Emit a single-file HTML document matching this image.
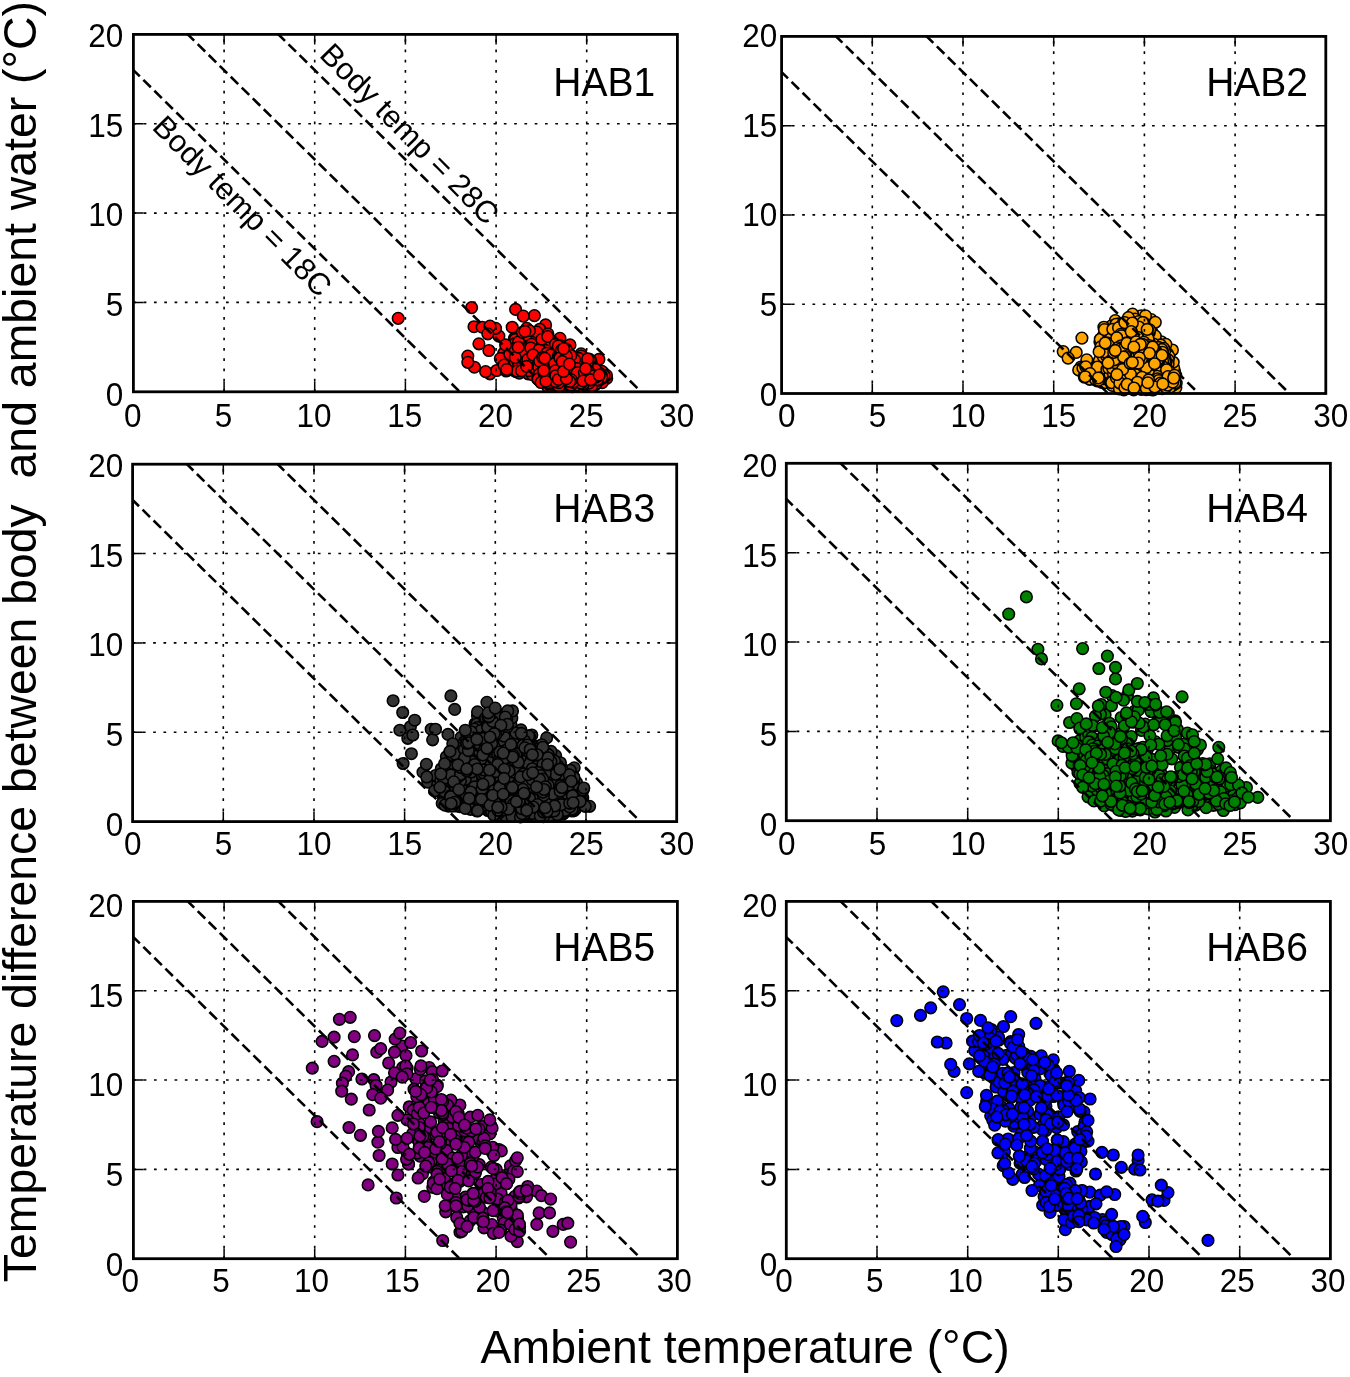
<!DOCTYPE html>
<html lang="en"><head><meta charset="utf-8"><title>Body vs ambient temperature</title>
<style>
html,body{margin:0;padding:0;background:#fff}
body{width:1350px;height:1377px;overflow:hidden}
svg{display:block}
text{font-family:"Liberation Sans", Arial, Helvetica, sans-serif;fill:#000}
.tl{font-size:31.5px}
.hb{font-size:39.0px}
.bt{font-size:30.85px}
.ax{font-size:46.4px}
.gr{fill:none;stroke:#000;stroke-width:1.6;stroke-dasharray:2.7 7.59}
.tk{fill:none;stroke:#000;stroke-width:1.5}
.ds{fill:none;stroke:#000;stroke-width:2.6;stroke-dasharray:10.5 4.96}
.sp{fill:none;stroke:#000;stroke-width:2.8}
.mk{stroke:#000;stroke-width:1.55}
</style></head>
<body>
<svg width="1350" height="1377" viewBox="0 0 1350 1377">
<rect width="1350" height="1377" fill="#fff"/>
<g>
<clipPath id="cp0"><rect x="133.4" y="34.4" width="544" height="357.4"/></clipPath>
<g class="mk" fill="#ff0000"><circle cx="594" cy="363.2" r="5.8"/><circle cx="515.9" cy="371.6" r="5.8"/><circle cx="564.9" cy="354.1" r="5.8"/><circle cx="594.8" cy="385" r="5.8"/><circle cx="558" cy="356.3" r="5.8"/><circle cx="606.7" cy="378.3" r="5.8"/><circle cx="538.7" cy="379.5" r="5.8"/><circle cx="524" cy="361.9" r="5.8"/><circle cx="585" cy="386.5" r="5.8"/><circle cx="536.1" cy="366.3" r="5.8"/><circle cx="555.8" cy="353.7" r="5.8"/><circle cx="560.7" cy="352.9" r="5.8"/><circle cx="530.3" cy="350.7" r="5.8"/><circle cx="516.4" cy="340" r="5.8"/><circle cx="534.6" cy="365.4" r="5.8"/><circle cx="565.8" cy="356.9" r="5.8"/><circle cx="548.9" cy="362.3" r="5.8"/><circle cx="504.6" cy="361.9" r="5.8"/><circle cx="517.5" cy="364.9" r="5.8"/><circle cx="583.8" cy="367.8" r="5.8"/><circle cx="578.6" cy="366" r="5.8"/><circle cx="581.8" cy="371" r="5.8"/><circle cx="598.2" cy="378.3" r="5.8"/><circle cx="565.5" cy="351" r="5.8"/><circle cx="572.5" cy="362" r="5.8"/><circle cx="552.3" cy="379.1" r="5.8"/><circle cx="531.2" cy="359.8" r="5.8"/><circle cx="547.2" cy="370.1" r="5.8"/><circle cx="570.3" cy="356.4" r="5.8"/><circle cx="594.4" cy="376.1" r="5.8"/><circle cx="525.2" cy="347.3" r="5.8"/><circle cx="596.9" cy="382.8" r="5.8"/><circle cx="588.9" cy="360.7" r="5.8"/><circle cx="571.8" cy="381.5" r="5.8"/><circle cx="536.8" cy="336.4" r="5.8"/><circle cx="560.2" cy="363.5" r="5.8"/><circle cx="503.8" cy="353.2" r="5.8"/><circle cx="596.6" cy="372.4" r="5.8"/><circle cx="474" cy="326.7" r="5.8"/><circle cx="543.1" cy="375.7" r="5.8"/><circle cx="583.9" cy="370.3" r="5.8"/><circle cx="554" cy="357.8" r="5.8"/><circle cx="580.1" cy="380.3" r="5.8"/><circle cx="545.6" cy="324.9" r="5.8"/><circle cx="553.3" cy="375.4" r="5.8"/><circle cx="577.9" cy="376.8" r="5.8"/><circle cx="530.3" cy="337.8" r="5.8"/><circle cx="490" cy="373.8" r="5.8"/><circle cx="530.1" cy="345.4" r="5.8"/><circle cx="593.8" cy="370.9" r="5.8"/><circle cx="554.8" cy="355.7" r="5.8"/><circle cx="519.4" cy="358.5" r="5.8"/><circle cx="578.1" cy="375.9" r="5.8"/><circle cx="555.7" cy="359" r="5.8"/><circle cx="518.6" cy="351.5" r="5.8"/><circle cx="474.4" cy="367.2" r="5.8"/><circle cx="560.3" cy="357.9" r="5.8"/><circle cx="524.9" cy="370.2" r="5.8"/><circle cx="562.6" cy="355.3" r="5.8"/><circle cx="542.5" cy="362.8" r="5.8"/><circle cx="553.2" cy="363.9" r="5.8"/><circle cx="502.2" cy="358.3" r="5.8"/><circle cx="541.5" cy="374.7" r="5.8"/><circle cx="543.4" cy="372" r="5.8"/><circle cx="555.7" cy="353" r="5.8"/><circle cx="545.3" cy="380.3" r="5.8"/><circle cx="578" cy="374.2" r="5.8"/><circle cx="549" cy="354.2" r="5.8"/><circle cx="591.4" cy="367.2" r="5.8"/><circle cx="501.9" cy="359.2" r="5.8"/><circle cx="558.1" cy="355.9" r="5.8"/><circle cx="558.1" cy="375.1" r="5.8"/><circle cx="560.7" cy="359.7" r="5.8"/><circle cx="512.2" cy="345.9" r="5.8"/><circle cx="552.3" cy="364.4" r="5.8"/><circle cx="589.2" cy="368.2" r="5.8"/><circle cx="556.2" cy="374.6" r="5.8"/><circle cx="560.7" cy="378.8" r="5.8"/><circle cx="588.5" cy="363.3" r="5.8"/><circle cx="555.8" cy="381.8" r="5.8"/><circle cx="553.9" cy="385" r="5.8"/><circle cx="543.2" cy="380.1" r="5.8"/><circle cx="552.5" cy="362.6" r="5.8"/><circle cx="572.9" cy="373.3" r="5.8"/><circle cx="553.6" cy="361.3" r="5.8"/><circle cx="589.4" cy="365.1" r="5.8"/><circle cx="539.9" cy="377.6" r="5.8"/><circle cx="602.2" cy="382.7" r="5.8"/><circle cx="554.3" cy="352.9" r="5.8"/><circle cx="542.9" cy="355.5" r="5.8"/><circle cx="553.3" cy="368.3" r="5.8"/><circle cx="582.4" cy="363" r="5.8"/><circle cx="592.2" cy="369.4" r="5.8"/><circle cx="590.8" cy="375.7" r="5.8"/><circle cx="518.9" cy="347.2" r="5.8"/><circle cx="571.8" cy="368.7" r="5.8"/><circle cx="526.5" cy="370.2" r="5.8"/><circle cx="556.3" cy="376.4" r="5.8"/><circle cx="564.9" cy="373.4" r="5.8"/><circle cx="583.3" cy="363" r="5.8"/><circle cx="522" cy="358.3" r="5.8"/><circle cx="547.5" cy="386.4" r="5.8"/><circle cx="515.6" cy="309.4" r="5.8"/><circle cx="555" cy="348.4" r="5.8"/><circle cx="520.4" cy="343.8" r="5.8"/><circle cx="509.3" cy="348.3" r="5.8"/><circle cx="550.8" cy="365.3" r="5.8"/><circle cx="567.3" cy="353.8" r="5.8"/><circle cx="537" cy="361.1" r="5.8"/><circle cx="563.6" cy="378.7" r="5.8"/><circle cx="488.9" cy="350.5" r="5.8"/><circle cx="570" cy="344.9" r="5.8"/><circle cx="542.2" cy="371" r="5.8"/><circle cx="577.4" cy="373.2" r="5.8"/><circle cx="511.2" cy="357.9" r="5.8"/><circle cx="587.1" cy="368.7" r="5.8"/><circle cx="569.5" cy="370.3" r="5.8"/><circle cx="533.1" cy="359.7" r="5.8"/><circle cx="591.7" cy="366.3" r="5.8"/><circle cx="577.7" cy="369.4" r="5.8"/><circle cx="482.2" cy="327.2" r="5.8"/><circle cx="550.6" cy="367.9" r="5.8"/><circle cx="535.3" cy="348.6" r="5.8"/><circle cx="560.2" cy="356.8" r="5.8"/><circle cx="547.2" cy="357.8" r="5.8"/><circle cx="525.1" cy="368.2" r="5.8"/><circle cx="584.9" cy="369.4" r="5.8"/><circle cx="515.9" cy="341.4" r="5.8"/><circle cx="526.4" cy="334.9" r="5.8"/><circle cx="565.7" cy="383.4" r="5.8"/><circle cx="598.9" cy="359.4" r="5.8"/><circle cx="550.1" cy="384.5" r="5.8"/><circle cx="590.9" cy="361" r="5.8"/><circle cx="550.8" cy="384" r="5.8"/><circle cx="398.2" cy="318.3" r="5.8"/><circle cx="496.7" cy="370.5" r="5.8"/><circle cx="558.1" cy="354.3" r="5.8"/><circle cx="583.4" cy="366.8" r="5.8"/><circle cx="551.5" cy="372.7" r="5.8"/><circle cx="514.2" cy="370.4" r="5.8"/><circle cx="500.3" cy="358.6" r="5.8"/><circle cx="513.5" cy="353.8" r="5.8"/><circle cx="587.9" cy="385" r="5.8"/><circle cx="597.5" cy="372.8" r="5.8"/><circle cx="587.4" cy="362.8" r="5.8"/><circle cx="543.3" cy="358.3" r="5.8"/><circle cx="556.9" cy="355.9" r="5.8"/><circle cx="542" cy="374.7" r="5.8"/><circle cx="586.7" cy="360.5" r="5.8"/><circle cx="573.2" cy="385.2" r="5.8"/><circle cx="498.9" cy="336.1" r="5.8"/><circle cx="573.3" cy="358.3" r="5.8"/><circle cx="562.9" cy="366.7" r="5.8"/><circle cx="549.2" cy="376.9" r="5.8"/><circle cx="559.9" cy="357.9" r="5.8"/><circle cx="570.9" cy="369.7" r="5.8"/><circle cx="528.2" cy="373.8" r="5.8"/><circle cx="567.7" cy="370.6" r="5.8"/><circle cx="556.1" cy="371.4" r="5.8"/><circle cx="495.6" cy="328.3" r="5.8"/><circle cx="518.5" cy="366.8" r="5.8"/><circle cx="578.5" cy="373.9" r="5.8"/><circle cx="514.4" cy="338.3" r="5.8"/><circle cx="515.3" cy="339.4" r="5.8"/><circle cx="580" cy="369.8" r="5.8"/><circle cx="531.6" cy="344.3" r="5.8"/><circle cx="592.4" cy="366.1" r="5.8"/><circle cx="554.9" cy="357" r="5.8"/><circle cx="603.3" cy="372.7" r="5.8"/><circle cx="565.5" cy="353.5" r="5.8"/><circle cx="565.6" cy="386.5" r="5.8"/><circle cx="537.5" cy="378.1" r="5.8"/><circle cx="595.7" cy="374.1" r="5.8"/><circle cx="588.1" cy="366.3" r="5.8"/><circle cx="561.8" cy="381.4" r="5.8"/><circle cx="583" cy="369.9" r="5.8"/><circle cx="544.8" cy="367.8" r="5.8"/><circle cx="507.7" cy="369.7" r="5.8"/><circle cx="550.3" cy="363" r="5.8"/><circle cx="557.7" cy="369.7" r="5.8"/><circle cx="589.3" cy="369.6" r="5.8"/><circle cx="542" cy="351.9" r="5.8"/><circle cx="597.8" cy="380.1" r="5.8"/><circle cx="566.5" cy="367.2" r="5.8"/><circle cx="564.4" cy="370.1" r="5.8"/><circle cx="561.2" cy="365" r="5.8"/><circle cx="557.7" cy="368.9" r="5.8"/><circle cx="575.8" cy="369.6" r="5.8"/><circle cx="548.1" cy="337.1" r="5.8"/><circle cx="542.4" cy="341.9" r="5.8"/><circle cx="540.2" cy="370.5" r="5.8"/><circle cx="515.3" cy="343.4" r="5.8"/><circle cx="602" cy="371.3" r="5.8"/><circle cx="574.1" cy="373.7" r="5.8"/><circle cx="539.8" cy="329.2" r="5.8"/><circle cx="562.3" cy="355.7" r="5.8"/><circle cx="548.6" cy="354.9" r="5.8"/><circle cx="602.6" cy="378.2" r="5.8"/><circle cx="559.1" cy="364.5" r="5.8"/><circle cx="573.6" cy="378" r="5.8"/><circle cx="576" cy="359.6" r="5.8"/><circle cx="547.8" cy="370" r="5.8"/><circle cx="553" cy="365.5" r="5.8"/><circle cx="568.2" cy="363.8" r="5.8"/><circle cx="542.8" cy="357.9" r="5.8"/><circle cx="509.8" cy="354.1" r="5.8"/><circle cx="572.4" cy="386.6" r="5.8"/><circle cx="559.7" cy="358.1" r="5.8"/><circle cx="575.9" cy="376.4" r="5.8"/><circle cx="520.2" cy="360.5" r="5.8"/><circle cx="558.9" cy="355" r="5.8"/><circle cx="569.9" cy="383.3" r="5.8"/><circle cx="534.4" cy="315.6" r="5.8"/><circle cx="554.1" cy="368.1" r="5.8"/><circle cx="541.8" cy="373.9" r="5.8"/><circle cx="517.1" cy="368.1" r="5.8"/><circle cx="552.7" cy="350.7" r="5.8"/><circle cx="560.1" cy="376" r="5.8"/><circle cx="514.3" cy="348.8" r="5.8"/><circle cx="595.8" cy="372.1" r="5.8"/><circle cx="544.4" cy="367.2" r="5.8"/><circle cx="547.9" cy="333.9" r="5.8"/><circle cx="547.8" cy="348.9" r="5.8"/><circle cx="549.6" cy="382.1" r="5.8"/><circle cx="589.7" cy="360.5" r="5.8"/><circle cx="576.6" cy="383" r="5.8"/><circle cx="553.6" cy="369.8" r="5.8"/><circle cx="532.3" cy="374.6" r="5.8"/><circle cx="542.4" cy="344" r="5.8"/><circle cx="568.9" cy="353.3" r="5.8"/><circle cx="542.4" cy="364.4" r="5.8"/><circle cx="555.1" cy="374.7" r="5.8"/><circle cx="577.4" cy="361.8" r="5.8"/><circle cx="573.3" cy="356.7" r="5.8"/><circle cx="573.7" cy="370.1" r="5.8"/><circle cx="576.7" cy="365.4" r="5.8"/><circle cx="572.8" cy="360.2" r="5.8"/><circle cx="550.5" cy="377.6" r="5.8"/><circle cx="519.3" cy="373.2" r="5.8"/><circle cx="523.3" cy="316.1" r="5.8"/><circle cx="543.4" cy="367.5" r="5.8"/><circle cx="596.2" cy="383.6" r="5.8"/><circle cx="584.4" cy="384.2" r="5.8"/><circle cx="589.3" cy="368.5" r="5.8"/><circle cx="587.2" cy="371.6" r="5.8"/><circle cx="606.4" cy="375.3" r="5.8"/><circle cx="568.3" cy="363.9" r="5.8"/><circle cx="536.9" cy="332.1" r="5.8"/><circle cx="541.2" cy="365.6" r="5.8"/><circle cx="560" cy="338.3" r="5.8"/><circle cx="562.3" cy="348.9" r="5.8"/><circle cx="518.5" cy="342" r="5.8"/><circle cx="575.4" cy="362.7" r="5.8"/><circle cx="548.8" cy="363.3" r="5.8"/><circle cx="467.8" cy="356.1" r="5.8"/><circle cx="604.1" cy="375.5" r="5.8"/><circle cx="577" cy="376.3" r="5.8"/><circle cx="560.3" cy="345.5" r="5.8"/><circle cx="554.2" cy="378.5" r="5.8"/><circle cx="541.1" cy="358.6" r="5.8"/><circle cx="582.6" cy="364.7" r="5.8"/><circle cx="544.5" cy="370.4" r="5.8"/><circle cx="534.4" cy="351.6" r="5.8"/><circle cx="507.4" cy="365.9" r="5.8"/><circle cx="545.5" cy="360.5" r="5.8"/><circle cx="601.4" cy="375.4" r="5.8"/><circle cx="562" cy="370.8" r="5.8"/><circle cx="590" cy="376.7" r="5.8"/><circle cx="581.9" cy="360" r="5.8"/><circle cx="490" cy="326.1" r="5.8"/><circle cx="563" cy="353.6" r="5.8"/><circle cx="594.2" cy="381.8" r="5.8"/><circle cx="555.8" cy="358.4" r="5.8"/><circle cx="546.7" cy="379.4" r="5.8"/><circle cx="524.8" cy="353.5" r="5.8"/><circle cx="485.6" cy="371.6" r="5.8"/><circle cx="551.4" cy="386.5" r="5.8"/><circle cx="551.7" cy="363.3" r="5.8"/><circle cx="597.2" cy="378.7" r="5.8"/><circle cx="555.3" cy="381.8" r="5.8"/><circle cx="517" cy="371.1" r="5.8"/><circle cx="515.3" cy="357.6" r="5.8"/><circle cx="578" cy="378.1" r="5.8"/><circle cx="518.2" cy="347.2" r="5.8"/><circle cx="553.1" cy="367.5" r="5.8"/><circle cx="575" cy="363.4" r="5.8"/><circle cx="569.8" cy="360.1" r="5.8"/><circle cx="584.2" cy="374.7" r="5.8"/><circle cx="526.7" cy="328.3" r="5.8"/><circle cx="594.4" cy="380.4" r="5.8"/><circle cx="593.5" cy="376.9" r="5.8"/><circle cx="557.6" cy="373.9" r="5.8"/><circle cx="545.7" cy="371.6" r="5.8"/><circle cx="569.2" cy="354.2" r="5.8"/><circle cx="561.9" cy="372.8" r="5.8"/><circle cx="589.6" cy="359.4" r="5.8"/><circle cx="530.8" cy="347.9" r="5.8"/><circle cx="506.3" cy="371" r="5.8"/><circle cx="578.5" cy="385.7" r="5.8"/><circle cx="556.8" cy="381.3" r="5.8"/><circle cx="504" cy="365.1" r="5.8"/><circle cx="559.3" cy="379.4" r="5.8"/><circle cx="568.4" cy="372.7" r="5.8"/><circle cx="565.3" cy="379.5" r="5.8"/><circle cx="551.3" cy="360.3" r="5.8"/><circle cx="538.9" cy="354.5" r="5.8"/><circle cx="570.4" cy="364.4" r="5.8"/><circle cx="574.5" cy="371.3" r="5.8"/><circle cx="586.5" cy="381.5" r="5.8"/><circle cx="568.4" cy="375.8" r="5.8"/><circle cx="568.6" cy="371.4" r="5.8"/><circle cx="593.4" cy="376.6" r="5.8"/><circle cx="531.4" cy="367" r="5.8"/><circle cx="537" cy="369.8" r="5.8"/><circle cx="570.3" cy="374.4" r="5.8"/><circle cx="529.5" cy="330.7" r="5.8"/><circle cx="552.1" cy="341.5" r="5.8"/><circle cx="487.8" cy="333.8" r="5.8"/><circle cx="512.2" cy="327.2" r="5.8"/><circle cx="586.6" cy="363.2" r="5.8"/><circle cx="556.8" cy="371.2" r="5.8"/><circle cx="539" cy="378.6" r="5.8"/><circle cx="564.1" cy="366.8" r="5.8"/><circle cx="471.6" cy="307.6" r="5.8"/><circle cx="578.7" cy="386.5" r="5.8"/><circle cx="568.5" cy="385.4" r="5.8"/><circle cx="567.9" cy="371.7" r="5.8"/><circle cx="528.7" cy="370.7" r="5.8"/><circle cx="558.5" cy="385.5" r="5.8"/><circle cx="539.9" cy="368.2" r="5.8"/><circle cx="557.5" cy="378.2" r="5.8"/><circle cx="563.2" cy="372.8" r="5.8"/><circle cx="548" cy="376.5" r="5.8"/><circle cx="546.2" cy="362" r="5.8"/><circle cx="545.6" cy="364.6" r="5.8"/><circle cx="539.1" cy="349.9" r="5.8"/><circle cx="561.5" cy="358" r="5.8"/><circle cx="521.5" cy="370.8" r="5.8"/><circle cx="550.2" cy="345.5" r="5.8"/><circle cx="539.7" cy="373.3" r="5.8"/><circle cx="582.6" cy="372.9" r="5.8"/><circle cx="478.9" cy="343.8" r="5.8"/><circle cx="557.2" cy="384.3" r="5.8"/><circle cx="543.9" cy="375.5" r="5.8"/><circle cx="527.8" cy="359.4" r="5.8"/><circle cx="558.7" cy="358.9" r="5.8"/><circle cx="553.9" cy="362.9" r="5.8"/><circle cx="548.9" cy="339.7" r="5.8"/><circle cx="526.7" cy="366.4" r="5.8"/><circle cx="572.9" cy="377.1" r="5.8"/><circle cx="555.6" cy="378.5" r="5.8"/><circle cx="581.1" cy="353.8" r="5.8"/><circle cx="573.6" cy="372.9" r="5.8"/><circle cx="585.3" cy="383.1" r="5.8"/><circle cx="551.1" cy="375.8" r="5.8"/><circle cx="467.8" cy="362.3" r="5.8"/><circle cx="533" cy="354.9" r="5.8"/><circle cx="572" cy="377.8" r="5.8"/><circle cx="538.7" cy="367.1" r="5.8"/><circle cx="546.8" cy="353.2" r="5.8"/><circle cx="588.8" cy="372.8" r="5.8"/><circle cx="567.7" cy="360.1" r="5.8"/><circle cx="522.3" cy="332.3" r="5.8"/><circle cx="524.9" cy="331.4" r="5.8"/><circle cx="541.9" cy="339.2" r="5.8"/><circle cx="540.8" cy="376.9" r="5.8"/><circle cx="574.4" cy="361.2" r="5.8"/><circle cx="554.4" cy="384" r="5.8"/><circle cx="547.7" cy="336.5" r="5.8"/><circle cx="565.7" cy="349" r="5.8"/><circle cx="560" cy="378.3" r="5.8"/><circle cx="575.2" cy="374.5" r="5.8"/><circle cx="547" cy="357.3" r="5.8"/><circle cx="560.4" cy="357.5" r="5.8"/><circle cx="506.7" cy="369.4" r="5.8"/><circle cx="542.6" cy="357.5" r="5.8"/><circle cx="557.6" cy="353.6" r="5.8"/><circle cx="583.8" cy="373.4" r="5.8"/><circle cx="574.7" cy="384.5" r="5.8"/><circle cx="540.2" cy="381.2" r="5.8"/><circle cx="555.4" cy="344.4" r="5.8"/><circle cx="572.1" cy="375.6" r="5.8"/><circle cx="561.3" cy="356.5" r="5.8"/><circle cx="505.6" cy="344.9" r="5.8"/><circle cx="559.1" cy="371.8" r="5.8"/><circle cx="538.9" cy="374.8" r="5.8"/><circle cx="583" cy="364.5" r="5.8"/><circle cx="548.9" cy="371" r="5.8"/><circle cx="561.6" cy="361.2" r="5.8"/><circle cx="581.2" cy="356.1" r="5.8"/></g>
<path class="gr" d="M224.1 391.8V34.4M314.7 391.8V34.4M405.4 391.8V34.4M496.1 391.8V34.4M586.7 391.8V34.4M133.4 302.4H677.4M133.4 213.1H677.4M133.4 123.8H677.4"/>
<path class="tk" d="M224.1 391.8v-10.2M224.1 34.4v10.2M314.7 391.8v-10.2M314.7 34.4v10.2M405.4 391.8v-10.2M405.4 34.4v10.2M496.1 391.8v-10.2M496.1 34.4v10.2M586.7 391.8v-10.2M586.7 34.4v10.2M133.4 302.4h10.2M677.4 302.4h-10.2M133.4 213.1h10.2M677.4 213.1h-10.2M133.4 123.8h10.2M677.4 123.8h-10.2"/>
<path class="ds" clip-path="url(#cp0)" stroke-dashoffset="1.5" d="M133.4 70.1L459.8 391.8"/>
<path class="ds" clip-path="url(#cp0)" stroke-dashoffset="2.5" d="M133.4 -19.2L550.5 391.8"/>
<path class="ds" clip-path="url(#cp0)" stroke-dashoffset="-1.4" d="M133.4 -108.6L641.1 391.8"/>
<g class="mk" fill="#ff0000"><circle cx="591.1" cy="376.4" r="5.8"/><circle cx="556.4" cy="351.2" r="5.8"/><circle cx="567.2" cy="378" r="5.8"/><circle cx="558.3" cy="345.9" r="5.8"/><circle cx="591.1" cy="367.5" r="5.8"/><circle cx="599.3" cy="373" r="5.8"/><circle cx="554" cy="380" r="5.8"/><circle cx="574" cy="384" r="5.8"/><circle cx="583.4" cy="375.5" r="5.8"/><circle cx="545.7" cy="358.8" r="5.8"/><circle cx="591.7" cy="386.2" r="5.8"/><circle cx="570.1" cy="380.4" r="5.8"/><circle cx="571.1" cy="363.8" r="5.8"/><circle cx="568.9" cy="367.2" r="5.8"/><circle cx="560.4" cy="382.8" r="5.8"/><circle cx="555.3" cy="372.9" r="5.8"/><circle cx="550.4" cy="370.2" r="5.8"/><circle cx="567.5" cy="364.1" r="5.8"/><circle cx="572.5" cy="363.1" r="5.8"/><circle cx="564.1" cy="369.3" r="5.8"/><circle cx="574.4" cy="382.2" r="5.8"/><circle cx="542.2" cy="362.8" r="5.8"/><circle cx="552" cy="384" r="5.8"/><circle cx="588.1" cy="366.7" r="5.8"/><circle cx="598.9" cy="380.2" r="5.8"/><circle cx="560.5" cy="362" r="5.8"/><circle cx="561.4" cy="382.5" r="5.8"/><circle cx="566.4" cy="359.5" r="5.8"/><circle cx="562" cy="377.1" r="5.8"/><circle cx="544.9" cy="369.4" r="5.8"/><circle cx="596.8" cy="375.6" r="5.8"/><circle cx="548.3" cy="383.3" r="5.8"/><circle cx="569.9" cy="366.6" r="5.8"/><circle cx="601.7" cy="377.6" r="5.8"/><circle cx="585.5" cy="378.2" r="5.8"/><circle cx="593.5" cy="369.2" r="5.8"/><circle cx="580.8" cy="377" r="5.8"/><circle cx="550.6" cy="355.1" r="5.8"/><circle cx="567.5" cy="358" r="5.8"/><circle cx="580.7" cy="374.5" r="5.8"/><circle cx="597.6" cy="379.7" r="5.8"/><circle cx="595.8" cy="377.2" r="5.8"/><circle cx="558.3" cy="355.8" r="5.8"/><circle cx="559.2" cy="355.7" r="5.8"/><circle cx="572.7" cy="359.9" r="5.8"/><circle cx="575.9" cy="372.3" r="5.8"/><circle cx="574.4" cy="373.9" r="5.8"/><circle cx="544.3" cy="371.7" r="5.8"/><circle cx="565" cy="352.8" r="5.8"/><circle cx="566.4" cy="370.4" r="5.8"/><circle cx="579.3" cy="364.2" r="5.8"/><circle cx="557.6" cy="362.5" r="5.8"/><circle cx="593.8" cy="376.3" r="5.8"/><circle cx="570.3" cy="370.9" r="5.8"/><circle cx="567.7" cy="371.5" r="5.8"/><circle cx="562.9" cy="383.4" r="5.8"/><circle cx="547.5" cy="371.1" r="5.8"/><circle cx="539.7" cy="361.1" r="5.8"/><circle cx="556.3" cy="384.2" r="5.8"/><circle cx="555.9" cy="380.9" r="5.8"/><circle cx="559" cy="380.2" r="5.8"/><circle cx="564.9" cy="369" r="5.8"/><circle cx="558.8" cy="357.5" r="5.8"/><circle cx="558.7" cy="366.4" r="5.8"/><circle cx="574.5" cy="382.2" r="5.8"/><circle cx="564.6" cy="362.5" r="5.8"/><circle cx="579.5" cy="373.7" r="5.8"/><circle cx="562.6" cy="350.8" r="5.8"/><circle cx="566.3" cy="349.7" r="5.8"/><circle cx="542.8" cy="357.5" r="5.8"/><circle cx="572.3" cy="381.8" r="5.8"/><circle cx="564.4" cy="377.2" r="5.8"/><circle cx="559.1" cy="386.5" r="5.8"/><circle cx="550.3" cy="363.7" r="5.8"/><circle cx="568.8" cy="373.5" r="5.8"/><circle cx="582.3" cy="371.9" r="5.8"/><circle cx="578.3" cy="370.9" r="5.8"/><circle cx="562.5" cy="358.2" r="5.8"/><circle cx="537.9" cy="379.2" r="5.8"/><circle cx="576" cy="385.4" r="5.8"/><circle cx="571" cy="385.3" r="5.8"/><circle cx="563.7" cy="355.8" r="5.8"/><circle cx="588.9" cy="383.1" r="5.8"/><circle cx="575.5" cy="363.2" r="5.8"/><circle cx="553.5" cy="365.4" r="5.8"/><circle cx="588.2" cy="375.5" r="5.8"/><circle cx="564" cy="375.1" r="5.8"/><circle cx="570.3" cy="362.8" r="5.8"/><circle cx="546" cy="380" r="5.8"/><circle cx="578.8" cy="358.4" r="5.8"/><circle cx="576.7" cy="371.2" r="5.8"/><circle cx="595.5" cy="369.4" r="5.8"/><circle cx="556.4" cy="371.6" r="5.8"/><circle cx="578.5" cy="380.5" r="5.8"/><circle cx="559.1" cy="372.4" r="5.8"/><circle cx="583.3" cy="384" r="5.8"/><circle cx="587" cy="377.4" r="5.8"/><circle cx="558.7" cy="382.6" r="5.8"/><circle cx="569.9" cy="362.8" r="5.8"/><circle cx="539.3" cy="374.2" r="5.8"/><circle cx="566.3" cy="374" r="5.8"/><circle cx="561.4" cy="350.1" r="5.8"/><circle cx="538.1" cy="379" r="5.8"/><circle cx="544.8" cy="358.2" r="5.8"/><circle cx="574.6" cy="359.7" r="5.8"/><circle cx="581.1" cy="383.1" r="5.8"/><circle cx="557.6" cy="365.7" r="5.8"/><circle cx="567" cy="358.2" r="5.8"/><circle cx="561.9" cy="371.2" r="5.8"/><circle cx="573.2" cy="382.3" r="5.8"/><circle cx="543.8" cy="372.3" r="5.8"/><circle cx="575.7" cy="376.6" r="5.8"/><circle cx="567.8" cy="357.9" r="5.8"/><circle cx="548.5" cy="382.8" r="5.8"/><circle cx="554.5" cy="363.7" r="5.8"/><circle cx="587.3" cy="364.4" r="5.8"/><circle cx="574.7" cy="373.2" r="5.8"/><circle cx="555.2" cy="381.5" r="5.8"/><circle cx="572.8" cy="367.8" r="5.8"/><circle cx="570.8" cy="355.6" r="5.8"/><circle cx="544.5" cy="374.1" r="5.8"/><circle cx="592.3" cy="374.8" r="5.8"/><circle cx="555.3" cy="370.8" r="5.8"/><circle cx="541.1" cy="382.5" r="5.8"/><circle cx="545.9" cy="381.3" r="5.8"/><circle cx="576.7" cy="368.6" r="5.8"/><circle cx="555.8" cy="375.7" r="5.8"/><circle cx="559.9" cy="358" r="5.8"/><circle cx="580.7" cy="374.8" r="5.8"/><circle cx="572" cy="379.2" r="5.8"/><circle cx="580.2" cy="374.7" r="5.8"/><circle cx="587.7" cy="370.2" r="5.8"/><circle cx="577.2" cy="372.7" r="5.8"/><circle cx="571.3" cy="379.8" r="5.8"/><circle cx="584.3" cy="372.6" r="5.8"/><circle cx="543.7" cy="370.6" r="5.8"/><circle cx="587.7" cy="358.9" r="5.8"/><circle cx="592.7" cy="376.1" r="5.8"/><circle cx="566.3" cy="355.9" r="5.8"/><circle cx="585.6" cy="368.7" r="5.8"/><circle cx="583.1" cy="380.9" r="5.8"/><circle cx="569.8" cy="381.5" r="5.8"/><circle cx="562.3" cy="361.6" r="5.8"/><circle cx="558.4" cy="379.4" r="5.8"/><circle cx="590.7" cy="379.8" r="5.8"/><circle cx="566.4" cy="378.7" r="5.8"/><circle cx="563.6" cy="348.6" r="5.8"/><circle cx="563.4" cy="371.5" r="5.8"/><circle cx="599.2" cy="375.1" r="5.8"/><circle cx="569.4" cy="364.1" r="5.8"/></g>
<rect class="sp" x="133.4" y="34.4" width="544" height="357.4"/>
<text class="tl" text-anchor="end" transform="translate(123.3 46.9) scale(1 1.035)">20</text>
<text class="tl" text-anchor="end" transform="translate(123.3 136.6) scale(1 1.035)">15</text>
<text class="tl" text-anchor="end" transform="translate(123.3 226.3) scale(1 1.035)">10</text>
<text class="tl" text-anchor="end" transform="translate(123.3 316) scale(1 1.035)">5</text>
<text class="tl" text-anchor="end" transform="translate(123.3 405.7) scale(1 1.035)">0</text>
<text class="tl" text-anchor="middle" transform="translate(132.8 427.4) scale(1 1.035)">0</text>
<text class="tl" text-anchor="middle" transform="translate(223.5 427.4) scale(1 1.035)">5</text>
<text class="tl" text-anchor="middle" transform="translate(314.1 427.4) scale(1 1.035)">10</text>
<text class="tl" text-anchor="middle" transform="translate(404.8 427.4) scale(1 1.035)">15</text>
<text class="tl" text-anchor="middle" transform="translate(495.5 427.4) scale(1 1.035)">20</text>
<text class="tl" text-anchor="middle" transform="translate(586.2 427.4) scale(1 1.035)">25</text>
<text class="tl" text-anchor="middle" transform="translate(676.8 427.4) scale(1 1.035)">30</text>
<text class="hb" transform="translate(553.3 96.4) scale(1 1.035)">HAB1</text>
</g>
<g>
<clipPath id="cp1"><rect x="781.6" y="36.4" width="544.2" height="357.1"/></clipPath>
<g class="mk" fill="#ffa500"><circle cx="1131.4" cy="317.9" r="5.8"/><circle cx="1097.9" cy="364.8" r="5.8"/><circle cx="1137.8" cy="329.4" r="5.8"/><circle cx="1141.2" cy="315.7" r="5.8"/><circle cx="1103" cy="380" r="5.8"/><circle cx="1151.2" cy="319.6" r="5.8"/><circle cx="1130.6" cy="336.8" r="5.8"/><circle cx="1170" cy="362.6" r="5.8"/><circle cx="1085.2" cy="368.4" r="5.8"/><circle cx="1110.6" cy="331.4" r="5.8"/><circle cx="1115.3" cy="333.2" r="5.8"/><circle cx="1105" cy="342" r="5.8"/><circle cx="1167.5" cy="361" r="5.8"/><circle cx="1092.4" cy="376.4" r="5.8"/><circle cx="1112.2" cy="336.6" r="5.8"/><circle cx="1115.3" cy="320.6" r="5.8"/><circle cx="1119.3" cy="343.9" r="5.8"/><circle cx="1175.8" cy="375.4" r="5.8"/><circle cx="1095.1" cy="368.3" r="5.8"/><circle cx="1172.4" cy="350" r="5.8"/><circle cx="1108.3" cy="347.3" r="5.8"/><circle cx="1086.8" cy="359.8" r="5.8"/><circle cx="1133" cy="321.3" r="5.8"/><circle cx="1102.7" cy="378.5" r="5.8"/><circle cx="1089.8" cy="379.3" r="5.8"/><circle cx="1134.9" cy="337.8" r="5.8"/><circle cx="1101.7" cy="364.8" r="5.8"/><circle cx="1123.1" cy="323.1" r="5.8"/><circle cx="1133.7" cy="321.7" r="5.8"/><circle cx="1132.4" cy="320.6" r="5.8"/><circle cx="1103.3" cy="367" r="5.8"/><circle cx="1167.4" cy="361.3" r="5.8"/><circle cx="1152.1" cy="340.3" r="5.8"/><circle cx="1132" cy="335.1" r="5.8"/><circle cx="1147.8" cy="338.1" r="5.8"/><circle cx="1161.2" cy="341.7" r="5.8"/><circle cx="1107.1" cy="348.1" r="5.8"/><circle cx="1111.4" cy="342.1" r="5.8"/><circle cx="1109.3" cy="341" r="5.8"/><circle cx="1143.7" cy="326.4" r="5.8"/><circle cx="1152.3" cy="332.7" r="5.8"/><circle cx="1097.1" cy="380.9" r="5.8"/><circle cx="1110.1" cy="351" r="5.8"/><circle cx="1165.9" cy="344.3" r="5.8"/><circle cx="1120.7" cy="325.9" r="5.8"/><circle cx="1116.5" cy="324.5" r="5.8"/><circle cx="1118.9" cy="341.6" r="5.8"/><circle cx="1131.6" cy="324.5" r="5.8"/><circle cx="1106.4" cy="334.7" r="5.8"/><circle cx="1174.5" cy="371.3" r="5.8"/><circle cx="1122.8" cy="341.5" r="5.8"/><circle cx="1088.2" cy="372.2" r="5.8"/><circle cx="1105.8" cy="348.1" r="5.8"/><circle cx="1146.9" cy="328.6" r="5.8"/><circle cx="1141.2" cy="327.9" r="5.8"/><circle cx="1105.1" cy="379.1" r="5.8"/><circle cx="1139.1" cy="325.4" r="5.8"/><circle cx="1120.2" cy="325.5" r="5.8"/><circle cx="1141.8" cy="322.9" r="5.8"/><circle cx="1116.8" cy="344.7" r="5.8"/><circle cx="1081.5" cy="370.8" r="5.8"/><circle cx="1090.3" cy="374.4" r="5.8"/><circle cx="1081" cy="367" r="5.8"/><circle cx="1105" cy="329.8" r="5.8"/><circle cx="1110.1" cy="347.9" r="5.8"/><circle cx="1132.5" cy="314.1" r="5.8"/><circle cx="1114.5" cy="348.8" r="5.8"/><circle cx="1101.8" cy="382.3" r="5.8"/><circle cx="1127.3" cy="326.7" r="5.8"/><circle cx="1129.8" cy="323.5" r="5.8"/><circle cx="1117.2" cy="338.6" r="5.8"/><circle cx="1105.2" cy="339.8" r="5.8"/><circle cx="1105.6" cy="382.6" r="5.8"/><circle cx="1157.3" cy="343.1" r="5.8"/><circle cx="1103.1" cy="336.2" r="5.8"/><circle cx="1146.3" cy="329.7" r="5.8"/><circle cx="1113.3" cy="338.3" r="5.8"/><circle cx="1173.7" cy="367.8" r="5.8"/><circle cx="1110" cy="331.2" r="5.8"/><circle cx="1095.6" cy="379.5" r="5.8"/><circle cx="1142.4" cy="329.5" r="5.8"/><circle cx="1145.5" cy="315.8" r="5.8"/><circle cx="1107.8" cy="338.3" r="5.8"/><circle cx="1125.5" cy="334.8" r="5.8"/><circle cx="1136.7" cy="328" r="5.8"/><circle cx="1081.9" cy="338.1" r="5.8"/><circle cx="1135" cy="334" r="5.8"/><circle cx="1136.8" cy="334.7" r="5.8"/><circle cx="1105.1" cy="356" r="5.8"/><circle cx="1079.4" cy="370.2" r="5.8"/><circle cx="1110" cy="351.7" r="5.8"/><circle cx="1099.8" cy="362.7" r="5.8"/><circle cx="1152.1" cy="344.7" r="5.8"/><circle cx="1148.9" cy="338" r="5.8"/><circle cx="1116.3" cy="327.8" r="5.8"/><circle cx="1147.4" cy="336.6" r="5.8"/><circle cx="1173.2" cy="362.2" r="5.8"/><circle cx="1155.3" cy="336.1" r="5.8"/><circle cx="1106.4" cy="348.8" r="5.8"/><circle cx="1102.3" cy="341.4" r="5.8"/><circle cx="1115.4" cy="332.9" r="5.8"/><circle cx="1129.5" cy="330" r="5.8"/><circle cx="1167.3" cy="353.5" r="5.8"/><circle cx="1097.4" cy="373.8" r="5.8"/><circle cx="1133.8" cy="340.2" r="5.8"/><circle cx="1160.5" cy="353.1" r="5.8"/><circle cx="1160.5" cy="344.9" r="5.8"/><circle cx="1175.9" cy="387.6" r="5.8"/><circle cx="1111.7" cy="326.8" r="5.8"/><circle cx="1124.1" cy="330.6" r="5.8"/><circle cx="1141.7" cy="338.4" r="5.8"/><circle cx="1111.8" cy="336.3" r="5.8"/><circle cx="1150.4" cy="326.2" r="5.8"/><circle cx="1112.5" cy="346" r="5.8"/><circle cx="1098.9" cy="366.4" r="5.8"/><circle cx="1102.2" cy="341" r="5.8"/><circle cx="1132.1" cy="329.7" r="5.8"/><circle cx="1112.5" cy="347.9" r="5.8"/><circle cx="1149.3" cy="332.4" r="5.8"/><circle cx="1099.9" cy="370" r="5.8"/><circle cx="1113.5" cy="344.3" r="5.8"/><circle cx="1103.7" cy="378.7" r="5.8"/><circle cx="1106" cy="377" r="5.8"/><circle cx="1155.3" cy="322.3" r="5.8"/><circle cx="1111.2" cy="326.1" r="5.8"/><circle cx="1108.8" cy="350.7" r="5.8"/><circle cx="1158.4" cy="347.9" r="5.8"/><circle cx="1149.6" cy="329.8" r="5.8"/><circle cx="1078.7" cy="369.9" r="5.8"/><circle cx="1159" cy="348" r="5.8"/><circle cx="1102" cy="367.7" r="5.8"/><circle cx="1116.9" cy="325.9" r="5.8"/><circle cx="1147.3" cy="329.3" r="5.8"/><circle cx="1099.9" cy="341.8" r="5.8"/><circle cx="1106.6" cy="330.2" r="5.8"/><circle cx="1100.3" cy="339.2" r="5.8"/><circle cx="1145.8" cy="331.7" r="5.8"/><circle cx="1107" cy="352.4" r="5.8"/><circle cx="1103.9" cy="327.2" r="5.8"/><circle cx="1121.1" cy="342.9" r="5.8"/><circle cx="1134.9" cy="319" r="5.8"/><circle cx="1168.9" cy="356.3" r="5.8"/><circle cx="1114.3" cy="348.5" r="5.8"/><circle cx="1101.7" cy="353.1" r="5.8"/><circle cx="1110.4" cy="343" r="5.8"/><circle cx="1084.4" cy="377.1" r="5.8"/><circle cx="1084.6" cy="375.4" r="5.8"/><circle cx="1119" cy="323.7" r="5.8"/><circle cx="1108.8" cy="337.9" r="5.8"/><circle cx="1108.9" cy="334" r="5.8"/><circle cx="1138.7" cy="321.5" r="5.8"/><circle cx="1102" cy="350" r="5.8"/><circle cx="1141.5" cy="334.9" r="5.8"/><circle cx="1153.5" cy="344" r="5.8"/><circle cx="1144.8" cy="331.2" r="5.8"/><circle cx="1138.5" cy="337.5" r="5.8"/><circle cx="1100.4" cy="376.1" r="5.8"/><circle cx="1103" cy="361.7" r="5.8"/><circle cx="1147.1" cy="330.7" r="5.8"/><circle cx="1120.6" cy="329.4" r="5.8"/><circle cx="1104.4" cy="329.6" r="5.8"/><circle cx="1126.2" cy="330.6" r="5.8"/><circle cx="1105.6" cy="366.5" r="5.8"/><circle cx="1110.9" cy="349" r="5.8"/><circle cx="1115.4" cy="335.4" r="5.8"/><circle cx="1159.2" cy="350.5" r="5.8"/><circle cx="1130.3" cy="326.4" r="5.8"/><circle cx="1094.5" cy="368.3" r="5.8"/><circle cx="1099.4" cy="360.5" r="5.8"/><circle cx="1103.9" cy="355.1" r="5.8"/><circle cx="1164.7" cy="350.7" r="5.8"/><circle cx="1137.2" cy="333.7" r="5.8"/><circle cx="1082.9" cy="367.9" r="5.8"/><circle cx="1147.1" cy="334" r="5.8"/><circle cx="1113.1" cy="336.8" r="5.8"/><circle cx="1125" cy="335.8" r="5.8"/><circle cx="1168.2" cy="359.9" r="5.8"/><circle cx="1176.2" cy="383.1" r="5.8"/><circle cx="1110.5" cy="352" r="5.8"/><circle cx="1100.9" cy="346.9" r="5.8"/><circle cx="1085.8" cy="366.8" r="5.8"/><circle cx="1116" cy="324.2" r="5.8"/><circle cx="1103.3" cy="356.7" r="5.8"/><circle cx="1163.5" cy="348.2" r="5.8"/><circle cx="1131.2" cy="322.5" r="5.8"/><circle cx="1126.7" cy="337.5" r="5.8"/><circle cx="1106.7" cy="356" r="5.8"/><circle cx="1087.7" cy="374.7" r="5.8"/><circle cx="1108" cy="347.1" r="5.8"/><circle cx="1128.8" cy="333.1" r="5.8"/><circle cx="1097.4" cy="367.1" r="5.8"/><circle cx="1143.7" cy="322.9" r="5.8"/><circle cx="1110.3" cy="339.1" r="5.8"/><circle cx="1122.4" cy="324.4" r="5.8"/><circle cx="1105.7" cy="352.1" r="5.8"/><circle cx="1107.4" cy="343.5" r="5.8"/><circle cx="1142.6" cy="322.6" r="5.8"/><circle cx="1098.6" cy="380.2" r="5.8"/><circle cx="1112.8" cy="329.3" r="5.8"/><circle cx="1063.2" cy="351.6" r="5.8"/><circle cx="1128.2" cy="336.1" r="5.8"/><circle cx="1165" cy="358" r="5.8"/><circle cx="1133.2" cy="336" r="5.8"/><circle cx="1118.5" cy="327.7" r="5.8"/><circle cx="1126.3" cy="333.8" r="5.8"/><circle cx="1090" cy="373.6" r="5.8"/><circle cx="1138.9" cy="327" r="5.8"/><circle cx="1076.2" cy="352.4" r="5.8"/><circle cx="1137.5" cy="337.3" r="5.8"/><circle cx="1158.4" cy="347.4" r="5.8"/><circle cx="1131.2" cy="330.9" r="5.8"/><circle cx="1149.3" cy="342.4" r="5.8"/><circle cx="1128.4" cy="317.6" r="5.8"/><circle cx="1124.8" cy="322.6" r="5.8"/><circle cx="1124.1" cy="338.5" r="5.8"/><circle cx="1161.8" cy="349.4" r="5.8"/><circle cx="1106.7" cy="342.8" r="5.8"/><circle cx="1098.3" cy="377.9" r="5.8"/><circle cx="1120.7" cy="334.3" r="5.8"/><circle cx="1114" cy="342.6" r="5.8"/><circle cx="1148" cy="338.4" r="5.8"/><circle cx="1085.2" cy="376.7" r="5.8"/><circle cx="1121.5" cy="335.8" r="5.8"/><circle cx="1068.1" cy="358.1" r="5.8"/><circle cx="1147.2" cy="329.4" r="5.8"/><circle cx="1099.1" cy="351.7" r="5.8"/><circle cx="1132.3" cy="323" r="5.8"/><circle cx="1116.8" cy="337.7" r="5.8"/><circle cx="1131.2" cy="331.6" r="5.8"/><circle cx="1162.4" cy="352.2" r="5.8"/><circle cx="1105.2" cy="343" r="5.8"/><circle cx="1147.4" cy="387.8" r="5.8"/><circle cx="1157.2" cy="368.9" r="5.8"/><circle cx="1138.7" cy="359.6" r="5.8"/><circle cx="1137.4" cy="375.2" r="5.8"/><circle cx="1133.8" cy="359" r="5.8"/><circle cx="1128.4" cy="384.9" r="5.8"/><circle cx="1148" cy="381.9" r="5.8"/><circle cx="1106.9" cy="369.5" r="5.8"/><circle cx="1126.5" cy="364.2" r="5.8"/><circle cx="1118.7" cy="363.3" r="5.8"/><circle cx="1130.6" cy="364" r="5.8"/><circle cx="1148.7" cy="384.5" r="5.8"/><circle cx="1158.8" cy="383.9" r="5.8"/><circle cx="1117.9" cy="387.9" r="5.8"/><circle cx="1157" cy="374.3" r="5.8"/><circle cx="1146.8" cy="374.8" r="5.8"/><circle cx="1168.2" cy="377.1" r="5.8"/><circle cx="1126.4" cy="386.1" r="5.8"/><circle cx="1112.5" cy="384.7" r="5.8"/><circle cx="1133.2" cy="384.9" r="5.8"/><circle cx="1140.8" cy="384.6" r="5.8"/><circle cx="1118.3" cy="387.4" r="5.8"/><circle cx="1148.8" cy="377.4" r="5.8"/><circle cx="1114.9" cy="368.4" r="5.8"/><circle cx="1146.1" cy="384" r="5.8"/><circle cx="1165" cy="375.5" r="5.8"/><circle cx="1140.2" cy="346" r="5.8"/><circle cx="1111.6" cy="360.1" r="5.8"/><circle cx="1126.9" cy="342.8" r="5.8"/><circle cx="1156.3" cy="352.5" r="5.8"/><circle cx="1161.9" cy="387.3" r="5.8"/><circle cx="1158.8" cy="379.2" r="5.8"/><circle cx="1149.1" cy="366.1" r="5.8"/><circle cx="1120.7" cy="373.6" r="5.8"/><circle cx="1166.7" cy="383.4" r="5.8"/><circle cx="1131.4" cy="360.7" r="5.8"/><circle cx="1147.1" cy="387" r="5.8"/><circle cx="1125.7" cy="384.1" r="5.8"/><circle cx="1151.6" cy="382.4" r="5.8"/><circle cx="1153.7" cy="357.8" r="5.8"/><circle cx="1154.7" cy="373.5" r="5.8"/><circle cx="1138.9" cy="351.7" r="5.8"/><circle cx="1149.8" cy="368.2" r="5.8"/><circle cx="1127.6" cy="379.3" r="5.8"/><circle cx="1121.1" cy="345.7" r="5.8"/><circle cx="1147.9" cy="377.6" r="5.8"/><circle cx="1141.4" cy="376.9" r="5.8"/><circle cx="1136" cy="356.3" r="5.8"/><circle cx="1149.4" cy="377.7" r="5.8"/><circle cx="1172.1" cy="380" r="5.8"/><circle cx="1123.6" cy="382.2" r="5.8"/><circle cx="1143.3" cy="348.8" r="5.8"/><circle cx="1136.5" cy="342.4" r="5.8"/><circle cx="1143.9" cy="342.2" r="5.8"/><circle cx="1135.7" cy="370" r="5.8"/><circle cx="1114" cy="374.1" r="5.8"/><circle cx="1131.8" cy="359.1" r="5.8"/><circle cx="1130.7" cy="349.8" r="5.8"/><circle cx="1158.3" cy="368.4" r="5.8"/><circle cx="1146.4" cy="377.5" r="5.8"/><circle cx="1139.4" cy="376.9" r="5.8"/><circle cx="1117.8" cy="347.7" r="5.8"/><circle cx="1150.4" cy="347.4" r="5.8"/><circle cx="1157.1" cy="370.4" r="5.8"/><circle cx="1138.8" cy="348.1" r="5.8"/><circle cx="1160.4" cy="372.5" r="5.8"/><circle cx="1153.2" cy="365.4" r="5.8"/><circle cx="1122.8" cy="357" r="5.8"/><circle cx="1168.1" cy="364" r="5.8"/><circle cx="1160" cy="385.7" r="5.8"/><circle cx="1147.5" cy="365.5" r="5.8"/><circle cx="1153.2" cy="389.9" r="5.8"/><circle cx="1120.4" cy="354.9" r="5.8"/><circle cx="1146.7" cy="387.5" r="5.8"/><circle cx="1152.5" cy="389.7" r="5.8"/><circle cx="1155.7" cy="381.4" r="5.8"/><circle cx="1162.7" cy="356.4" r="5.8"/><circle cx="1116.4" cy="351.2" r="5.8"/><circle cx="1164.6" cy="381.9" r="5.8"/><circle cx="1155.8" cy="358.3" r="5.8"/><circle cx="1142.7" cy="346.2" r="5.8"/><circle cx="1148.9" cy="345.6" r="5.8"/><circle cx="1163.4" cy="357.6" r="5.8"/><circle cx="1133.7" cy="389.8" r="5.8"/><circle cx="1126.9" cy="362.3" r="5.8"/><circle cx="1129.6" cy="360.3" r="5.8"/><circle cx="1152.2" cy="347" r="5.8"/><circle cx="1162.1" cy="388.6" r="5.8"/><circle cx="1149.2" cy="354.1" r="5.8"/><circle cx="1134.1" cy="386" r="5.8"/><circle cx="1167.2" cy="377.8" r="5.8"/><circle cx="1108.3" cy="362.4" r="5.8"/><circle cx="1113.4" cy="361.3" r="5.8"/><circle cx="1115.6" cy="368.2" r="5.8"/><circle cx="1119.5" cy="349.2" r="5.8"/><circle cx="1156.6" cy="381.2" r="5.8"/><circle cx="1134.8" cy="360.4" r="5.8"/><circle cx="1151.7" cy="348.8" r="5.8"/><circle cx="1156.1" cy="383.6" r="5.8"/><circle cx="1166" cy="362.4" r="5.8"/><circle cx="1149.4" cy="378.5" r="5.8"/><circle cx="1142.2" cy="376.4" r="5.8"/><circle cx="1116.2" cy="376.9" r="5.8"/><circle cx="1146.2" cy="389.7" r="5.8"/><circle cx="1123.9" cy="353.2" r="5.8"/><circle cx="1144.5" cy="346.9" r="5.8"/><circle cx="1159.9" cy="378.3" r="5.8"/><circle cx="1164.6" cy="361.4" r="5.8"/><circle cx="1130.8" cy="374.3" r="5.8"/><circle cx="1150.2" cy="351.7" r="5.8"/><circle cx="1123.6" cy="350.7" r="5.8"/><circle cx="1131.4" cy="362.5" r="5.8"/><circle cx="1140.6" cy="355.2" r="5.8"/><circle cx="1133.2" cy="348.7" r="5.8"/><circle cx="1145.5" cy="364.1" r="5.8"/><circle cx="1132.8" cy="388.7" r="5.8"/><circle cx="1139.5" cy="361.3" r="5.8"/><circle cx="1145.5" cy="358.4" r="5.8"/><circle cx="1131.8" cy="361.9" r="5.8"/><circle cx="1160.2" cy="378" r="5.8"/></g>
<path class="gr" d="M872.3 393.5V36.4M963 393.5V36.4M1053.7 393.5V36.4M1144.4 393.5V36.4M1235.1 393.5V36.4M781.6 304.2H1325.8M781.6 214.9H1325.8M781.6 125.7H1325.8"/>
<path class="tk" d="M872.3 393.5v-10.2M872.3 36.4v10.2M963 393.5v-10.2M963 36.4v10.2M1053.7 393.5v-10.2M1053.7 36.4v10.2M1144.4 393.5v-10.2M1144.4 36.4v10.2M1235.1 393.5v-10.2M1235.1 36.4v10.2M781.6 304.2h10.2M1325.8 304.2h-10.2M781.6 214.9h10.2M1325.8 214.9h-10.2M781.6 125.7h10.2M1325.8 125.7h-10.2"/>
<path class="ds" clip-path="url(#cp1)" stroke-dashoffset="1.5" d="M781.6 72.1L1108.1 393.5"/>
<path class="ds" clip-path="url(#cp1)" stroke-dashoffset="2.5" d="M781.6 -17.2L1198.8 393.5"/>
<path class="ds" clip-path="url(#cp1)" stroke-dashoffset="-1.4" d="M781.6 -106.4L1289.5 393.5"/>
<g class="mk" fill="#ffa500"><circle cx="1155.3" cy="350.1" r="5.8"/><circle cx="1121.7" cy="363.3" r="5.8"/><circle cx="1127.5" cy="356" r="5.8"/><circle cx="1121.8" cy="355.8" r="5.8"/><circle cx="1135.8" cy="361.7" r="5.8"/><circle cx="1114.3" cy="359.6" r="5.8"/><circle cx="1162.6" cy="360.9" r="5.8"/><circle cx="1151.1" cy="368.8" r="5.8"/><circle cx="1144.9" cy="350.1" r="5.8"/><circle cx="1130.9" cy="364.5" r="5.8"/><circle cx="1127.4" cy="360.5" r="5.8"/><circle cx="1115.2" cy="370.4" r="5.8"/><circle cx="1143" cy="352.4" r="5.8"/><circle cx="1138.3" cy="369" r="5.8"/><circle cx="1123.9" cy="389.9" r="5.8"/><circle cx="1171.9" cy="384.3" r="5.8"/><circle cx="1148.7" cy="349.7" r="5.8"/><circle cx="1148.5" cy="380" r="5.8"/><circle cx="1148.3" cy="369.5" r="5.8"/><circle cx="1152.1" cy="357.1" r="5.8"/><circle cx="1120.6" cy="366.7" r="5.8"/><circle cx="1151.8" cy="359.4" r="5.8"/><circle cx="1172.5" cy="381.7" r="5.8"/><circle cx="1148.5" cy="373.8" r="5.8"/><circle cx="1170.5" cy="376.2" r="5.8"/><circle cx="1114.8" cy="358.3" r="5.8"/><circle cx="1127.7" cy="345.8" r="5.8"/><circle cx="1116" cy="363.8" r="5.8"/><circle cx="1112.2" cy="385.4" r="5.8"/><circle cx="1122.2" cy="353.3" r="5.8"/><circle cx="1122.1" cy="384.3" r="5.8"/><circle cx="1141.2" cy="356.3" r="5.8"/><circle cx="1157.4" cy="366.8" r="5.8"/><circle cx="1169.1" cy="373.5" r="5.8"/><circle cx="1148.3" cy="357.4" r="5.8"/><circle cx="1126.3" cy="372.9" r="5.8"/><circle cx="1136.8" cy="378.8" r="5.8"/><circle cx="1155" cy="358.1" r="5.8"/><circle cx="1122.7" cy="362.2" r="5.8"/><circle cx="1112.4" cy="371.6" r="5.8"/><circle cx="1117.8" cy="364.1" r="5.8"/><circle cx="1173.2" cy="385.2" r="5.8"/><circle cx="1131" cy="377.4" r="5.8"/><circle cx="1137.4" cy="358.5" r="5.8"/><circle cx="1169.3" cy="371.6" r="5.8"/><circle cx="1153.6" cy="373.6" r="5.8"/><circle cx="1140.3" cy="376.9" r="5.8"/><circle cx="1110.1" cy="374.5" r="5.8"/><circle cx="1129.8" cy="351.5" r="5.8"/><circle cx="1119.1" cy="363.2" r="5.8"/><circle cx="1137.9" cy="377.2" r="5.8"/><circle cx="1150.9" cy="375.3" r="5.8"/><circle cx="1128.3" cy="354.1" r="5.8"/><circle cx="1151.6" cy="364.3" r="5.8"/><circle cx="1135.6" cy="352.7" r="5.8"/><circle cx="1163" cy="366.8" r="5.8"/><circle cx="1115.1" cy="372.8" r="5.8"/><circle cx="1163.2" cy="371.4" r="5.8"/><circle cx="1123" cy="361.4" r="5.8"/><circle cx="1143.8" cy="362.9" r="5.8"/><circle cx="1128.2" cy="382" r="5.8"/><circle cx="1108.8" cy="368.2" r="5.8"/><circle cx="1123.5" cy="382.8" r="5.8"/><circle cx="1141.6" cy="389.4" r="5.8"/><circle cx="1113.5" cy="373.9" r="5.8"/><circle cx="1155.3" cy="365" r="5.8"/><circle cx="1125.7" cy="373.2" r="5.8"/><circle cx="1154.1" cy="371.9" r="5.8"/><circle cx="1170" cy="387.1" r="5.8"/><circle cx="1123.2" cy="370.2" r="5.8"/><circle cx="1127.9" cy="365.9" r="5.8"/><circle cx="1135.4" cy="384.7" r="5.8"/><circle cx="1110.5" cy="382" r="5.8"/><circle cx="1130.3" cy="347" r="5.8"/><circle cx="1142.2" cy="384.8" r="5.8"/><circle cx="1170.6" cy="375.3" r="5.8"/><circle cx="1140.2" cy="388.3" r="5.8"/><circle cx="1174.9" cy="383" r="5.8"/><circle cx="1145.8" cy="369.1" r="5.8"/><circle cx="1121.5" cy="358.5" r="5.8"/><circle cx="1149.1" cy="362.3" r="5.8"/><circle cx="1125.9" cy="373.4" r="5.8"/><circle cx="1121.2" cy="352.6" r="5.8"/><circle cx="1126.3" cy="351.6" r="5.8"/><circle cx="1140.2" cy="360.3" r="5.8"/><circle cx="1165.7" cy="387.3" r="5.8"/><circle cx="1125.2" cy="374.3" r="5.8"/><circle cx="1154" cy="350.6" r="5.8"/><circle cx="1167.5" cy="374.6" r="5.8"/><circle cx="1140.5" cy="388.8" r="5.8"/><circle cx="1132.3" cy="367.1" r="5.8"/><circle cx="1145.5" cy="376.1" r="5.8"/><circle cx="1161.1" cy="356.2" r="5.8"/><circle cx="1161.3" cy="378.4" r="5.8"/><circle cx="1148.4" cy="347" r="5.8"/><circle cx="1114.9" cy="358.7" r="5.8"/><circle cx="1137.8" cy="381.3" r="5.8"/><circle cx="1111.5" cy="382.6" r="5.8"/><circle cx="1159" cy="368" r="5.8"/><circle cx="1121.9" cy="367.6" r="5.8"/><circle cx="1116.8" cy="362" r="5.8"/><circle cx="1132.2" cy="381.2" r="5.8"/><circle cx="1118.3" cy="356.1" r="5.8"/><circle cx="1151.1" cy="389.7" r="5.8"/><circle cx="1160.2" cy="373" r="5.8"/><circle cx="1151.4" cy="347.7" r="5.8"/><circle cx="1124.9" cy="347.4" r="5.8"/><circle cx="1143.5" cy="347.8" r="5.8"/><circle cx="1115.3" cy="360.2" r="5.8"/><circle cx="1111.7" cy="382.6" r="5.8"/><circle cx="1139.4" cy="356.5" r="5.8"/><circle cx="1115.3" cy="366.1" r="5.8"/><circle cx="1166.5" cy="369.8" r="5.8"/><circle cx="1126.8" cy="343.3" r="5.8"/><circle cx="1142.6" cy="362.5" r="5.8"/><circle cx="1125.6" cy="356.5" r="5.8"/><circle cx="1159.1" cy="360.7" r="5.8"/><circle cx="1167.6" cy="379.1" r="5.8"/><circle cx="1116.4" cy="377.7" r="5.8"/><circle cx="1141.9" cy="384.9" r="5.8"/><circle cx="1146.6" cy="374.6" r="5.8"/><circle cx="1136.4" cy="376.4" r="5.8"/><circle cx="1167.5" cy="385.1" r="5.8"/><circle cx="1120.6" cy="372.4" r="5.8"/><circle cx="1137.8" cy="372.6" r="5.8"/><circle cx="1143.1" cy="366" r="5.8"/><circle cx="1126.2" cy="367.9" r="5.8"/><circle cx="1158.9" cy="384.8" r="5.8"/><circle cx="1157.2" cy="376.3" r="5.8"/><circle cx="1145.2" cy="378.9" r="5.8"/><circle cx="1148.4" cy="370.6" r="5.8"/><circle cx="1138.9" cy="352.8" r="5.8"/><circle cx="1172.7" cy="382.2" r="5.8"/><circle cx="1137.3" cy="363.1" r="5.8"/><circle cx="1142.9" cy="344.5" r="5.8"/><circle cx="1128.4" cy="387.4" r="5.8"/><circle cx="1136.1" cy="341.8" r="5.8"/><circle cx="1141.8" cy="354.5" r="5.8"/><circle cx="1135.2" cy="363.2" r="5.8"/><circle cx="1112.7" cy="368.4" r="5.8"/><circle cx="1158.3" cy="360.3" r="5.8"/><circle cx="1157.6" cy="378.7" r="5.8"/><circle cx="1153.2" cy="364.4" r="5.8"/><circle cx="1126.1" cy="382.4" r="5.8"/><circle cx="1150.8" cy="351.2" r="5.8"/><circle cx="1126.7" cy="376" r="5.8"/><circle cx="1158.6" cy="380.5" r="5.8"/><circle cx="1154.5" cy="355.1" r="5.8"/><circle cx="1120.5" cy="362.9" r="5.8"/><circle cx="1157.5" cy="359.8" r="5.8"/><circle cx="1168" cy="376.6" r="5.8"/><circle cx="1154" cy="354.8" r="5.8"/><circle cx="1146.6" cy="386.6" r="5.8"/><circle cx="1115.7" cy="357.6" r="5.8"/><circle cx="1133.6" cy="380.8" r="5.8"/><circle cx="1174.5" cy="375.3" r="5.8"/><circle cx="1146.3" cy="367.6" r="5.8"/><circle cx="1160.4" cy="383.1" r="5.8"/><circle cx="1141.9" cy="379.4" r="5.8"/><circle cx="1115.1" cy="362.6" r="5.8"/><circle cx="1152.7" cy="347.1" r="5.8"/><circle cx="1122.3" cy="374.9" r="5.8"/><circle cx="1119.4" cy="388.8" r="5.8"/><circle cx="1114.5" cy="359.8" r="5.8"/><circle cx="1143.7" cy="354.9" r="5.8"/><circle cx="1119.8" cy="383" r="5.8"/><circle cx="1108.1" cy="363" r="5.8"/><circle cx="1127.4" cy="360.7" r="5.8"/><circle cx="1140.3" cy="344.4" r="5.8"/><circle cx="1141.6" cy="358.6" r="5.8"/><circle cx="1130.5" cy="374.3" r="5.8"/><circle cx="1122.6" cy="369.4" r="5.8"/><circle cx="1145.5" cy="383.2" r="5.8"/><circle cx="1173.7" cy="378.1" r="5.8"/><circle cx="1142" cy="377.2" r="5.8"/><circle cx="1131" cy="363.5" r="5.8"/><circle cx="1162" cy="355.2" r="5.8"/><circle cx="1133.8" cy="347" r="5.8"/><circle cx="1148.6" cy="379.9" r="5.8"/><circle cx="1149.4" cy="353.2" r="5.8"/><circle cx="1116.9" cy="374.5" r="5.8"/><circle cx="1137.4" cy="382.2" r="5.8"/><circle cx="1139.4" cy="357.8" r="5.8"/><circle cx="1146.3" cy="388.5" r="5.8"/><circle cx="1154.8" cy="387" r="5.8"/><circle cx="1124.8" cy="387.8" r="5.8"/><circle cx="1123.5" cy="357" r="5.8"/><circle cx="1138.1" cy="363.1" r="5.8"/><circle cx="1113.7" cy="352.4" r="5.8"/><circle cx="1130.2" cy="363.3" r="5.8"/><circle cx="1127.1" cy="384.2" r="5.8"/><circle cx="1132.3" cy="362.4" r="5.8"/><circle cx="1115.2" cy="350.5" r="5.8"/><circle cx="1147.8" cy="382.7" r="5.8"/><circle cx="1134" cy="388" r="5.8"/><circle cx="1162.8" cy="383.9" r="5.8"/><circle cx="1154.6" cy="363.7" r="5.8"/></g>
<rect class="sp" x="781.6" y="36.4" width="544.2" height="357.1"/>
<text class="tl" text-anchor="end" transform="translate(777.3 46.9) scale(1 1.035)">20</text>
<text class="tl" text-anchor="end" transform="translate(777.3 136.6) scale(1 1.035)">15</text>
<text class="tl" text-anchor="end" transform="translate(777.3 226.3) scale(1 1.035)">10</text>
<text class="tl" text-anchor="end" transform="translate(777.3 316) scale(1 1.035)">5</text>
<text class="tl" text-anchor="end" transform="translate(777.3 405.7) scale(1 1.035)">0</text>
<text class="tl" text-anchor="middle" transform="translate(786.7 427.4) scale(1 1.035)">0</text>
<text class="tl" text-anchor="middle" transform="translate(877.4 427.4) scale(1 1.035)">5</text>
<text class="tl" text-anchor="middle" transform="translate(968 427.4) scale(1 1.035)">10</text>
<text class="tl" text-anchor="middle" transform="translate(1058.7 427.4) scale(1 1.035)">15</text>
<text class="tl" text-anchor="middle" transform="translate(1149.4 427.4) scale(1 1.035)">20</text>
<text class="tl" text-anchor="middle" transform="translate(1240.1 427.4) scale(1 1.035)">25</text>
<text class="tl" text-anchor="middle" transform="translate(1330.7 427.4) scale(1 1.035)">30</text>
<text class="hb" transform="translate(1206.2 96.4) scale(1 1.035)">HAB2</text>
</g>
<g>
<clipPath id="cp2"><rect x="132.6" y="464.2" width="544.1" height="357.4"/></clipPath>
<g class="mk" fill="#333333"><circle cx="519.7" cy="787.9" r="5.8"/><circle cx="504.5" cy="784" r="5.8"/><circle cx="521" cy="729.9" r="5.8"/><circle cx="548" cy="756.6" r="5.8"/><circle cx="518.2" cy="738" r="5.8"/><circle cx="486.5" cy="729.6" r="5.8"/><circle cx="572.3" cy="788.6" r="5.8"/><circle cx="518.5" cy="776.9" r="5.8"/><circle cx="507.4" cy="805.8" r="5.8"/><circle cx="469.7" cy="779" r="5.8"/><circle cx="557.6" cy="811.5" r="5.8"/><circle cx="524.1" cy="751.4" r="5.8"/><circle cx="460.2" cy="759.5" r="5.8"/><circle cx="548.2" cy="778" r="5.8"/><circle cx="465.9" cy="768.7" r="5.8"/><circle cx="572" cy="788" r="5.8"/><circle cx="542.8" cy="798.4" r="5.8"/><circle cx="502" cy="777.1" r="5.8"/><circle cx="506.1" cy="737.2" r="5.8"/><circle cx="518.7" cy="804.3" r="5.8"/><circle cx="515.7" cy="767.9" r="5.8"/><circle cx="511.7" cy="809.8" r="5.8"/><circle cx="565" cy="789.3" r="5.8"/><circle cx="516.3" cy="800" r="5.8"/><circle cx="457.3" cy="794.9" r="5.8"/><circle cx="510.1" cy="721.7" r="5.8"/><circle cx="471.4" cy="789.1" r="5.8"/><circle cx="491" cy="740.1" r="5.8"/><circle cx="529.8" cy="789" r="5.8"/><circle cx="543.5" cy="815.8" r="5.8"/><circle cx="475.8" cy="810.2" r="5.8"/><circle cx="490.6" cy="724.2" r="5.8"/><circle cx="576.5" cy="782.5" r="5.8"/><circle cx="472.6" cy="807.7" r="5.8"/><circle cx="513.6" cy="807.3" r="5.8"/><circle cx="529.6" cy="815.5" r="5.8"/><circle cx="519.4" cy="793.9" r="5.8"/><circle cx="520.3" cy="792.8" r="5.8"/><circle cx="493.6" cy="735.3" r="5.8"/><circle cx="488.5" cy="801.4" r="5.8"/><circle cx="539.2" cy="773.7" r="5.8"/><circle cx="555.6" cy="755.6" r="5.8"/><circle cx="506.4" cy="723.4" r="5.8"/><circle cx="505.2" cy="798.5" r="5.8"/><circle cx="528.9" cy="808.6" r="5.8"/><circle cx="513.2" cy="800.3" r="5.8"/><circle cx="486.9" cy="744.2" r="5.8"/><circle cx="502.9" cy="728.7" r="5.8"/><circle cx="548.4" cy="763.3" r="5.8"/><circle cx="518.5" cy="758.8" r="5.8"/><circle cx="489.4" cy="718.6" r="5.8"/><circle cx="450.5" cy="803.5" r="5.8"/><circle cx="498.6" cy="768.3" r="5.8"/><circle cx="560.4" cy="813.6" r="5.8"/><circle cx="479.2" cy="794.6" r="5.8"/><circle cx="547.9" cy="803.9" r="5.8"/><circle cx="427.8" cy="782.2" r="5.8"/><circle cx="453.3" cy="789.5" r="5.8"/><circle cx="523.4" cy="787.7" r="5.8"/><circle cx="525.7" cy="772.8" r="5.8"/><circle cx="461.9" cy="801.3" r="5.8"/><circle cx="560.5" cy="800.5" r="5.8"/><circle cx="542" cy="772.8" r="5.8"/><circle cx="562.6" cy="814" r="5.8"/><circle cx="469.7" cy="741.1" r="5.8"/><circle cx="563.6" cy="770.6" r="5.8"/><circle cx="558.8" cy="787.6" r="5.8"/><circle cx="538.3" cy="754.5" r="5.8"/><circle cx="548.7" cy="759.9" r="5.8"/><circle cx="567.5" cy="796.4" r="5.8"/><circle cx="493.3" cy="796.2" r="5.8"/><circle cx="500.1" cy="804.7" r="5.8"/><circle cx="475.1" cy="723.7" r="5.8"/><circle cx="567.7" cy="804.9" r="5.8"/><circle cx="564.5" cy="793.8" r="5.8"/><circle cx="522.9" cy="737.5" r="5.8"/><circle cx="473.6" cy="777.7" r="5.8"/><circle cx="547.7" cy="757.4" r="5.8"/><circle cx="544.5" cy="788.6" r="5.8"/><circle cx="508.3" cy="749.2" r="5.8"/><circle cx="506.9" cy="805" r="5.8"/><circle cx="534.8" cy="767.6" r="5.8"/><circle cx="500.9" cy="718.8" r="5.8"/><circle cx="486.5" cy="741.3" r="5.8"/><circle cx="515.1" cy="807.8" r="5.8"/><circle cx="492" cy="784.3" r="5.8"/><circle cx="457.1" cy="800.5" r="5.8"/><circle cx="481.3" cy="735.4" r="5.8"/><circle cx="479" cy="809" r="5.8"/><circle cx="476.3" cy="786.6" r="5.8"/><circle cx="453" cy="769.7" r="5.8"/><circle cx="563" cy="785.8" r="5.8"/><circle cx="497.6" cy="769.5" r="5.8"/><circle cx="479.5" cy="795.3" r="5.8"/><circle cx="536.2" cy="789.7" r="5.8"/><circle cx="474.8" cy="770.7" r="5.8"/><circle cx="554.3" cy="811.3" r="5.8"/><circle cx="517.8" cy="759.8" r="5.8"/><circle cx="497.7" cy="792.8" r="5.8"/><circle cx="537" cy="768.7" r="5.8"/><circle cx="497" cy="804.7" r="5.8"/><circle cx="531.8" cy="735" r="5.8"/><circle cx="514.3" cy="739.9" r="5.8"/><circle cx="461.6" cy="790.3" r="5.8"/><circle cx="505.5" cy="758.3" r="5.8"/><circle cx="558.2" cy="787.7" r="5.8"/><circle cx="509.7" cy="725.1" r="5.8"/><circle cx="526" cy="782.5" r="5.8"/><circle cx="479.3" cy="732" r="5.8"/><circle cx="475.7" cy="755.7" r="5.8"/><circle cx="410.4" cy="726.7" r="5.8"/><circle cx="437.7" cy="784.3" r="5.8"/><circle cx="510.7" cy="796.8" r="5.8"/><circle cx="505.4" cy="782.7" r="5.8"/><circle cx="457.4" cy="770.6" r="5.8"/><circle cx="571.6" cy="797.5" r="5.8"/><circle cx="551" cy="782.4" r="5.8"/><circle cx="468.7" cy="807.1" r="5.8"/><circle cx="532.3" cy="790.1" r="5.8"/><circle cx="450.4" cy="765.8" r="5.8"/><circle cx="479.1" cy="785.8" r="5.8"/><circle cx="515.5" cy="803.2" r="5.8"/><circle cx="473.9" cy="776.4" r="5.8"/><circle cx="528.1" cy="757.4" r="5.8"/><circle cx="480.9" cy="733.2" r="5.8"/><circle cx="515.1" cy="774" r="5.8"/><circle cx="474.6" cy="742.9" r="5.8"/><circle cx="461.7" cy="741.4" r="5.8"/><circle cx="522" cy="794.3" r="5.8"/><circle cx="486.5" cy="781.2" r="5.8"/><circle cx="551" cy="751.4" r="5.8"/><circle cx="539.1" cy="768.3" r="5.8"/><circle cx="564.9" cy="799" r="5.8"/><circle cx="513.8" cy="762.6" r="5.8"/><circle cx="548.8" cy="810.1" r="5.8"/><circle cx="467.8" cy="804.5" r="5.8"/><circle cx="493.9" cy="776.4" r="5.8"/><circle cx="473.7" cy="744.9" r="5.8"/><circle cx="557.1" cy="780.6" r="5.8"/><circle cx="513.7" cy="799.9" r="5.8"/><circle cx="582.8" cy="797.6" r="5.8"/><circle cx="553.3" cy="782.9" r="5.8"/><circle cx="532.6" cy="813.6" r="5.8"/><circle cx="508" cy="770.4" r="5.8"/><circle cx="485.3" cy="760.9" r="5.8"/><circle cx="582.4" cy="799.5" r="5.8"/><circle cx="423" cy="772.2" r="5.8"/><circle cx="475" cy="739.3" r="5.8"/><circle cx="479.6" cy="778.9" r="5.8"/><circle cx="571.6" cy="807.5" r="5.8"/><circle cx="454.7" cy="797.6" r="5.8"/><circle cx="523.7" cy="753.4" r="5.8"/><circle cx="498" cy="771.2" r="5.8"/><circle cx="476.6" cy="767.8" r="5.8"/><circle cx="521" cy="785.4" r="5.8"/><circle cx="464" cy="753.8" r="5.8"/><circle cx="529.1" cy="744.1" r="5.8"/><circle cx="451.8" cy="798.4" r="5.8"/><circle cx="443" cy="795.6" r="5.8"/><circle cx="518.9" cy="790.2" r="5.8"/><circle cx="507.4" cy="774.9" r="5.8"/><circle cx="509.4" cy="795" r="5.8"/><circle cx="546.9" cy="753.6" r="5.8"/><circle cx="518" cy="757.3" r="5.8"/><circle cx="491.4" cy="730.4" r="5.8"/><circle cx="449.6" cy="753" r="5.8"/><circle cx="553.7" cy="795.6" r="5.8"/><circle cx="515.8" cy="789.3" r="5.8"/><circle cx="494.9" cy="750.5" r="5.8"/><circle cx="521.2" cy="793.7" r="5.8"/><circle cx="503" cy="780.2" r="5.8"/><circle cx="579.6" cy="796.7" r="5.8"/><circle cx="568.4" cy="799.3" r="5.8"/><circle cx="529.4" cy="806.1" r="5.8"/><circle cx="492.2" cy="710.2" r="5.8"/><circle cx="537.1" cy="750.9" r="5.8"/><circle cx="527.8" cy="787.9" r="5.8"/><circle cx="529" cy="746.5" r="5.8"/><circle cx="458.9" cy="749.6" r="5.8"/><circle cx="531.3" cy="772.8" r="5.8"/><circle cx="472.8" cy="785.2" r="5.8"/><circle cx="499.5" cy="805.2" r="5.8"/><circle cx="496" cy="782.8" r="5.8"/><circle cx="570.7" cy="781.6" r="5.8"/><circle cx="527.8" cy="788.4" r="5.8"/><circle cx="472.5" cy="802.4" r="5.8"/><circle cx="504.6" cy="765.1" r="5.8"/><circle cx="487.9" cy="807.1" r="5.8"/><circle cx="519.6" cy="781.8" r="5.8"/><circle cx="477.1" cy="752.4" r="5.8"/><circle cx="470.9" cy="783.1" r="5.8"/><circle cx="508.2" cy="763.3" r="5.8"/><circle cx="556.9" cy="770.6" r="5.8"/><circle cx="572.4" cy="797.3" r="5.8"/><circle cx="550.3" cy="791.2" r="5.8"/><circle cx="495.4" cy="765.8" r="5.8"/><circle cx="552.9" cy="789.3" r="5.8"/><circle cx="498.8" cy="789.9" r="5.8"/><circle cx="574.1" cy="810.7" r="5.8"/><circle cx="545.8" cy="758.4" r="5.8"/><circle cx="579.6" cy="803.6" r="5.8"/><circle cx="456.7" cy="765.9" r="5.8"/><circle cx="487.9" cy="810.5" r="5.8"/><circle cx="496.6" cy="739.1" r="5.8"/><circle cx="554.8" cy="762.3" r="5.8"/><circle cx="472.9" cy="801.4" r="5.8"/><circle cx="524.1" cy="766.5" r="5.8"/><circle cx="564.3" cy="812.7" r="5.8"/><circle cx="497.6" cy="752.8" r="5.8"/><circle cx="472.4" cy="785.1" r="5.8"/><circle cx="517.5" cy="734.6" r="5.8"/><circle cx="508.7" cy="792.6" r="5.8"/><circle cx="454.4" cy="759.4" r="5.8"/><circle cx="465.9" cy="777.7" r="5.8"/><circle cx="483.6" cy="790.7" r="5.8"/><circle cx="462.2" cy="759.6" r="5.8"/><circle cx="505.9" cy="765.5" r="5.8"/><circle cx="473.4" cy="760.7" r="5.8"/><circle cx="506.3" cy="814" r="5.8"/><circle cx="521.9" cy="797.3" r="5.8"/><circle cx="460.9" cy="767.5" r="5.8"/><circle cx="484.5" cy="728" r="5.8"/><circle cx="501.7" cy="732.9" r="5.8"/><circle cx="512.8" cy="796.2" r="5.8"/><circle cx="478.4" cy="760.3" r="5.8"/><circle cx="486.7" cy="783.7" r="5.8"/><circle cx="546.1" cy="766" r="5.8"/><circle cx="499.1" cy="815.6" r="5.8"/><circle cx="472.7" cy="803.9" r="5.8"/><circle cx="478.5" cy="764.6" r="5.8"/><circle cx="574.2" cy="767.8" r="5.8"/><circle cx="498.2" cy="785.1" r="5.8"/><circle cx="501.8" cy="739.3" r="5.8"/><circle cx="503.4" cy="721.8" r="5.8"/><circle cx="487.3" cy="809.2" r="5.8"/><circle cx="549.6" cy="808.1" r="5.8"/><circle cx="543.7" cy="781.9" r="5.8"/><circle cx="464.2" cy="745.2" r="5.8"/><circle cx="529.5" cy="787.5" r="5.8"/><circle cx="535.4" cy="758.1" r="5.8"/><circle cx="453.3" cy="775.7" r="5.8"/><circle cx="573.8" cy="785.9" r="5.8"/><circle cx="465.3" cy="804.6" r="5.8"/><circle cx="481.6" cy="747.4" r="5.8"/><circle cx="494.5" cy="783.5" r="5.8"/><circle cx="493.4" cy="738.9" r="5.8"/><circle cx="465.6" cy="742.1" r="5.8"/><circle cx="516.6" cy="801.2" r="5.8"/><circle cx="473.5" cy="741.6" r="5.8"/><circle cx="468.5" cy="792" r="5.8"/><circle cx="575.7" cy="808.8" r="5.8"/><circle cx="537" cy="789.4" r="5.8"/><circle cx="457.4" cy="757.9" r="5.8"/><circle cx="540.7" cy="769.2" r="5.8"/><circle cx="479" cy="728" r="5.8"/><circle cx="523.4" cy="753.9" r="5.8"/><circle cx="510" cy="748.6" r="5.8"/><circle cx="521.9" cy="814.8" r="5.8"/><circle cx="508.6" cy="765.2" r="5.8"/><circle cx="531" cy="800.6" r="5.8"/><circle cx="465.3" cy="754.3" r="5.8"/><circle cx="498.3" cy="783" r="5.8"/><circle cx="572.1" cy="811" r="5.8"/><circle cx="514" cy="809.9" r="5.8"/><circle cx="455.9" cy="776" r="5.8"/><circle cx="459.9" cy="806.6" r="5.8"/><circle cx="548.9" cy="790.1" r="5.8"/><circle cx="491.8" cy="757.8" r="5.8"/><circle cx="497.8" cy="741.7" r="5.8"/><circle cx="497.1" cy="734.9" r="5.8"/><circle cx="455.9" cy="806" r="5.8"/><circle cx="444.4" cy="797" r="5.8"/><circle cx="561.6" cy="782.3" r="5.8"/><circle cx="500.9" cy="804.6" r="5.8"/><circle cx="512.1" cy="789.6" r="5.8"/><circle cx="574.3" cy="798.2" r="5.8"/><circle cx="551.9" cy="763.6" r="5.8"/><circle cx="529.3" cy="742.4" r="5.8"/><circle cx="446.4" cy="756.7" r="5.8"/><circle cx="454.5" cy="793.5" r="5.8"/><circle cx="474" cy="764.5" r="5.8"/><circle cx="535.9" cy="810.2" r="5.8"/><circle cx="487.1" cy="781" r="5.8"/><circle cx="489.4" cy="801.9" r="5.8"/><circle cx="536.1" cy="781.5" r="5.8"/><circle cx="561.4" cy="788.1" r="5.8"/><circle cx="459.1" cy="795.2" r="5.8"/><circle cx="546.5" cy="776.3" r="5.8"/><circle cx="486.3" cy="787.3" r="5.8"/><circle cx="457.5" cy="800.9" r="5.8"/><circle cx="487.7" cy="772" r="5.8"/><circle cx="514.2" cy="786.8" r="5.8"/><circle cx="560.7" cy="766.8" r="5.8"/><circle cx="486.9" cy="702.3" r="5.8"/><circle cx="507.5" cy="804.7" r="5.8"/><circle cx="561.3" cy="788.3" r="5.8"/><circle cx="493.4" cy="738" r="5.8"/><circle cx="499.3" cy="741.1" r="5.8"/><circle cx="510.7" cy="806.8" r="5.8"/><circle cx="536.1" cy="754.1" r="5.8"/><circle cx="426.4" cy="764.3" r="5.8"/><circle cx="469.6" cy="753.3" r="5.8"/><circle cx="484.1" cy="795.3" r="5.8"/><circle cx="482.4" cy="756.4" r="5.8"/><circle cx="452.1" cy="762.9" r="5.8"/><circle cx="499.5" cy="772.3" r="5.8"/><circle cx="536.4" cy="780.9" r="5.8"/><circle cx="447" cy="786.1" r="5.8"/><circle cx="573.5" cy="809.4" r="5.8"/><circle cx="508.2" cy="770.7" r="5.8"/><circle cx="563.1" cy="813.8" r="5.8"/><circle cx="557" cy="769.6" r="5.8"/><circle cx="512.3" cy="749.9" r="5.8"/><circle cx="479.3" cy="806.8" r="5.8"/><circle cx="497.1" cy="750" r="5.8"/><circle cx="497.1" cy="797.5" r="5.8"/><circle cx="489.3" cy="781.9" r="5.8"/><circle cx="524.2" cy="799.8" r="5.8"/><circle cx="559.6" cy="763.2" r="5.8"/><circle cx="532.3" cy="780.7" r="5.8"/><circle cx="563.2" cy="778.5" r="5.8"/><circle cx="558.1" cy="807.3" r="5.8"/><circle cx="486.3" cy="800.3" r="5.8"/><circle cx="491.7" cy="720" r="5.8"/><circle cx="544.4" cy="774.9" r="5.8"/><circle cx="463" cy="753.6" r="5.8"/><circle cx="469.9" cy="766.3" r="5.8"/><circle cx="499.1" cy="765.4" r="5.8"/><circle cx="517.8" cy="748.5" r="5.8"/><circle cx="530.4" cy="813" r="5.8"/><circle cx="449.4" cy="776.6" r="5.8"/><circle cx="493.5" cy="735.4" r="5.8"/><circle cx="477.5" cy="715.8" r="5.8"/><circle cx="461.7" cy="753.9" r="5.8"/><circle cx="526.3" cy="798.3" r="5.8"/><circle cx="498.2" cy="731.3" r="5.8"/><circle cx="563.2" cy="808.9" r="5.8"/><circle cx="512.4" cy="789.4" r="5.8"/><circle cx="511" cy="759" r="5.8"/><circle cx="399.9" cy="730.2" r="5.8"/><circle cx="537.3" cy="767.3" r="5.8"/><circle cx="495.4" cy="798.9" r="5.8"/><circle cx="489.5" cy="808.6" r="5.8"/><circle cx="453.6" cy="769.2" r="5.8"/><circle cx="484" cy="726.5" r="5.8"/><circle cx="475.1" cy="746.3" r="5.8"/><circle cx="565.3" cy="780.1" r="5.8"/><circle cx="490.8" cy="807.9" r="5.8"/><circle cx="529.8" cy="737.2" r="5.8"/><circle cx="495.4" cy="747.8" r="5.8"/><circle cx="456.6" cy="759.8" r="5.8"/><circle cx="490.3" cy="720.6" r="5.8"/><circle cx="478.3" cy="749.2" r="5.8"/><circle cx="518.8" cy="789.4" r="5.8"/><circle cx="488.2" cy="725.1" r="5.8"/><circle cx="512.3" cy="753.4" r="5.8"/><circle cx="562.2" cy="780" r="5.8"/><circle cx="540.3" cy="787.5" r="5.8"/><circle cx="543" cy="782.4" r="5.8"/><circle cx="524.7" cy="749.9" r="5.8"/><circle cx="482.7" cy="728" r="5.8"/><circle cx="464.7" cy="792.8" r="5.8"/><circle cx="552.4" cy="764.6" r="5.8"/><circle cx="463.5" cy="795.3" r="5.8"/><circle cx="542.6" cy="776.5" r="5.8"/><circle cx="483.5" cy="746.4" r="5.8"/><circle cx="536.2" cy="816.5" r="5.8"/><circle cx="524.8" cy="735.7" r="5.8"/><circle cx="484.5" cy="780.3" r="5.8"/><circle cx="500.8" cy="804.5" r="5.8"/><circle cx="552.4" cy="787.5" r="5.8"/><circle cx="557.5" cy="791.9" r="5.8"/><circle cx="480.1" cy="727.2" r="5.8"/><circle cx="510.7" cy="807.1" r="5.8"/><circle cx="530.9" cy="797.9" r="5.8"/><circle cx="523" cy="810.1" r="5.8"/><circle cx="513.5" cy="814.9" r="5.8"/><circle cx="553.4" cy="815.3" r="5.8"/><circle cx="475.3" cy="746.5" r="5.8"/><circle cx="527.1" cy="806.7" r="5.8"/><circle cx="512.8" cy="810.1" r="5.8"/><circle cx="544.8" cy="791" r="5.8"/><circle cx="508.1" cy="797.3" r="5.8"/><circle cx="522.3" cy="737.3" r="5.8"/><circle cx="542.2" cy="749.1" r="5.8"/><circle cx="518.9" cy="735.2" r="5.8"/><circle cx="435.5" cy="775.5" r="5.8"/><circle cx="445" cy="772.6" r="5.8"/><circle cx="444.1" cy="767.3" r="5.8"/><circle cx="509.8" cy="741.1" r="5.8"/><circle cx="487.2" cy="773.2" r="5.8"/><circle cx="487.1" cy="786" r="5.8"/><circle cx="443.2" cy="785.2" r="5.8"/><circle cx="553.6" cy="779.1" r="5.8"/><circle cx="450" cy="795.3" r="5.8"/><circle cx="542.8" cy="753.2" r="5.8"/><circle cx="470.5" cy="743.6" r="5.8"/><circle cx="517.9" cy="789.8" r="5.8"/><circle cx="510.9" cy="724" r="5.8"/><circle cx="442.8" cy="789.3" r="5.8"/><circle cx="431.2" cy="729.2" r="5.8"/><circle cx="487" cy="751.8" r="5.8"/><circle cx="482.1" cy="761.8" r="5.8"/><circle cx="550.7" cy="773.7" r="5.8"/><circle cx="512.5" cy="809.9" r="5.8"/><circle cx="476.3" cy="779.6" r="5.8"/><circle cx="496.3" cy="793.3" r="5.8"/><circle cx="473.4" cy="768.5" r="5.8"/><circle cx="477" cy="803.8" r="5.8"/><circle cx="536.4" cy="760.2" r="5.8"/><circle cx="463.8" cy="758.1" r="5.8"/><circle cx="521.5" cy="762.4" r="5.8"/><circle cx="492.7" cy="790.2" r="5.8"/><circle cx="467.6" cy="755.8" r="5.8"/><circle cx="473.1" cy="754.4" r="5.8"/><circle cx="474.2" cy="799.7" r="5.8"/><circle cx="472.8" cy="767.4" r="5.8"/><circle cx="507.7" cy="803.9" r="5.8"/><circle cx="499.9" cy="815.2" r="5.8"/><circle cx="559.3" cy="775.1" r="5.8"/><circle cx="500" cy="790.1" r="5.8"/><circle cx="503.6" cy="791.2" r="5.8"/><circle cx="512.6" cy="759.1" r="5.8"/><circle cx="489.4" cy="762" r="5.8"/><circle cx="543.5" cy="756.5" r="5.8"/><circle cx="520.9" cy="803.1" r="5.8"/><circle cx="539.9" cy="792.4" r="5.8"/><circle cx="466.6" cy="790.2" r="5.8"/><circle cx="512.3" cy="805.7" r="5.8"/><circle cx="565.9" cy="784.4" r="5.8"/><circle cx="491.6" cy="714.3" r="5.8"/><circle cx="507.4" cy="813.1" r="5.8"/><circle cx="471.7" cy="797.6" r="5.8"/><circle cx="508.2" cy="782.1" r="5.8"/><circle cx="589.6" cy="806.3" r="5.8"/><circle cx="484.2" cy="778" r="5.8"/><circle cx="508" cy="783.1" r="5.8"/><circle cx="530.2" cy="746" r="5.8"/><circle cx="528" cy="775.1" r="5.8"/><circle cx="546.7" cy="792.4" r="5.8"/><circle cx="523.2" cy="807.1" r="5.8"/><circle cx="562.6" cy="811.6" r="5.8"/><circle cx="510.2" cy="731.9" r="5.8"/><circle cx="493.6" cy="730.5" r="5.8"/><circle cx="507.3" cy="786.3" r="5.8"/><circle cx="462.6" cy="777.9" r="5.8"/><circle cx="535.2" cy="794.3" r="5.8"/><circle cx="582.2" cy="802.4" r="5.8"/><circle cx="544.4" cy="755.7" r="5.8"/><circle cx="508.8" cy="804.2" r="5.8"/><circle cx="508.7" cy="797.1" r="5.8"/><circle cx="513.8" cy="780.1" r="5.8"/><circle cx="546" cy="806.3" r="5.8"/><circle cx="546.3" cy="787.2" r="5.8"/><circle cx="513.9" cy="810.4" r="5.8"/><circle cx="518.9" cy="797.5" r="5.8"/><circle cx="536.6" cy="798.7" r="5.8"/><circle cx="492.1" cy="808.7" r="5.8"/><circle cx="525.7" cy="744.5" r="5.8"/><circle cx="546.1" cy="790.9" r="5.8"/><circle cx="474.1" cy="793.4" r="5.8"/><circle cx="509.4" cy="761.4" r="5.8"/><circle cx="485.3" cy="759.9" r="5.8"/><circle cx="531.9" cy="798.6" r="5.8"/><circle cx="536" cy="757.1" r="5.8"/><circle cx="546.3" cy="792.8" r="5.8"/><circle cx="494.9" cy="737.7" r="5.8"/><circle cx="505.6" cy="795.4" r="5.8"/><circle cx="485" cy="801.7" r="5.8"/><circle cx="458.9" cy="754.8" r="5.8"/><circle cx="467.2" cy="782.7" r="5.8"/><circle cx="473.6" cy="788.2" r="5.8"/><circle cx="460.8" cy="779.4" r="5.8"/><circle cx="478.5" cy="757.9" r="5.8"/><circle cx="461" cy="737.4" r="5.8"/><circle cx="463.4" cy="763.2" r="5.8"/><circle cx="502.5" cy="807" r="5.8"/><circle cx="507.3" cy="796.8" r="5.8"/><circle cx="450.9" cy="695.9" r="5.8"/><circle cx="486.1" cy="790.7" r="5.8"/><circle cx="574.5" cy="788.8" r="5.8"/><circle cx="489.3" cy="716.2" r="5.8"/><circle cx="482.6" cy="744.8" r="5.8"/><circle cx="494.4" cy="725.1" r="5.8"/><circle cx="476.6" cy="724.1" r="5.8"/><circle cx="540.1" cy="777.1" r="5.8"/><circle cx="538.7" cy="746" r="5.8"/><circle cx="456.7" cy="758.4" r="5.8"/><circle cx="545.8" cy="757" r="5.8"/><circle cx="493.2" cy="744.5" r="5.8"/><circle cx="556.3" cy="808" r="5.8"/><circle cx="543" cy="766.8" r="5.8"/><circle cx="560.4" cy="762.7" r="5.8"/><circle cx="506.3" cy="772.4" r="5.8"/><circle cx="471.4" cy="778.7" r="5.8"/><circle cx="499.8" cy="741.7" r="5.8"/><circle cx="460.7" cy="756.1" r="5.8"/><circle cx="493.2" cy="716.9" r="5.8"/><circle cx="461.4" cy="785" r="5.8"/><circle cx="529.2" cy="790.1" r="5.8"/><circle cx="561.6" cy="782.7" r="5.8"/><circle cx="541.3" cy="802.5" r="5.8"/><circle cx="557.7" cy="773.6" r="5.8"/><circle cx="497.8" cy="784.8" r="5.8"/><circle cx="519.4" cy="792.4" r="5.8"/><circle cx="537.4" cy="750.4" r="5.8"/><circle cx="487.3" cy="791.4" r="5.8"/><circle cx="490.3" cy="751" r="5.8"/><circle cx="540.9" cy="799.5" r="5.8"/><circle cx="499.7" cy="734.3" r="5.8"/><circle cx="414.7" cy="720.2" r="5.8"/><circle cx="455" cy="781.4" r="5.8"/><circle cx="476.4" cy="733.4" r="5.8"/><circle cx="485.4" cy="748.1" r="5.8"/><circle cx="532.9" cy="764.2" r="5.8"/><circle cx="515.8" cy="762.1" r="5.8"/><circle cx="549.5" cy="782.8" r="5.8"/><circle cx="477.4" cy="727.6" r="5.8"/><circle cx="466.3" cy="766.6" r="5.8"/><circle cx="541.5" cy="806.1" r="5.8"/><circle cx="510" cy="771.5" r="5.8"/><circle cx="448.5" cy="799.5" r="5.8"/><circle cx="509.7" cy="775.3" r="5.8"/><circle cx="460.1" cy="780.2" r="5.8"/><circle cx="448" cy="792.8" r="5.8"/><circle cx="537.4" cy="746.8" r="5.8"/><circle cx="515.6" cy="789.5" r="5.8"/><circle cx="471" cy="794.4" r="5.8"/><circle cx="502.2" cy="763.9" r="5.8"/><circle cx="525.1" cy="781" r="5.8"/><circle cx="575.8" cy="801.8" r="5.8"/><circle cx="492.8" cy="811.4" r="5.8"/><circle cx="567" cy="781.1" r="5.8"/><circle cx="464.4" cy="742" r="5.8"/><circle cx="551.5" cy="800.2" r="5.8"/><circle cx="519.5" cy="741.9" r="5.8"/><circle cx="477.1" cy="736.8" r="5.8"/><circle cx="488.6" cy="783.8" r="5.8"/><circle cx="473.4" cy="745.5" r="5.8"/><circle cx="496.2" cy="774.6" r="5.8"/><circle cx="488.8" cy="786.7" r="5.8"/><circle cx="523.4" cy="816.4" r="5.8"/><circle cx="528.9" cy="749.2" r="5.8"/><circle cx="536.6" cy="786" r="5.8"/><circle cx="502.2" cy="718.1" r="5.8"/><circle cx="558.3" cy="811.8" r="5.8"/><circle cx="451.8" cy="805.8" r="5.8"/><circle cx="514.1" cy="807.6" r="5.8"/><circle cx="467.3" cy="798.1" r="5.8"/><circle cx="511.3" cy="769.8" r="5.8"/><circle cx="549.3" cy="807.2" r="5.8"/><circle cx="488.6" cy="789.4" r="5.8"/><circle cx="541.5" cy="774" r="5.8"/><circle cx="524" cy="741.4" r="5.8"/><circle cx="491.2" cy="745.8" r="5.8"/><circle cx="529.6" cy="790.6" r="5.8"/><circle cx="456.9" cy="773.1" r="5.8"/><circle cx="572.8" cy="798" r="5.8"/><circle cx="516.5" cy="787.8" r="5.8"/><circle cx="546.6" cy="737.9" r="5.8"/><circle cx="512.8" cy="748.4" r="5.8"/><circle cx="490.3" cy="794.8" r="5.8"/><circle cx="513.5" cy="751.8" r="5.8"/><circle cx="537.7" cy="802.7" r="5.8"/><circle cx="508.5" cy="790.5" r="5.8"/><circle cx="495.8" cy="805.3" r="5.8"/><circle cx="497.5" cy="742.8" r="5.8"/><circle cx="500.3" cy="812.4" r="5.8"/><circle cx="495.1" cy="772.1" r="5.8"/><circle cx="493.5" cy="798.6" r="5.8"/><circle cx="490.1" cy="804" r="5.8"/><circle cx="512.5" cy="780.6" r="5.8"/><circle cx="450.2" cy="752.6" r="5.8"/><circle cx="553.7" cy="814.1" r="5.8"/><circle cx="539.1" cy="788.2" r="5.8"/><circle cx="475" cy="760.2" r="5.8"/><circle cx="447" cy="767.8" r="5.8"/><circle cx="524.5" cy="770.4" r="5.8"/><circle cx="489.1" cy="722.9" r="5.8"/><circle cx="501.6" cy="796.6" r="5.8"/><circle cx="551.1" cy="766.1" r="5.8"/><circle cx="474.8" cy="746.2" r="5.8"/><circle cx="481.6" cy="742.9" r="5.8"/><circle cx="573.5" cy="776.5" r="5.8"/><circle cx="528.5" cy="803.7" r="5.8"/><circle cx="535.2" cy="797.8" r="5.8"/><circle cx="501" cy="724.2" r="5.8"/><circle cx="488.5" cy="732.7" r="5.8"/><circle cx="477.5" cy="711.9" r="5.8"/><circle cx="558.4" cy="814.8" r="5.8"/><circle cx="462.7" cy="749.4" r="5.8"/><circle cx="469.8" cy="757.1" r="5.8"/><circle cx="558.5" cy="782.8" r="5.8"/><circle cx="570.2" cy="770.2" r="5.8"/><circle cx="505.1" cy="737" r="5.8"/><circle cx="516" cy="798" r="5.8"/><circle cx="476.9" cy="741.9" r="5.8"/><circle cx="458.4" cy="783.6" r="5.8"/><circle cx="492.2" cy="758.8" r="5.8"/><circle cx="449" cy="792.9" r="5.8"/><circle cx="448" cy="734.4" r="5.8"/><circle cx="540.9" cy="773.5" r="5.8"/><circle cx="549.1" cy="785.1" r="5.8"/><circle cx="501.2" cy="729.3" r="5.8"/><circle cx="520.5" cy="754.3" r="5.8"/><circle cx="477.3" cy="793.3" r="5.8"/><circle cx="448.5" cy="771.9" r="5.8"/><circle cx="464.6" cy="762.3" r="5.8"/><circle cx="540.9" cy="752.9" r="5.8"/><circle cx="506.5" cy="743" r="5.8"/><circle cx="479.6" cy="756.5" r="5.8"/><circle cx="543.3" cy="776.7" r="5.8"/><circle cx="469.1" cy="752.8" r="5.8"/><circle cx="456.6" cy="769.7" r="5.8"/><circle cx="539.8" cy="761.2" r="5.8"/><circle cx="573.6" cy="783.6" r="5.8"/><circle cx="487.4" cy="740.5" r="5.8"/><circle cx="564.5" cy="803.1" r="5.8"/><circle cx="517.8" cy="797.2" r="5.8"/><circle cx="465.3" cy="759.5" r="5.8"/><circle cx="497.1" cy="745.6" r="5.8"/><circle cx="549.4" cy="804.3" r="5.8"/><circle cx="444.4" cy="778.1" r="5.8"/><circle cx="467.3" cy="793.8" r="5.8"/><circle cx="536.2" cy="762.4" r="5.8"/><circle cx="493.6" cy="776.5" r="5.8"/><circle cx="493" cy="808.7" r="5.8"/><circle cx="531.7" cy="812.6" r="5.8"/><circle cx="547.7" cy="799.8" r="5.8"/><circle cx="535.4" cy="749.1" r="5.8"/><circle cx="524.1" cy="811.1" r="5.8"/><circle cx="511.8" cy="718.2" r="5.8"/><circle cx="524.5" cy="811.5" r="5.8"/><circle cx="557.6" cy="765.7" r="5.8"/><circle cx="534.1" cy="747.5" r="5.8"/><circle cx="505.3" cy="815.8" r="5.8"/><circle cx="527.2" cy="773.3" r="5.8"/><circle cx="532.5" cy="761" r="5.8"/><circle cx="426.8" cy="777" r="5.8"/><circle cx="566.4" cy="780.7" r="5.8"/><circle cx="512.4" cy="772.3" r="5.8"/><circle cx="557.7" cy="790.2" r="5.8"/><circle cx="481.8" cy="783.3" r="5.8"/><circle cx="440.8" cy="780.5" r="5.8"/><circle cx="535.5" cy="792" r="5.8"/><circle cx="570.2" cy="789.7" r="5.8"/><circle cx="473.6" cy="791.6" r="5.8"/><circle cx="572" cy="809.3" r="5.8"/><circle cx="481.3" cy="796.1" r="5.8"/><circle cx="456.1" cy="783.7" r="5.8"/><circle cx="487.1" cy="743.9" r="5.8"/><circle cx="502.2" cy="758.9" r="5.8"/><circle cx="522.1" cy="762.3" r="5.8"/><circle cx="521.6" cy="800.9" r="5.8"/><circle cx="563.1" cy="777.5" r="5.8"/><circle cx="545.9" cy="758.5" r="5.8"/><circle cx="526.5" cy="776.8" r="5.8"/><circle cx="489.4" cy="722" r="5.8"/><circle cx="470.5" cy="739.9" r="5.8"/><circle cx="516.3" cy="792.6" r="5.8"/><circle cx="553.9" cy="794" r="5.8"/><circle cx="448.5" cy="806.2" r="5.8"/><circle cx="566.1" cy="791.9" r="5.8"/><circle cx="502.3" cy="770.2" r="5.8"/><circle cx="490.4" cy="809" r="5.8"/><circle cx="447.4" cy="797.4" r="5.8"/><circle cx="449.2" cy="776" r="5.8"/><circle cx="454.8" cy="798.3" r="5.8"/><circle cx="555" cy="777" r="5.8"/><circle cx="490.1" cy="732.1" r="5.8"/><circle cx="509.8" cy="789" r="5.8"/><circle cx="556.9" cy="770" r="5.8"/><circle cx="460.5" cy="775.5" r="5.8"/><circle cx="455.6" cy="760.2" r="5.8"/><circle cx="490.3" cy="770.9" r="5.8"/><circle cx="494.3" cy="770.2" r="5.8"/><circle cx="448.3" cy="782.7" r="5.8"/><circle cx="459.2" cy="759.5" r="5.8"/><circle cx="524.4" cy="775.2" r="5.8"/><circle cx="481.4" cy="797.6" r="5.8"/><circle cx="478.4" cy="803.8" r="5.8"/><circle cx="553.1" cy="765.8" r="5.8"/><circle cx="499.3" cy="812.6" r="5.8"/><circle cx="557.5" cy="768.3" r="5.8"/><circle cx="478.2" cy="761.8" r="5.8"/><circle cx="489.2" cy="744.9" r="5.8"/><circle cx="530.1" cy="779.8" r="5.8"/><circle cx="453.5" cy="756.5" r="5.8"/><circle cx="562.9" cy="787.9" r="5.8"/><circle cx="578" cy="796.6" r="5.8"/><circle cx="452.9" cy="779.5" r="5.8"/><circle cx="511.4" cy="793.4" r="5.8"/><circle cx="585.2" cy="806.3" r="5.8"/><circle cx="544.1" cy="761.1" r="5.8"/><circle cx="456.5" cy="801.5" r="5.8"/><circle cx="518.6" cy="743" r="5.8"/><circle cx="541.8" cy="744.8" r="5.8"/><circle cx="532.6" cy="763.9" r="5.8"/><circle cx="485.5" cy="777.5" r="5.8"/><circle cx="471.4" cy="794.1" r="5.8"/><circle cx="501.5" cy="735.7" r="5.8"/><circle cx="541.4" cy="814.5" r="5.8"/><circle cx="557.4" cy="803.4" r="5.8"/><circle cx="461.7" cy="745.7" r="5.8"/><circle cx="463.6" cy="771.3" r="5.8"/><circle cx="561.1" cy="813" r="5.8"/><circle cx="490.6" cy="787.8" r="5.8"/><circle cx="477.1" cy="806.3" r="5.8"/><circle cx="488.7" cy="784.3" r="5.8"/><circle cx="508.8" cy="777.5" r="5.8"/><circle cx="540.2" cy="805.9" r="5.8"/><circle cx="478.3" cy="739.3" r="5.8"/><circle cx="452.5" cy="805.9" r="5.8"/><circle cx="522.1" cy="813.1" r="5.8"/><circle cx="393.1" cy="700.7" r="5.8"/><circle cx="460.9" cy="755.8" r="5.8"/><circle cx="508.7" cy="771.6" r="5.8"/><circle cx="505.3" cy="751.6" r="5.8"/><circle cx="454.4" cy="747.7" r="5.8"/><circle cx="465.3" cy="797.5" r="5.8"/><circle cx="568" cy="774.8" r="5.8"/><circle cx="517.8" cy="747.6" r="5.8"/><circle cx="501.8" cy="760.5" r="5.8"/><circle cx="506.9" cy="768.3" r="5.8"/><circle cx="549.5" cy="816" r="5.8"/><circle cx="537.2" cy="761.9" r="5.8"/><circle cx="540.4" cy="762.3" r="5.8"/><circle cx="500.2" cy="755.8" r="5.8"/><circle cx="542.8" cy="761.7" r="5.8"/><circle cx="478.5" cy="797" r="5.8"/><circle cx="474.6" cy="729.1" r="5.8"/><circle cx="482.4" cy="775.5" r="5.8"/><circle cx="468.9" cy="772.1" r="5.8"/><circle cx="538" cy="762.5" r="5.8"/><circle cx="536.8" cy="773.9" r="5.8"/><circle cx="563.7" cy="779.6" r="5.8"/><circle cx="537.9" cy="792.9" r="5.8"/><circle cx="512.5" cy="710.9" r="5.8"/><circle cx="446.1" cy="781.3" r="5.8"/><circle cx="557.2" cy="798.4" r="5.8"/><circle cx="478.5" cy="793.2" r="5.8"/><circle cx="476.4" cy="753.6" r="5.8"/><circle cx="455.8" cy="787.6" r="5.8"/><circle cx="527" cy="768.7" r="5.8"/><circle cx="520.9" cy="788.4" r="5.8"/><circle cx="513" cy="815.8" r="5.8"/><circle cx="479.1" cy="760.7" r="5.8"/><circle cx="535.1" cy="811.3" r="5.8"/><circle cx="512.9" cy="808.6" r="5.8"/><circle cx="499.3" cy="810.2" r="5.8"/><circle cx="517.8" cy="746.8" r="5.8"/><circle cx="546" cy="759.4" r="5.8"/><circle cx="467.9" cy="743.3" r="5.8"/><circle cx="527.4" cy="772" r="5.8"/><circle cx="536.6" cy="765.4" r="5.8"/><circle cx="537.1" cy="779.4" r="5.8"/><circle cx="496.6" cy="771.1" r="5.8"/><circle cx="555.1" cy="781.8" r="5.8"/><circle cx="542.8" cy="781.6" r="5.8"/><circle cx="493.6" cy="798" r="5.8"/><circle cx="540.2" cy="777.5" r="5.8"/><circle cx="509.8" cy="737.4" r="5.8"/><circle cx="497.1" cy="812.2" r="5.8"/><circle cx="508.8" cy="762.8" r="5.8"/><circle cx="568.1" cy="807.3" r="5.8"/><circle cx="552.6" cy="760.1" r="5.8"/><circle cx="579.1" cy="789.3" r="5.8"/><circle cx="555" cy="789" r="5.8"/><circle cx="508.2" cy="747.7" r="5.8"/><circle cx="553.1" cy="802.7" r="5.8"/><circle cx="465.2" cy="779.4" r="5.8"/><circle cx="489.7" cy="747.6" r="5.8"/><circle cx="574.1" cy="795.4" r="5.8"/><circle cx="529.9" cy="795.2" r="5.8"/><circle cx="510.8" cy="793.4" r="5.8"/><circle cx="519.6" cy="753.3" r="5.8"/><circle cx="484.8" cy="719.4" r="5.8"/><circle cx="525.8" cy="803.4" r="5.8"/><circle cx="555.8" cy="779" r="5.8"/><circle cx="497.2" cy="796" r="5.8"/><circle cx="558.6" cy="773.7" r="5.8"/><circle cx="502" cy="737.5" r="5.8"/><circle cx="489.8" cy="754.2" r="5.8"/><circle cx="462.4" cy="790.3" r="5.8"/><circle cx="492" cy="719.8" r="5.8"/><circle cx="445.1" cy="798.1" r="5.8"/><circle cx="527.1" cy="779.2" r="5.8"/><circle cx="542.8" cy="787.7" r="5.8"/><circle cx="491.4" cy="762.6" r="5.8"/><circle cx="460.5" cy="780.8" r="5.8"/><circle cx="480.5" cy="730.8" r="5.8"/><circle cx="497.6" cy="730.4" r="5.8"/><circle cx="491.7" cy="788.6" r="5.8"/><circle cx="490.4" cy="772.3" r="5.8"/><circle cx="528.5" cy="751.6" r="5.8"/><circle cx="452.6" cy="791.9" r="5.8"/><circle cx="488.2" cy="715.9" r="5.8"/><circle cx="497.4" cy="786.8" r="5.8"/><circle cx="554.5" cy="761.1" r="5.8"/><circle cx="527.7" cy="763.2" r="5.8"/><circle cx="489.1" cy="718.8" r="5.8"/><circle cx="545.4" cy="780.6" r="5.8"/><circle cx="514" cy="743.7" r="5.8"/><circle cx="485.7" cy="718.1" r="5.8"/><circle cx="453.4" cy="803.6" r="5.8"/><circle cx="489.7" cy="735.4" r="5.8"/><circle cx="486.8" cy="782.9" r="5.8"/><circle cx="502.3" cy="810.2" r="5.8"/><circle cx="512" cy="816.5" r="5.8"/><circle cx="548" cy="776.5" r="5.8"/><circle cx="488.5" cy="764.3" r="5.8"/><circle cx="530.9" cy="754.1" r="5.8"/><circle cx="539" cy="806.6" r="5.8"/><circle cx="485.6" cy="735.9" r="5.8"/><circle cx="452.2" cy="755.2" r="5.8"/><circle cx="504.3" cy="741.7" r="5.8"/><circle cx="514.3" cy="805.4" r="5.8"/><circle cx="483.8" cy="800.3" r="5.8"/><circle cx="501.7" cy="762" r="5.8"/><circle cx="494.8" cy="714.4" r="5.8"/><circle cx="495.2" cy="782.1" r="5.8"/><circle cx="533.2" cy="777.6" r="5.8"/><circle cx="442.2" cy="803.4" r="5.8"/><circle cx="495.4" cy="754.1" r="5.8"/><circle cx="549.6" cy="780.4" r="5.8"/><circle cx="532.5" cy="779.3" r="5.8"/><circle cx="524.3" cy="738.3" r="5.8"/><circle cx="540.6" cy="796.3" r="5.8"/><circle cx="509.5" cy="760.6" r="5.8"/><circle cx="465" cy="752.6" r="5.8"/><circle cx="545.1" cy="779.4" r="5.8"/><circle cx="497.5" cy="713.5" r="5.8"/><circle cx="483.3" cy="757.7" r="5.8"/><circle cx="455.2" cy="766.2" r="5.8"/><circle cx="535" cy="806.1" r="5.8"/><circle cx="470.6" cy="809.3" r="5.8"/><circle cx="460.7" cy="774.6" r="5.8"/><circle cx="518.5" cy="756.5" r="5.8"/><circle cx="531.4" cy="779.2" r="5.8"/><circle cx="498.3" cy="728.2" r="5.8"/><circle cx="445.3" cy="787.6" r="5.8"/><circle cx="562.1" cy="769.8" r="5.8"/><circle cx="466.9" cy="799.2" r="5.8"/><circle cx="485.6" cy="749.5" r="5.8"/><circle cx="447.3" cy="780" r="5.8"/><circle cx="471.4" cy="772" r="5.8"/><circle cx="504.4" cy="771.8" r="5.8"/><circle cx="487.6" cy="725" r="5.8"/><circle cx="493.5" cy="781.4" r="5.8"/><circle cx="519.8" cy="799.9" r="5.8"/><circle cx="563.3" cy="794" r="5.8"/><circle cx="556.7" cy="785.1" r="5.8"/><circle cx="488.4" cy="794.7" r="5.8"/><circle cx="473" cy="796.9" r="5.8"/><circle cx="503.6" cy="751.3" r="5.8"/><circle cx="478.4" cy="790.1" r="5.8"/><circle cx="456.6" cy="772.2" r="5.8"/><circle cx="521.1" cy="786" r="5.8"/><circle cx="547.8" cy="771.9" r="5.8"/><circle cx="457.6" cy="777.3" r="5.8"/><circle cx="558.2" cy="805.8" r="5.8"/><circle cx="557.2" cy="782.3" r="5.8"/><circle cx="575.6" cy="796.9" r="5.8"/><circle cx="503.6" cy="766.2" r="5.8"/><circle cx="454.3" cy="791.8" r="5.8"/><circle cx="517.3" cy="760.2" r="5.8"/><circle cx="487.7" cy="727.2" r="5.8"/><circle cx="524.4" cy="739" r="5.8"/><circle cx="495.6" cy="776.4" r="5.8"/><circle cx="532.3" cy="768.7" r="5.8"/><circle cx="547.2" cy="783.8" r="5.8"/><circle cx="557.3" cy="795.8" r="5.8"/><circle cx="516.8" cy="799.4" r="5.8"/><circle cx="461.4" cy="748.3" r="5.8"/><circle cx="549.3" cy="811.5" r="5.8"/><circle cx="538.2" cy="795.6" r="5.8"/><circle cx="550.2" cy="773.2" r="5.8"/><circle cx="550.2" cy="808.6" r="5.8"/><circle cx="532.6" cy="799.2" r="5.8"/><circle cx="465.2" cy="808.4" r="5.8"/><circle cx="473.7" cy="762.1" r="5.8"/><circle cx="550.2" cy="773.4" r="5.8"/><circle cx="560.5" cy="808.1" r="5.8"/><circle cx="471.1" cy="731.7" r="5.8"/><circle cx="532.2" cy="813.4" r="5.8"/><circle cx="506.8" cy="719.3" r="5.8"/><circle cx="482.5" cy="784.6" r="5.8"/><circle cx="466.6" cy="796.8" r="5.8"/><circle cx="515.5" cy="801.6" r="5.8"/><circle cx="519.4" cy="757.1" r="5.8"/><circle cx="471.8" cy="752.3" r="5.8"/><circle cx="528.7" cy="735.9" r="5.8"/><circle cx="504.1" cy="736.2" r="5.8"/><circle cx="448.2" cy="777.3" r="5.8"/><circle cx="475.9" cy="758.4" r="5.8"/><circle cx="510.4" cy="747" r="5.8"/><circle cx="560.8" cy="785.5" r="5.8"/><circle cx="574.1" cy="777.8" r="5.8"/><circle cx="548.3" cy="754.7" r="5.8"/><circle cx="443.7" cy="786.1" r="5.8"/><circle cx="527.5" cy="801.9" r="5.8"/><circle cx="506.7" cy="758.1" r="5.8"/><circle cx="485.4" cy="805.2" r="5.8"/><circle cx="543" cy="764.2" r="5.8"/><circle cx="534.7" cy="800.3" r="5.8"/><circle cx="565.1" cy="810.4" r="5.8"/><circle cx="472.6" cy="762.1" r="5.8"/><circle cx="525.1" cy="784.2" r="5.8"/><circle cx="548.8" cy="798.2" r="5.8"/><circle cx="453.3" cy="797.7" r="5.8"/><circle cx="560.7" cy="790.6" r="5.8"/><circle cx="509.5" cy="748.6" r="5.8"/><circle cx="432.6" cy="739.8" r="5.8"/><circle cx="561.7" cy="803.7" r="5.8"/><circle cx="543.8" cy="796.2" r="5.8"/><circle cx="506.4" cy="750" r="5.8"/><circle cx="547.6" cy="799.2" r="5.8"/><circle cx="516" cy="733" r="5.8"/><circle cx="491.7" cy="812" r="5.8"/><circle cx="488.7" cy="780.7" r="5.8"/><circle cx="477.2" cy="811" r="5.8"/><circle cx="454.8" cy="754.1" r="5.8"/><circle cx="497.3" cy="797.2" r="5.8"/><circle cx="498.1" cy="731.2" r="5.8"/><circle cx="486.6" cy="756.6" r="5.8"/><circle cx="517.2" cy="792.9" r="5.8"/><circle cx="481.8" cy="787.9" r="5.8"/><circle cx="476.6" cy="763.8" r="5.8"/><circle cx="467.7" cy="795.2" r="5.8"/><circle cx="528.4" cy="745.2" r="5.8"/><circle cx="402.7" cy="712.5" r="5.8"/><circle cx="476.2" cy="743.8" r="5.8"/><circle cx="520.2" cy="757.4" r="5.8"/><circle cx="557.3" cy="814.6" r="5.8"/><circle cx="443.8" cy="778.6" r="5.8"/><circle cx="456" cy="801.7" r="5.8"/><circle cx="476.5" cy="743.6" r="5.8"/><circle cx="479.9" cy="802.7" r="5.8"/><circle cx="516.6" cy="755.8" r="5.8"/><circle cx="462.9" cy="771" r="5.8"/><circle cx="516.9" cy="756.1" r="5.8"/><circle cx="529" cy="787.2" r="5.8"/><circle cx="507.7" cy="710.9" r="5.8"/><circle cx="496.1" cy="716.3" r="5.8"/><circle cx="441.3" cy="768.7" r="5.8"/><circle cx="524.6" cy="741" r="5.8"/><circle cx="553.9" cy="811" r="5.8"/><circle cx="505.3" cy="717.1" r="5.8"/><circle cx="474.6" cy="792.6" r="5.8"/><circle cx="548.2" cy="785.3" r="5.8"/><circle cx="537.4" cy="749.3" r="5.8"/><circle cx="515.2" cy="795.9" r="5.8"/><circle cx="489.4" cy="762.5" r="5.8"/><circle cx="481.1" cy="759.1" r="5.8"/><circle cx="523.1" cy="745.3" r="5.8"/><circle cx="520.4" cy="816.9" r="5.8"/><circle cx="482.2" cy="774.7" r="5.8"/><circle cx="530.2" cy="805.6" r="5.8"/><circle cx="492.6" cy="721.4" r="5.8"/><circle cx="488" cy="717.1" r="5.8"/><circle cx="509" cy="807" r="5.8"/><circle cx="442.7" cy="788.6" r="5.8"/><circle cx="513.7" cy="772.1" r="5.8"/><circle cx="493.8" cy="815" r="5.8"/><circle cx="517.4" cy="784.7" r="5.8"/><circle cx="451" cy="775.1" r="5.8"/><circle cx="496.4" cy="799.6" r="5.8"/><circle cx="552.7" cy="794.3" r="5.8"/><circle cx="561.1" cy="774.1" r="5.8"/><circle cx="488.8" cy="801.5" r="5.8"/><circle cx="482.2" cy="801.3" r="5.8"/><circle cx="488.9" cy="716.4" r="5.8"/><circle cx="522" cy="796" r="5.8"/><circle cx="494.5" cy="770.5" r="5.8"/><circle cx="488.2" cy="712.8" r="5.8"/><circle cx="444.6" cy="763.7" r="5.8"/><circle cx="555.8" cy="774.3" r="5.8"/><circle cx="538.2" cy="751.6" r="5.8"/><circle cx="545.2" cy="773.8" r="5.8"/><circle cx="498.9" cy="778.6" r="5.8"/><circle cx="472.2" cy="750.3" r="5.8"/><circle cx="528.3" cy="751.3" r="5.8"/><circle cx="487.3" cy="795.8" r="5.8"/><circle cx="543.5" cy="816.6" r="5.8"/><circle cx="560.2" cy="791.2" r="5.8"/><circle cx="569.6" cy="806.9" r="5.8"/><circle cx="507.5" cy="726.6" r="5.8"/><circle cx="527.2" cy="783.2" r="5.8"/><circle cx="526.2" cy="808.5" r="5.8"/><circle cx="517.6" cy="769.5" r="5.8"/><circle cx="479.5" cy="751.5" r="5.8"/><circle cx="499.1" cy="805.6" r="5.8"/><circle cx="537.7" cy="772.4" r="5.8"/><circle cx="466.2" cy="764" r="5.8"/><circle cx="529.7" cy="746.6" r="5.8"/><circle cx="561.2" cy="804.7" r="5.8"/><circle cx="540.5" cy="775.5" r="5.8"/><circle cx="444.3" cy="791.4" r="5.8"/><circle cx="524.4" cy="814" r="5.8"/><circle cx="515.8" cy="754" r="5.8"/><circle cx="460.5" cy="774.5" r="5.8"/><circle cx="516.2" cy="786.4" r="5.8"/><circle cx="507.5" cy="724.3" r="5.8"/><circle cx="450.6" cy="795.7" r="5.8"/><circle cx="507.2" cy="769" r="5.8"/><circle cx="472" cy="761.7" r="5.8"/><circle cx="474.4" cy="786.9" r="5.8"/><circle cx="508.7" cy="798.8" r="5.8"/><circle cx="466.9" cy="745.6" r="5.8"/><circle cx="482" cy="789" r="5.8"/><circle cx="532.2" cy="779.6" r="5.8"/><circle cx="466.6" cy="739.8" r="5.8"/><circle cx="569.3" cy="774.7" r="5.8"/><circle cx="518.3" cy="762.2" r="5.8"/><circle cx="540.3" cy="815.9" r="5.8"/><circle cx="483.9" cy="773.3" r="5.8"/><circle cx="532.5" cy="750.7" r="5.8"/><circle cx="554.7" cy="806" r="5.8"/><circle cx="542.7" cy="779" r="5.8"/><circle cx="510.9" cy="744.5" r="5.8"/><circle cx="550.9" cy="761.3" r="5.8"/><circle cx="499" cy="759.6" r="5.8"/><circle cx="479.8" cy="800.6" r="5.8"/><circle cx="449.9" cy="798.3" r="5.8"/><circle cx="453.8" cy="781.8" r="5.8"/><circle cx="528.7" cy="800.3" r="5.8"/><circle cx="541.9" cy="751.3" r="5.8"/><circle cx="464.4" cy="749.3" r="5.8"/><circle cx="529.6" cy="798.6" r="5.8"/><circle cx="496.1" cy="771.6" r="5.8"/><circle cx="450.7" cy="796.8" r="5.8"/><circle cx="475.7" cy="741.4" r="5.8"/><circle cx="511.2" cy="800.9" r="5.8"/><circle cx="495.3" cy="797.8" r="5.8"/><circle cx="523.5" cy="774" r="5.8"/><circle cx="486.8" cy="750.4" r="5.8"/><circle cx="583" cy="790.2" r="5.8"/><circle cx="460.4" cy="767.3" r="5.8"/><circle cx="522.1" cy="813.7" r="5.8"/><circle cx="513.7" cy="803.6" r="5.8"/><circle cx="454.7" cy="802.3" r="5.8"/><circle cx="500.9" cy="725.3" r="5.8"/><circle cx="505" cy="757.9" r="5.8"/><circle cx="435.5" cy="729.2" r="5.8"/><circle cx="513.4" cy="755.3" r="5.8"/><circle cx="403.1" cy="763.5" r="5.8"/><circle cx="489" cy="780.7" r="5.8"/><circle cx="464.6" cy="758.1" r="5.8"/><circle cx="509.1" cy="771.2" r="5.8"/><circle cx="407.8" cy="738.3" r="5.8"/><circle cx="520.6" cy="776.9" r="5.8"/><circle cx="412.8" cy="735" r="5.8"/><circle cx="569.7" cy="803.3" r="5.8"/><circle cx="474.1" cy="745" r="5.8"/><circle cx="444.9" cy="805.1" r="5.8"/><circle cx="486.4" cy="802" r="5.8"/><circle cx="502.7" cy="794.4" r="5.8"/><circle cx="521.3" cy="733.4" r="5.8"/><circle cx="483.4" cy="769.9" r="5.8"/><circle cx="497.7" cy="764.5" r="5.8"/><circle cx="477.4" cy="738.1" r="5.8"/><circle cx="504.2" cy="769.3" r="5.8"/><circle cx="527.4" cy="745" r="5.8"/><circle cx="528.2" cy="774.7" r="5.8"/><circle cx="572.4" cy="795.7" r="5.8"/><circle cx="483.7" cy="738.4" r="5.8"/><circle cx="533.9" cy="755.4" r="5.8"/><circle cx="508.4" cy="809.1" r="5.8"/><circle cx="497" cy="807.2" r="5.8"/><circle cx="539.6" cy="779.6" r="5.8"/><circle cx="506.7" cy="790.9" r="5.8"/><circle cx="508.2" cy="788.5" r="5.8"/><circle cx="466.2" cy="794.8" r="5.8"/><circle cx="543.5" cy="812" r="5.8"/><circle cx="482.9" cy="784.3" r="5.8"/><circle cx="468.3" cy="750.6" r="5.8"/><circle cx="521.7" cy="808.6" r="5.8"/><circle cx="499.1" cy="786.4" r="5.8"/><circle cx="481.4" cy="799.3" r="5.8"/><circle cx="522.9" cy="789.3" r="5.8"/><circle cx="434.5" cy="790.9" r="5.8"/><circle cx="498.1" cy="810.3" r="5.8"/><circle cx="494" cy="790.7" r="5.8"/><circle cx="583.8" cy="788" r="5.8"/><circle cx="466.7" cy="743.4" r="5.8"/><circle cx="559.9" cy="769.3" r="5.8"/><circle cx="490" cy="805.3" r="5.8"/><circle cx="474.7" cy="764.5" r="5.8"/><circle cx="524.9" cy="747.8" r="5.8"/><circle cx="470.8" cy="792" r="5.8"/><circle cx="512.3" cy="789.3" r="5.8"/><circle cx="546.9" cy="811.4" r="5.8"/><circle cx="451.1" cy="803.5" r="5.8"/><circle cx="468.4" cy="742.8" r="5.8"/><circle cx="458" cy="764.9" r="5.8"/><circle cx="543.5" cy="795.4" r="5.8"/><circle cx="545.4" cy="786.7" r="5.8"/><circle cx="495.9" cy="734.4" r="5.8"/><circle cx="537.4" cy="804.6" r="5.8"/><circle cx="548" cy="757.7" r="5.8"/><circle cx="512.6" cy="756.9" r="5.8"/><circle cx="532.7" cy="772.8" r="5.8"/><circle cx="543" cy="792.2" r="5.8"/><circle cx="533.3" cy="807.1" r="5.8"/><circle cx="499.7" cy="752" r="5.8"/><circle cx="476.8" cy="739.4" r="5.8"/><circle cx="503.2" cy="753.1" r="5.8"/><circle cx="477.6" cy="810.7" r="5.8"/><circle cx="452.8" cy="743.7" r="5.8"/><circle cx="450" cy="751.4" r="5.8"/><circle cx="466.8" cy="770.8" r="5.8"/><circle cx="524.6" cy="794.1" r="5.8"/><circle cx="491.7" cy="743.6" r="5.8"/><circle cx="545.2" cy="807.7" r="5.8"/><circle cx="519.1" cy="801.3" r="5.8"/><circle cx="580.1" cy="801.5" r="5.8"/><circle cx="440.8" cy="774.1" r="5.8"/><circle cx="544" cy="789.5" r="5.8"/><circle cx="542.8" cy="747.2" r="5.8"/><circle cx="439.9" cy="787.3" r="5.8"/><circle cx="537.2" cy="754.7" r="5.8"/><circle cx="547.5" cy="764.6" r="5.8"/></g>
<path class="gr" d="M223.3 821.6V464.2M314 821.6V464.2M404.6 821.6V464.2M495.3 821.6V464.2M586 821.6V464.2M132.6 732.2H676.7M132.6 642.9H676.7M132.6 553.5H676.7"/>
<path class="tk" d="M223.3 821.6v-10.2M223.3 464.2v10.2M314 821.6v-10.2M314 464.2v10.2M404.6 821.6v-10.2M404.6 464.2v10.2M495.3 821.6v-10.2M495.3 464.2v10.2M586 821.6v-10.2M586 464.2v10.2M132.6 732.2h10.2M676.7 732.2h-10.2M132.6 642.9h10.2M676.7 642.9h-10.2M132.6 553.5h10.2M676.7 553.5h-10.2"/>
<path class="ds" clip-path="url(#cp2)" stroke-dashoffset="1.5" d="M132.6 499.9L459.1 821.6"/>
<path class="ds" clip-path="url(#cp2)" stroke-dashoffset="2.5" d="M132.6 410.6L549.7 821.6"/>
<path class="ds" clip-path="url(#cp2)" stroke-dashoffset="-1.4" d="M132.6 321.2L640.4 821.6"/>
<g class="mk" fill="#333333"><circle cx="499.4" cy="787.5" r="5.8"/><circle cx="530.2" cy="749.5" r="5.8"/><circle cx="494.2" cy="733.7" r="5.8"/><circle cx="458.9" cy="789.6" r="5.8"/><circle cx="568.3" cy="785.1" r="5.8"/><circle cx="477.2" cy="769" r="5.8"/><circle cx="571.2" cy="781.2" r="5.8"/><circle cx="482.8" cy="754.9" r="5.8"/><circle cx="512.3" cy="787.6" r="5.8"/><circle cx="536.5" cy="786.9" r="5.8"/><circle cx="501.1" cy="807" r="5.8"/><circle cx="492.7" cy="795.2" r="5.8"/><circle cx="573.1" cy="802.7" r="5.8"/><circle cx="503.2" cy="794.3" r="5.8"/><circle cx="489.5" cy="770" r="5.8"/><circle cx="495.2" cy="708.1" r="5.8"/><circle cx="411.4" cy="753.7" r="5.8"/><circle cx="526.7" cy="810.5" r="5.8"/><circle cx="487" cy="748.3" r="5.8"/><circle cx="497.8" cy="807.2" r="5.8"/><circle cx="465.3" cy="730.2" r="5.8"/><circle cx="504" cy="778.4" r="5.8"/><circle cx="466.8" cy="769" r="5.8"/><circle cx="516.3" cy="801.7" r="5.8"/><circle cx="532.4" cy="754.7" r="5.8"/><circle cx="490" cy="737" r="5.8"/><circle cx="561.9" cy="787.5" r="5.8"/><circle cx="469.1" cy="798.4" r="5.8"/><circle cx="454.7" cy="709.4" r="5.8"/><circle cx="524" cy="793.3" r="5.8"/></g>
<rect class="sp" x="132.6" y="464.2" width="544.1" height="357.4"/>
<text class="tl" text-anchor="end" transform="translate(123.3 477.1) scale(1 1.035)">20</text>
<text class="tl" text-anchor="end" transform="translate(123.3 566.7) scale(1 1.035)">15</text>
<text class="tl" text-anchor="end" transform="translate(123.3 656.3) scale(1 1.035)">10</text>
<text class="tl" text-anchor="end" transform="translate(123.3 745.9) scale(1 1.035)">5</text>
<text class="tl" text-anchor="end" transform="translate(123.3 835.5) scale(1 1.035)">0</text>
<text class="tl" text-anchor="middle" transform="translate(132.8 854.7) scale(1 1.035)">0</text>
<text class="tl" text-anchor="middle" transform="translate(223.5 854.7) scale(1 1.035)">5</text>
<text class="tl" text-anchor="middle" transform="translate(314.1 854.7) scale(1 1.035)">10</text>
<text class="tl" text-anchor="middle" transform="translate(404.8 854.7) scale(1 1.035)">15</text>
<text class="tl" text-anchor="middle" transform="translate(495.5 854.7) scale(1 1.035)">20</text>
<text class="tl" text-anchor="middle" transform="translate(586.2 854.7) scale(1 1.035)">25</text>
<text class="tl" text-anchor="middle" transform="translate(676.8 854.7) scale(1 1.035)">30</text>
<text class="hb" transform="translate(553.3 522.3) scale(1 1.035)">HAB3</text>
</g>
<g>
<clipPath id="cp3"><rect x="786.3" y="463.3" width="544.1" height="357.4"/></clipPath>
<g class="mk" fill="#008000"><circle cx="1075.5" cy="762.4" r="5.8"/><circle cx="1187.5" cy="784.3" r="5.8"/><circle cx="1146.7" cy="793.6" r="5.8"/><circle cx="1151.1" cy="784.6" r="5.8"/><circle cx="1109.1" cy="777.1" r="5.8"/><circle cx="1152.6" cy="781.8" r="5.8"/><circle cx="1086.9" cy="730.3" r="5.8"/><circle cx="1132.8" cy="806.7" r="5.8"/><circle cx="1219.4" cy="804.8" r="5.8"/><circle cx="1141.6" cy="793.1" r="5.8"/><circle cx="1139.2" cy="748.4" r="5.8"/><circle cx="1079.2" cy="688.8" r="5.8"/><circle cx="1124.1" cy="786" r="5.8"/><circle cx="1194" cy="770.2" r="5.8"/><circle cx="1114.7" cy="757.1" r="5.8"/><circle cx="1105.1" cy="714.7" r="5.8"/><circle cx="1123.6" cy="780.3" r="5.8"/><circle cx="1124" cy="788.1" r="5.8"/><circle cx="1123.9" cy="786.7" r="5.8"/><circle cx="1127.4" cy="695.4" r="5.8"/><circle cx="1100.4" cy="747" r="5.8"/><circle cx="1225.9" cy="787.9" r="5.8"/><circle cx="1089.9" cy="774.1" r="5.8"/><circle cx="1134.4" cy="784.8" r="5.8"/><circle cx="1212.8" cy="799.7" r="5.8"/><circle cx="1119.6" cy="748.3" r="5.8"/><circle cx="1115.5" cy="678.9" r="5.8"/><circle cx="1093.2" cy="780.4" r="5.8"/><circle cx="1108.6" cy="775.9" r="5.8"/><circle cx="1130.4" cy="806.1" r="5.8"/><circle cx="1212.4" cy="772.1" r="5.8"/><circle cx="1150.9" cy="759.3" r="5.8"/><circle cx="1209.8" cy="763.8" r="5.8"/><circle cx="1097.8" cy="774.4" r="5.8"/><circle cx="1193.5" cy="758.3" r="5.8"/><circle cx="1104.7" cy="747.8" r="5.8"/><circle cx="1195.7" cy="805" r="5.8"/><circle cx="1155.4" cy="798.9" r="5.8"/><circle cx="1216.1" cy="790.3" r="5.8"/><circle cx="1113.7" cy="737" r="5.8"/><circle cx="1092.5" cy="748.9" r="5.8"/><circle cx="1157.5" cy="722" r="5.8"/><circle cx="1099" cy="743.3" r="5.8"/><circle cx="1111.9" cy="777.4" r="5.8"/><circle cx="1218.5" cy="805.1" r="5.8"/><circle cx="1239.6" cy="802.2" r="5.8"/><circle cx="1137.2" cy="760.1" r="5.8"/><circle cx="1096.2" cy="775.8" r="5.8"/><circle cx="1171.7" cy="803.5" r="5.8"/><circle cx="1151.1" cy="711.7" r="5.8"/><circle cx="1151.5" cy="805.9" r="5.8"/><circle cx="1209.6" cy="765.7" r="5.8"/><circle cx="1209.2" cy="770.1" r="5.8"/><circle cx="1110.5" cy="794.6" r="5.8"/><circle cx="1138.4" cy="791.8" r="5.8"/><circle cx="1182.1" cy="696.8" r="5.8"/><circle cx="1130.1" cy="769.5" r="5.8"/><circle cx="1138.7" cy="794.8" r="5.8"/><circle cx="1150.9" cy="789.1" r="5.8"/><circle cx="1092.1" cy="798.5" r="5.8"/><circle cx="1225.8" cy="800.9" r="5.8"/><circle cx="1142.9" cy="783.9" r="5.8"/><circle cx="1146.2" cy="781.6" r="5.8"/><circle cx="1205.7" cy="766.4" r="5.8"/><circle cx="1082.8" cy="766.5" r="5.8"/><circle cx="1112.2" cy="779" r="5.8"/><circle cx="1148.8" cy="799.8" r="5.8"/><circle cx="1091.7" cy="751.7" r="5.8"/><circle cx="1127" cy="757.6" r="5.8"/><circle cx="1127.4" cy="767.2" r="5.8"/><circle cx="1143.7" cy="794.8" r="5.8"/><circle cx="1112.3" cy="783.9" r="5.8"/><circle cx="1188.8" cy="751.3" r="5.8"/><circle cx="1203.6" cy="782.4" r="5.8"/><circle cx="1205.4" cy="801.3" r="5.8"/><circle cx="1107.4" cy="798.1" r="5.8"/><circle cx="1008.7" cy="614.1" r="5.8"/><circle cx="1084.2" cy="781.7" r="5.8"/><circle cx="1141.5" cy="730.4" r="5.8"/><circle cx="1094.7" cy="785" r="5.8"/><circle cx="1237.2" cy="786.1" r="5.8"/><circle cx="1100.1" cy="780.4" r="5.8"/><circle cx="1098.9" cy="668.5" r="5.8"/><circle cx="1128.8" cy="689.9" r="5.8"/><circle cx="1096.7" cy="790.7" r="5.8"/><circle cx="1127.2" cy="752" r="5.8"/><circle cx="1168.6" cy="795.4" r="5.8"/><circle cx="1243.7" cy="793.5" r="5.8"/><circle cx="1098.9" cy="741.1" r="5.8"/><circle cx="1085.6" cy="775.5" r="5.8"/><circle cx="1175.8" cy="802.3" r="5.8"/><circle cx="1099.2" cy="786.5" r="5.8"/><circle cx="1197.5" cy="749.5" r="5.8"/><circle cx="1214" cy="804.2" r="5.8"/><circle cx="1101.2" cy="704.5" r="5.8"/><circle cx="1189.5" cy="784.8" r="5.8"/><circle cx="1088.1" cy="783.6" r="5.8"/><circle cx="1080.1" cy="729.2" r="5.8"/><circle cx="1112" cy="695.6" r="5.8"/><circle cx="1117.3" cy="786.8" r="5.8"/><circle cx="1167.7" cy="804.3" r="5.8"/><circle cx="1174.5" cy="807.4" r="5.8"/><circle cx="1120.3" cy="754.3" r="5.8"/><circle cx="1206.4" cy="782.2" r="5.8"/><circle cx="1223.7" cy="775.8" r="5.8"/><circle cx="1125.5" cy="741.8" r="5.8"/><circle cx="1216.1" cy="773.8" r="5.8"/><circle cx="1114.9" cy="743.3" r="5.8"/><circle cx="1162.2" cy="784.3" r="5.8"/><circle cx="1216.6" cy="796.8" r="5.8"/><circle cx="1069.6" cy="722.5" r="5.8"/><circle cx="1111.3" cy="790.3" r="5.8"/><circle cx="1126.2" cy="805.7" r="5.8"/><circle cx="1183.6" cy="744.3" r="5.8"/><circle cx="1139.9" cy="707.6" r="5.8"/><circle cx="1109.8" cy="757.2" r="5.8"/><circle cx="1130.5" cy="805.6" r="5.8"/><circle cx="1098" cy="755.2" r="5.8"/><circle cx="1217.9" cy="774" r="5.8"/><circle cx="1112.8" cy="802.1" r="5.8"/><circle cx="1160.1" cy="775.8" r="5.8"/><circle cx="1124.9" cy="754.5" r="5.8"/><circle cx="1062.9" cy="746.4" r="5.8"/><circle cx="1218.2" cy="774.2" r="5.8"/><circle cx="1211" cy="775.7" r="5.8"/><circle cx="1076.4" cy="766.8" r="5.8"/><circle cx="1079" cy="741.1" r="5.8"/><circle cx="1077.6" cy="745.9" r="5.8"/><circle cx="1121.2" cy="779.2" r="5.8"/><circle cx="1107.4" cy="765" r="5.8"/><circle cx="1104.3" cy="739.5" r="5.8"/><circle cx="1124.1" cy="757.8" r="5.8"/><circle cx="1257.8" cy="797.4" r="5.8"/><circle cx="1106.8" cy="772" r="5.8"/><circle cx="1124.6" cy="724.5" r="5.8"/><circle cx="1218" cy="794" r="5.8"/><circle cx="1129.7" cy="809.4" r="5.8"/><circle cx="1192" cy="799.3" r="5.8"/><circle cx="1217.7" cy="758.8" r="5.8"/><circle cx="1086.5" cy="756.7" r="5.8"/><circle cx="1168.3" cy="713.3" r="5.8"/><circle cx="1102.9" cy="798" r="5.8"/><circle cx="1093.1" cy="749.1" r="5.8"/><circle cx="1101.9" cy="799.1" r="5.8"/><circle cx="1203.3" cy="795.1" r="5.8"/><circle cx="1144.8" cy="782.9" r="5.8"/><circle cx="1107.6" cy="796.8" r="5.8"/><circle cx="1121" cy="761.9" r="5.8"/><circle cx="1163.3" cy="802.4" r="5.8"/><circle cx="1121.2" cy="717.5" r="5.8"/><circle cx="1106.1" cy="779.8" r="5.8"/><circle cx="1194.8" cy="764" r="5.8"/><circle cx="1094.7" cy="776.1" r="5.8"/><circle cx="1159.4" cy="778.7" r="5.8"/><circle cx="1080.4" cy="783.3" r="5.8"/><circle cx="1089.9" cy="782.3" r="5.8"/><circle cx="1126.5" cy="740.8" r="5.8"/><circle cx="1158.1" cy="794.9" r="5.8"/><circle cx="1122.7" cy="794.6" r="5.8"/><circle cx="1094.9" cy="757" r="5.8"/><circle cx="1122.4" cy="746.5" r="5.8"/><circle cx="1097.3" cy="788.4" r="5.8"/><circle cx="1116.6" cy="797.8" r="5.8"/><circle cx="1186.3" cy="763.3" r="5.8"/><circle cx="1202.5" cy="763.6" r="5.8"/><circle cx="1096.5" cy="768.6" r="5.8"/><circle cx="1100.4" cy="714.2" r="5.8"/><circle cx="1195.2" cy="805.2" r="5.8"/><circle cx="1087.6" cy="754.9" r="5.8"/><circle cx="1079.3" cy="763.7" r="5.8"/><circle cx="1135.3" cy="785.1" r="5.8"/><circle cx="1098.6" cy="739.6" r="5.8"/><circle cx="1139.3" cy="784.1" r="5.8"/><circle cx="1223.4" cy="810.5" r="5.8"/><circle cx="1161.8" cy="802.9" r="5.8"/><circle cx="1110.5" cy="798.6" r="5.8"/><circle cx="1194" cy="789.9" r="5.8"/><circle cx="1158.5" cy="721.5" r="5.8"/><circle cx="1220.8" cy="771.3" r="5.8"/><circle cx="1161.5" cy="713.7" r="5.8"/><circle cx="1161.2" cy="717.7" r="5.8"/><circle cx="1129.3" cy="746" r="5.8"/><circle cx="1114.7" cy="754.6" r="5.8"/><circle cx="1110.1" cy="786.6" r="5.8"/><circle cx="1137.5" cy="778.8" r="5.8"/><circle cx="1165.8" cy="782" r="5.8"/><circle cx="1130.3" cy="738.7" r="5.8"/><circle cx="1155.7" cy="782.9" r="5.8"/><circle cx="1134.1" cy="750.9" r="5.8"/><circle cx="1102.5" cy="784.2" r="5.8"/><circle cx="1145.2" cy="724.1" r="5.8"/><circle cx="1159.8" cy="802.3" r="5.8"/><circle cx="1227.4" cy="783.9" r="5.8"/><circle cx="1159.5" cy="712.3" r="5.8"/><circle cx="1166.6" cy="711.8" r="5.8"/><circle cx="1132.2" cy="769" r="5.8"/><circle cx="1243.2" cy="790.2" r="5.8"/><circle cx="1085.6" cy="737" r="5.8"/><circle cx="1153.3" cy="785.6" r="5.8"/><circle cx="1216.2" cy="796.9" r="5.8"/><circle cx="1121.8" cy="791.9" r="5.8"/><circle cx="1160.4" cy="798.1" r="5.8"/><circle cx="1191.4" cy="783.4" r="5.8"/><circle cx="1084.9" cy="766.8" r="5.8"/><circle cx="1092.7" cy="779.6" r="5.8"/><circle cx="1177.4" cy="729.4" r="5.8"/><circle cx="1199.3" cy="791.9" r="5.8"/><circle cx="1183.3" cy="802.4" r="5.8"/><circle cx="1167.8" cy="806.3" r="5.8"/><circle cx="1171.7" cy="758.8" r="5.8"/><circle cx="1207.4" cy="793.6" r="5.8"/><circle cx="1099.3" cy="744.3" r="5.8"/><circle cx="1076.9" cy="718.6" r="5.8"/><circle cx="1091.2" cy="773.4" r="5.8"/><circle cx="1168.2" cy="785" r="5.8"/><circle cx="1213.2" cy="805.3" r="5.8"/><circle cx="1080.7" cy="754.9" r="5.8"/><circle cx="1153.3" cy="702.7" r="5.8"/><circle cx="1164.7" cy="800" r="5.8"/><circle cx="1235.1" cy="804.1" r="5.8"/><circle cx="1088.7" cy="733.9" r="5.8"/><circle cx="1135" cy="779.5" r="5.8"/><circle cx="1233.4" cy="794.6" r="5.8"/><circle cx="1180.5" cy="767.4" r="5.8"/><circle cx="1115.1" cy="796.7" r="5.8"/><circle cx="1099.8" cy="776.7" r="5.8"/><circle cx="1157.8" cy="768.3" r="5.8"/><circle cx="1088.3" cy="769.4" r="5.8"/><circle cx="1095.5" cy="716.1" r="5.8"/><circle cx="1118" cy="802" r="5.8"/><circle cx="1212.3" cy="773.8" r="5.8"/><circle cx="1131.3" cy="736.5" r="5.8"/><circle cx="1147.2" cy="749.8" r="5.8"/><circle cx="1139.5" cy="774.5" r="5.8"/><circle cx="1145.8" cy="748.1" r="5.8"/><circle cx="1175.2" cy="720.9" r="5.8"/><circle cx="1158.5" cy="794" r="5.8"/><circle cx="1082.6" cy="648.6" r="5.8"/><circle cx="1109.6" cy="743.4" r="5.8"/><circle cx="1237.2" cy="786.3" r="5.8"/><circle cx="1110.7" cy="780.7" r="5.8"/><circle cx="1155.5" cy="741.8" r="5.8"/><circle cx="1176.3" cy="780" r="5.8"/><circle cx="1091.8" cy="737.4" r="5.8"/><circle cx="1168.1" cy="783.2" r="5.8"/><circle cx="1186.7" cy="759.9" r="5.8"/><circle cx="1075.5" cy="757.3" r="5.8"/><circle cx="1149.7" cy="790.8" r="5.8"/><circle cx="1187.4" cy="733.1" r="5.8"/><circle cx="1081.1" cy="781.5" r="5.8"/><circle cx="1125.9" cy="785.1" r="5.8"/><circle cx="1142.9" cy="802.5" r="5.8"/><circle cx="1123.9" cy="807.2" r="5.8"/><circle cx="1110.8" cy="768.7" r="5.8"/><circle cx="1146.4" cy="771.7" r="5.8"/><circle cx="1150.6" cy="792.8" r="5.8"/><circle cx="1100.7" cy="741.2" r="5.8"/><circle cx="1242" cy="789.8" r="5.8"/><circle cx="1175.4" cy="722.4" r="5.8"/><circle cx="1147.4" cy="776.1" r="5.8"/><circle cx="1157.6" cy="767.1" r="5.8"/><circle cx="1120.7" cy="792.9" r="5.8"/><circle cx="1180.4" cy="798.5" r="5.8"/><circle cx="1125.5" cy="791.5" r="5.8"/><circle cx="1244.1" cy="796.7" r="5.8"/><circle cx="1142.1" cy="783.7" r="5.8"/><circle cx="1157.3" cy="789.5" r="5.8"/><circle cx="1171.1" cy="801.9" r="5.8"/><circle cx="1113.2" cy="805.3" r="5.8"/><circle cx="1212.1" cy="782.5" r="5.8"/><circle cx="1143.2" cy="726.9" r="5.8"/><circle cx="1221.9" cy="775.2" r="5.8"/><circle cx="1161.2" cy="773.7" r="5.8"/><circle cx="1154.5" cy="771.6" r="5.8"/><circle cx="1123.6" cy="760.1" r="5.8"/><circle cx="1150.5" cy="774.7" r="5.8"/><circle cx="1118.7" cy="742.8" r="5.8"/><circle cx="1121.1" cy="782.1" r="5.8"/><circle cx="1089.3" cy="741.7" r="5.8"/><circle cx="1152.9" cy="768.3" r="5.8"/><circle cx="1144.8" cy="761.4" r="5.8"/><circle cx="1138.3" cy="776.1" r="5.8"/><circle cx="1120" cy="779.5" r="5.8"/><circle cx="1144.5" cy="758.9" r="5.8"/><circle cx="1099.8" cy="769.6" r="5.8"/><circle cx="1198.3" cy="784.4" r="5.8"/><circle cx="1102.8" cy="795.5" r="5.8"/><circle cx="1190.5" cy="797.3" r="5.8"/><circle cx="1141.5" cy="772.3" r="5.8"/><circle cx="1109.5" cy="723.2" r="5.8"/><circle cx="1135" cy="711" r="5.8"/><circle cx="1094.5" cy="779.9" r="5.8"/><circle cx="1114.4" cy="767.9" r="5.8"/><circle cx="1129.3" cy="772.1" r="5.8"/><circle cx="1136.1" cy="720.9" r="5.8"/><circle cx="1088.5" cy="742" r="5.8"/><circle cx="1099.9" cy="785.5" r="5.8"/><circle cx="1178.7" cy="797.6" r="5.8"/><circle cx="1221.9" cy="799.8" r="5.8"/><circle cx="1170.2" cy="748.7" r="5.8"/><circle cx="1165.6" cy="784.7" r="5.8"/><circle cx="1199.6" cy="779.4" r="5.8"/><circle cx="1160.2" cy="788.1" r="5.8"/><circle cx="1189.2" cy="786.7" r="5.8"/><circle cx="1090.2" cy="773.7" r="5.8"/><circle cx="1086.9" cy="774.5" r="5.8"/><circle cx="1138.5" cy="774" r="5.8"/><circle cx="1230.1" cy="789.6" r="5.8"/><circle cx="1201.9" cy="770.5" r="5.8"/><circle cx="1096.1" cy="785.8" r="5.8"/><circle cx="1246.4" cy="787.5" r="5.8"/><circle cx="1149.9" cy="735.8" r="5.8"/><circle cx="1192.4" cy="734.7" r="5.8"/><circle cx="1103.4" cy="783.6" r="5.8"/><circle cx="1172.8" cy="802.7" r="5.8"/><circle cx="1056.9" cy="705.3" r="5.8"/><circle cx="1223.3" cy="790" r="5.8"/><circle cx="1172" cy="802.2" r="5.8"/><circle cx="1155.3" cy="705.1" r="5.8"/><circle cx="1162.3" cy="782.9" r="5.8"/><circle cx="1071.9" cy="763" r="5.8"/><circle cx="1098.4" cy="789.7" r="5.8"/><circle cx="1140.2" cy="809.8" r="5.8"/><circle cx="1153.6" cy="724.8" r="5.8"/><circle cx="1162.5" cy="793.2" r="5.8"/><circle cx="1178.9" cy="793.9" r="5.8"/><circle cx="1149.5" cy="805" r="5.8"/><circle cx="1037.9" cy="649.3" r="5.8"/><circle cx="1226" cy="767.9" r="5.8"/><circle cx="1149.7" cy="771.5" r="5.8"/><circle cx="1142.5" cy="756.1" r="5.8"/><circle cx="1138.3" cy="710.1" r="5.8"/><circle cx="1162.8" cy="800.8" r="5.8"/><circle cx="1129.3" cy="800.1" r="5.8"/><circle cx="1155.6" cy="775.6" r="5.8"/><circle cx="1120.7" cy="745.8" r="5.8"/><circle cx="1094.2" cy="788.8" r="5.8"/><circle cx="1092.5" cy="725.5" r="5.8"/><circle cx="1115.1" cy="744.6" r="5.8"/><circle cx="1206.1" cy="807.7" r="5.8"/><circle cx="1096" cy="751.9" r="5.8"/><circle cx="1136.3" cy="753" r="5.8"/><circle cx="1167.4" cy="807.3" r="5.8"/><circle cx="1207.4" cy="777.2" r="5.8"/><circle cx="1132.2" cy="792.9" r="5.8"/><circle cx="1177.6" cy="802.5" r="5.8"/><circle cx="1144.8" cy="799.7" r="5.8"/><circle cx="1133.3" cy="722.1" r="5.8"/><circle cx="1157.2" cy="770.5" r="5.8"/><circle cx="1112" cy="786.3" r="5.8"/><circle cx="1115.3" cy="751.4" r="5.8"/><circle cx="1122.4" cy="747.3" r="5.8"/><circle cx="1201" cy="771" r="5.8"/><circle cx="1127.3" cy="778.1" r="5.8"/><circle cx="1210.4" cy="785" r="5.8"/><circle cx="1143" cy="747.3" r="5.8"/><circle cx="1098.3" cy="706" r="5.8"/><circle cx="1215.1" cy="794.4" r="5.8"/><circle cx="1134.9" cy="791.4" r="5.8"/><circle cx="1234.9" cy="804.7" r="5.8"/><circle cx="1101.4" cy="799.4" r="5.8"/><circle cx="1200.4" cy="745" r="5.8"/><circle cx="1173" cy="803.9" r="5.8"/><circle cx="1170.2" cy="780.9" r="5.8"/><circle cx="1132.7" cy="796.7" r="5.8"/><circle cx="1214.4" cy="788.5" r="5.8"/><circle cx="1159.6" cy="781.4" r="5.8"/><circle cx="1092.2" cy="745" r="5.8"/><circle cx="1098" cy="746.1" r="5.8"/><circle cx="1167.3" cy="740.5" r="5.8"/><circle cx="1108.1" cy="793.4" r="5.8"/><circle cx="1115.4" cy="742" r="5.8"/><circle cx="1137.7" cy="789.9" r="5.8"/><circle cx="1153.4" cy="697.9" r="5.8"/><circle cx="1181.8" cy="784.6" r="5.8"/><circle cx="1218.6" cy="784.8" r="5.8"/><circle cx="1155" cy="812" r="5.8"/><circle cx="1148.4" cy="704.4" r="5.8"/><circle cx="1076.4" cy="703.7" r="5.8"/><circle cx="1194.4" cy="761" r="5.8"/><circle cx="1156.7" cy="798.3" r="5.8"/><circle cx="1082.4" cy="766.2" r="5.8"/><circle cx="1221.1" cy="789.8" r="5.8"/><circle cx="1139.1" cy="723.1" r="5.8"/><circle cx="1121.8" cy="768.7" r="5.8"/><circle cx="1178.9" cy="776.6" r="5.8"/><circle cx="1079.2" cy="764.9" r="5.8"/><circle cx="1111.3" cy="726.9" r="5.8"/><circle cx="1122.6" cy="753.8" r="5.8"/><circle cx="1167.2" cy="754.2" r="5.8"/><circle cx="1183.2" cy="774.9" r="5.8"/><circle cx="1227.5" cy="785.8" r="5.8"/><circle cx="1220.8" cy="798.3" r="5.8"/><circle cx="1120.3" cy="733.7" r="5.8"/><circle cx="1118.1" cy="759.3" r="5.8"/><circle cx="1202.6" cy="788.9" r="5.8"/><circle cx="1092.6" cy="789.3" r="5.8"/><circle cx="1134.3" cy="716.8" r="5.8"/><circle cx="1175.6" cy="736.7" r="5.8"/><circle cx="1072.3" cy="753.8" r="5.8"/><circle cx="1149.4" cy="764.6" r="5.8"/><circle cx="1172.7" cy="800" r="5.8"/><circle cx="1109.7" cy="788.6" r="5.8"/><circle cx="1154.9" cy="785.5" r="5.8"/><circle cx="1167.1" cy="735.8" r="5.8"/><circle cx="1124.4" cy="725.8" r="5.8"/><circle cx="1151.9" cy="778.5" r="5.8"/><circle cx="1147.6" cy="800.1" r="5.8"/><circle cx="1099.2" cy="758" r="5.8"/><circle cx="1095.9" cy="753.3" r="5.8"/><circle cx="1178.6" cy="747.3" r="5.8"/><circle cx="1198.6" cy="768.2" r="5.8"/><circle cx="1072.7" cy="756.2" r="5.8"/><circle cx="1105.5" cy="791.4" r="5.8"/><circle cx="1078.8" cy="769.6" r="5.8"/><circle cx="1187.3" cy="768.9" r="5.8"/><circle cx="1120.5" cy="761.1" r="5.8"/><circle cx="1143.7" cy="794.1" r="5.8"/><circle cx="1122.1" cy="809.5" r="5.8"/><circle cx="1154.9" cy="793" r="5.8"/><circle cx="1105.8" cy="746.9" r="5.8"/><circle cx="1126.4" cy="714.7" r="5.8"/><circle cx="1164.4" cy="792.9" r="5.8"/><circle cx="1058.1" cy="740.9" r="5.8"/><circle cx="1169" cy="801.6" r="5.8"/><circle cx="1158" cy="803" r="5.8"/><circle cx="1126.4" cy="776.7" r="5.8"/><circle cx="1209.4" cy="781.6" r="5.8"/><circle cx="1105.8" cy="741.8" r="5.8"/><circle cx="1138.6" cy="770.4" r="5.8"/><circle cx="1230.8" cy="784.6" r="5.8"/><circle cx="1192.7" cy="805" r="5.8"/><circle cx="1148.6" cy="781.8" r="5.8"/><circle cx="1152" cy="759.4" r="5.8"/><circle cx="1120.4" cy="810.4" r="5.8"/><circle cx="1146.6" cy="794.8" r="5.8"/><circle cx="1111.5" cy="776.9" r="5.8"/><circle cx="1122.3" cy="774.4" r="5.8"/><circle cx="1137.3" cy="683.5" r="5.8"/><circle cx="1195.8" cy="770.3" r="5.8"/><circle cx="1164.8" cy="785.1" r="5.8"/><circle cx="1100" cy="770.5" r="5.8"/><circle cx="1160.5" cy="801.5" r="5.8"/><circle cx="1104.2" cy="805.9" r="5.8"/><circle cx="1220.1" cy="795.4" r="5.8"/><circle cx="1133.1" cy="800.6" r="5.8"/><circle cx="1148" cy="808.9" r="5.8"/><circle cx="1158.7" cy="744.3" r="5.8"/><circle cx="1079.9" cy="728.1" r="5.8"/><circle cx="1128.1" cy="743.5" r="5.8"/><circle cx="1134.9" cy="807.9" r="5.8"/><circle cx="1144.6" cy="803.4" r="5.8"/><circle cx="1120" cy="759.4" r="5.8"/><circle cx="1162.1" cy="764.8" r="5.8"/><circle cx="1198.7" cy="801.5" r="5.8"/><circle cx="1150.6" cy="776.2" r="5.8"/><circle cx="1105.8" cy="692.2" r="5.8"/><circle cx="1201.5" cy="782.3" r="5.8"/><circle cx="1118.4" cy="743" r="5.8"/><circle cx="1108.6" cy="768" r="5.8"/><circle cx="1172.2" cy="777.2" r="5.8"/><circle cx="1118.9" cy="785.4" r="5.8"/><circle cx="1165.2" cy="724.7" r="5.8"/><circle cx="1230.3" cy="772.6" r="5.8"/><circle cx="1084.6" cy="755.1" r="5.8"/><circle cx="1137.2" cy="755.1" r="5.8"/><circle cx="1107.5" cy="768.6" r="5.8"/><circle cx="1161.4" cy="804.3" r="5.8"/><circle cx="1127.7" cy="750" r="5.8"/><circle cx="1098.4" cy="788.6" r="5.8"/><circle cx="1110.9" cy="804" r="5.8"/><circle cx="1116.6" cy="738.8" r="5.8"/><circle cx="1119.5" cy="739.4" r="5.8"/><circle cx="1104.9" cy="762.5" r="5.8"/><circle cx="1132.4" cy="811.1" r="5.8"/><circle cx="1165.9" cy="811" r="5.8"/><circle cx="1109.1" cy="797.5" r="5.8"/><circle cx="1093.4" cy="761.1" r="5.8"/><circle cx="1144.8" cy="780" r="5.8"/><circle cx="1109.7" cy="732.4" r="5.8"/><circle cx="1124.4" cy="810.9" r="5.8"/><circle cx="1196.9" cy="794.3" r="5.8"/><circle cx="1202.9" cy="776" r="5.8"/><circle cx="1131.3" cy="809" r="5.8"/><circle cx="1151.1" cy="783.1" r="5.8"/><circle cx="1100.2" cy="783.9" r="5.8"/><circle cx="1129.9" cy="749.9" r="5.8"/><circle cx="1182.9" cy="797.7" r="5.8"/><circle cx="1072.2" cy="755.6" r="5.8"/><circle cx="1100.6" cy="784.2" r="5.8"/><circle cx="1115.5" cy="667.4" r="5.8"/><circle cx="1041.5" cy="658.9" r="5.8"/><circle cx="1139.2" cy="777.7" r="5.8"/><circle cx="1187.8" cy="792.7" r="5.8"/><circle cx="1137.4" cy="701.4" r="5.8"/><circle cx="1107.5" cy="759.3" r="5.8"/><circle cx="1107.4" cy="656.1" r="5.8"/><circle cx="1151.4" cy="785" r="5.8"/><circle cx="1115.4" cy="748.7" r="5.8"/><circle cx="1094.9" cy="749.3" r="5.8"/><circle cx="1135.7" cy="790.6" r="5.8"/><circle cx="1126.5" cy="743.7" r="5.8"/><circle cx="1136.8" cy="796.7" r="5.8"/><circle cx="1184.3" cy="748.7" r="5.8"/><circle cx="1068.4" cy="747.3" r="5.8"/><circle cx="1126.8" cy="764.4" r="5.8"/><circle cx="1125.8" cy="811.4" r="5.8"/><circle cx="1138.4" cy="809.3" r="5.8"/><circle cx="1112" cy="785" r="5.8"/><circle cx="1136.2" cy="758.5" r="5.8"/><circle cx="1213.7" cy="788.5" r="5.8"/><circle cx="1117.9" cy="787.4" r="5.8"/><circle cx="1124.3" cy="758" r="5.8"/><circle cx="1133.5" cy="768.8" r="5.8"/><circle cx="1240.3" cy="802.8" r="5.8"/><circle cx="1129.1" cy="790.5" r="5.8"/><circle cx="1079.7" cy="767.8" r="5.8"/><circle cx="1214.1" cy="784.9" r="5.8"/><circle cx="1108.2" cy="790.6" r="5.8"/><circle cx="1103.6" cy="736" r="5.8"/><circle cx="1131.7" cy="783" r="5.8"/><circle cx="1121.7" cy="738.4" r="5.8"/><circle cx="1149.8" cy="764.7" r="5.8"/><circle cx="1131.4" cy="721.8" r="5.8"/><circle cx="1127.6" cy="748.9" r="5.8"/><circle cx="1104.7" cy="797.3" r="5.8"/><circle cx="1147.1" cy="763.9" r="5.8"/><circle cx="1220.3" cy="791.8" r="5.8"/><circle cx="1159.4" cy="775.8" r="5.8"/><circle cx="1137.4" cy="770.3" r="5.8"/><circle cx="1083" cy="766.9" r="5.8"/><circle cx="1223.9" cy="798.6" r="5.8"/><circle cx="1103.2" cy="775.5" r="5.8"/><circle cx="1078.7" cy="771.7" r="5.8"/><circle cx="1162.8" cy="805.3" r="5.8"/><circle cx="1103.4" cy="749.7" r="5.8"/><circle cx="1170.6" cy="791.1" r="5.8"/><circle cx="1123.5" cy="700.2" r="5.8"/><circle cx="1202.7" cy="778" r="5.8"/><circle cx="1146.1" cy="756.8" r="5.8"/><circle cx="1097.2" cy="779.9" r="5.8"/><circle cx="1201.8" cy="788.4" r="5.8"/><circle cx="1092.2" cy="795.1" r="5.8"/><circle cx="1194.1" cy="772" r="5.8"/><circle cx="1218.9" cy="779" r="5.8"/><circle cx="1145.2" cy="781.6" r="5.8"/><circle cx="1194.2" cy="741.5" r="5.8"/><circle cx="1087.6" cy="752.4" r="5.8"/><circle cx="1102.3" cy="727.6" r="5.8"/><circle cx="1164.2" cy="805.7" r="5.8"/><circle cx="1218.6" cy="804.1" r="5.8"/><circle cx="1078" cy="772.7" r="5.8"/><circle cx="1191.3" cy="772.3" r="5.8"/><circle cx="1184.1" cy="756" r="5.8"/><circle cx="1196.4" cy="783.2" r="5.8"/><circle cx="1139.4" cy="750.3" r="5.8"/><circle cx="1141" cy="794.1" r="5.8"/><circle cx="1088" cy="796.8" r="5.8"/><circle cx="1084.1" cy="774.8" r="5.8"/><circle cx="1238.5" cy="785.1" r="5.8"/><circle cx="1187.4" cy="758.1" r="5.8"/><circle cx="1216.3" cy="801" r="5.8"/><circle cx="1195.8" cy="784" r="5.8"/><circle cx="1076.9" cy="748.1" r="5.8"/><circle cx="1192.8" cy="801.2" r="5.8"/><circle cx="1087" cy="775.8" r="5.8"/><circle cx="1126.4" cy="712.9" r="5.8"/><circle cx="1113" cy="764.1" r="5.8"/><circle cx="1160.7" cy="755.7" r="5.8"/><circle cx="1199" cy="794.3" r="5.8"/><circle cx="1122.7" cy="802.3" r="5.8"/><circle cx="1156.8" cy="809.6" r="5.8"/><circle cx="1166.1" cy="797.1" r="5.8"/><circle cx="1132.8" cy="768.7" r="5.8"/><circle cx="1105.3" cy="754.4" r="5.8"/><circle cx="1106.9" cy="782.6" r="5.8"/><circle cx="1094" cy="800.9" r="5.8"/><circle cx="1225.6" cy="803.7" r="5.8"/><circle cx="1229.9" cy="805.5" r="5.8"/><circle cx="1124.1" cy="757.2" r="5.8"/><circle cx="1080" cy="783.4" r="5.8"/><circle cx="1150.8" cy="745" r="5.8"/><circle cx="1116.1" cy="778.9" r="5.8"/><circle cx="1091.9" cy="785.9" r="5.8"/><circle cx="1086.2" cy="723.9" r="5.8"/><circle cx="1154.4" cy="792.6" r="5.8"/><circle cx="1111.5" cy="705.6" r="5.8"/><circle cx="1090" cy="767.7" r="5.8"/><circle cx="1061.4" cy="742.7" r="5.8"/><circle cx="1158.4" cy="801.8" r="5.8"/><circle cx="1073" cy="742.7" r="5.8"/><circle cx="1120" cy="793" r="5.8"/><circle cx="1079.7" cy="773.7" r="5.8"/><circle cx="1087.4" cy="769.4" r="5.8"/><circle cx="1164.9" cy="804.1" r="5.8"/><circle cx="1147" cy="773" r="5.8"/><circle cx="1135.4" cy="788.9" r="5.8"/><circle cx="1174.1" cy="730.8" r="5.8"/><circle cx="1100.6" cy="754.2" r="5.8"/><circle cx="1114.8" cy="743.9" r="5.8"/><circle cx="1084.3" cy="767.2" r="5.8"/><circle cx="1209.1" cy="793.1" r="5.8"/><circle cx="1136.6" cy="749.3" r="5.8"/><circle cx="1190.4" cy="765.5" r="5.8"/><circle cx="1154.6" cy="787.6" r="5.8"/><circle cx="1205.7" cy="777.2" r="5.8"/><circle cx="1127.9" cy="806.1" r="5.8"/><circle cx="1145.3" cy="777.3" r="5.8"/><circle cx="1153.7" cy="784.9" r="5.8"/><circle cx="1213.7" cy="790.5" r="5.8"/><circle cx="1141.1" cy="749.5" r="5.8"/><circle cx="1188" cy="809.9" r="5.8"/><circle cx="1187.7" cy="767.9" r="5.8"/><circle cx="1151.7" cy="802.1" r="5.8"/><circle cx="1187.1" cy="794.5" r="5.8"/><circle cx="1118.7" cy="809.9" r="5.8"/><circle cx="1133.2" cy="753.9" r="5.8"/><circle cx="1162.2" cy="779.4" r="5.8"/><circle cx="1103.1" cy="781.2" r="5.8"/><circle cx="1086.3" cy="777.9" r="5.8"/><circle cx="1192.1" cy="778.9" r="5.8"/><circle cx="1100.6" cy="801.1" r="5.8"/><circle cx="1120.1" cy="776" r="5.8"/><circle cx="1107.7" cy="742.3" r="5.8"/><circle cx="1137.4" cy="791.6" r="5.8"/><circle cx="1092.7" cy="748.8" r="5.8"/><circle cx="1154.7" cy="795.5" r="5.8"/><circle cx="1131" cy="751.2" r="5.8"/><circle cx="1122.1" cy="765.2" r="5.8"/><circle cx="1167.7" cy="779.4" r="5.8"/><circle cx="1085.9" cy="760.5" r="5.8"/><circle cx="1094.1" cy="751.3" r="5.8"/><circle cx="1140" cy="807.7" r="5.8"/><circle cx="1215.6" cy="777.4" r="5.8"/><circle cx="1170.7" cy="776.7" r="5.8"/><circle cx="1080.2" cy="765.5" r="5.8"/><circle cx="1124.5" cy="753.1" r="5.8"/><circle cx="1207.1" cy="771.6" r="5.8"/><circle cx="1128.1" cy="806.4" r="5.8"/><circle cx="1149" cy="779.6" r="5.8"/><circle cx="1106.9" cy="797" r="5.8"/><circle cx="1189.2" cy="802.7" r="5.8"/><circle cx="1105.7" cy="793" r="5.8"/><circle cx="1116" cy="771.2" r="5.8"/><circle cx="1204.6" cy="764.8" r="5.8"/><circle cx="1140.2" cy="808.8" r="5.8"/><circle cx="1142.2" cy="790.7" r="5.8"/><circle cx="1241.9" cy="792.9" r="5.8"/><circle cx="1107.9" cy="781.3" r="5.8"/><circle cx="1082.8" cy="774.8" r="5.8"/><circle cx="1125.2" cy="767.8" r="5.8"/><circle cx="1205.7" cy="764.3" r="5.8"/><circle cx="1234.5" cy="801.9" r="5.8"/><circle cx="1135.2" cy="766.6" r="5.8"/><circle cx="1103.1" cy="786" r="5.8"/><circle cx="1146.5" cy="767.4" r="5.8"/><circle cx="1171.7" cy="803.4" r="5.8"/><circle cx="1085.7" cy="749.8" r="5.8"/><circle cx="1082.7" cy="787.3" r="5.8"/><circle cx="1099.8" cy="776.8" r="5.8"/><circle cx="1111" cy="801.5" r="5.8"/><circle cx="1026.4" cy="596.9" r="5.8"/><circle cx="1248.2" cy="797.2" r="5.8"/><circle cx="1090.9" cy="756.7" r="5.8"/><circle cx="1218.8" cy="747.3" r="5.8"/><circle cx="1205" cy="788.6" r="5.8"/><circle cx="1163.9" cy="786.4" r="5.8"/><circle cx="1183.9" cy="791.1" r="5.8"/><circle cx="1196.6" cy="763.8" r="5.8"/><circle cx="1096.3" cy="753.2" r="5.8"/><circle cx="1178.2" cy="801.4" r="5.8"/><circle cx="1144.9" cy="702.5" r="5.8"/><circle cx="1122.4" cy="805.3" r="5.8"/><circle cx="1116" cy="697.2" r="5.8"/><circle cx="1102.3" cy="796" r="5.8"/></g>
<path class="gr" d="M877 820.7V463.3M967.7 820.7V463.3M1058.3 820.7V463.3M1149 820.7V463.3M1239.7 820.7V463.3M786.3 731.4H1330.4M786.3 642H1330.4M786.3 552.7H1330.4"/>
<path class="tk" d="M877 820.7v-10.2M877 463.3v10.2M967.7 820.7v-10.2M967.7 463.3v10.2M1058.3 820.7v-10.2M1058.3 463.3v10.2M1149 820.7v-10.2M1149 463.3v10.2M1239.7 820.7v-10.2M1239.7 463.3v10.2M786.3 731.4h10.2M1330.4 731.4h-10.2M786.3 642h10.2M1330.4 642h-10.2M786.3 552.7h10.2M1330.4 552.7h-10.2"/>
<path class="ds" clip-path="url(#cp3)" stroke-dashoffset="1.5" d="M786.3 499L1112.8 820.7"/>
<path class="ds" clip-path="url(#cp3)" stroke-dashoffset="2.5" d="M786.3 409.7L1203.4 820.7"/>
<path class="ds" clip-path="url(#cp3)" stroke-dashoffset="-1.4" d="M786.3 320.3L1294.1 820.7"/>
<g class="mk" fill="#008000"><circle cx="1130.1" cy="808.3" r="5.8"/><circle cx="1176.9" cy="800.7" r="5.8"/><circle cx="1095.2" cy="783.7" r="5.8"/><circle cx="1089" cy="777.8" r="5.8"/><circle cx="1119.7" cy="786.2" r="5.8"/><circle cx="1099.1" cy="768" r="5.8"/><circle cx="1115.3" cy="776.9" r="5.8"/><circle cx="1194.2" cy="753.2" r="5.8"/><circle cx="1103.9" cy="784.3" r="5.8"/><circle cx="1188.9" cy="801.5" r="5.8"/><circle cx="1169.7" cy="802.3" r="5.8"/><circle cx="1178.3" cy="744.6" r="5.8"/><circle cx="1231.5" cy="777.4" r="5.8"/><circle cx="1217" cy="777.1" r="5.8"/><circle cx="1151.8" cy="766" r="5.8"/><circle cx="1092" cy="762.7" r="5.8"/><circle cx="1116.2" cy="786.1" r="5.8"/><circle cx="1155.6" cy="704.3" r="5.8"/><circle cx="1158.1" cy="786.9" r="5.8"/><circle cx="1120.3" cy="736.5" r="5.8"/></g>
<rect class="sp" x="786.3" y="463.3" width="544.1" height="357.4"/>
<text class="tl" text-anchor="end" transform="translate(777.3 477.1) scale(1 1.035)">20</text>
<text class="tl" text-anchor="end" transform="translate(777.3 566.7) scale(1 1.035)">15</text>
<text class="tl" text-anchor="end" transform="translate(777.3 656.3) scale(1 1.035)">10</text>
<text class="tl" text-anchor="end" transform="translate(777.3 745.9) scale(1 1.035)">5</text>
<text class="tl" text-anchor="end" transform="translate(777.3 835.5) scale(1 1.035)">0</text>
<text class="tl" text-anchor="middle" transform="translate(786.7 854.7) scale(1 1.035)">0</text>
<text class="tl" text-anchor="middle" transform="translate(877.4 854.7) scale(1 1.035)">5</text>
<text class="tl" text-anchor="middle" transform="translate(968 854.7) scale(1 1.035)">10</text>
<text class="tl" text-anchor="middle" transform="translate(1058.7 854.7) scale(1 1.035)">15</text>
<text class="tl" text-anchor="middle" transform="translate(1149.4 854.7) scale(1 1.035)">20</text>
<text class="tl" text-anchor="middle" transform="translate(1240.1 854.7) scale(1 1.035)">25</text>
<text class="tl" text-anchor="middle" transform="translate(1330.7 854.7) scale(1 1.035)">30</text>
<text class="hb" transform="translate(1206.2 522.3) scale(1 1.035)">HAB4</text>
</g>
<g>
<clipPath id="cp4"><rect x="133.4" y="901.4" width="544" height="357.3"/></clipPath>
<g class="mk" fill="#800080"><circle cx="422.4" cy="1151.9" r="5.8"/><circle cx="431" cy="1167.2" r="5.8"/><circle cx="415.8" cy="1078.8" r="5.8"/><circle cx="481.1" cy="1185.6" r="5.8"/><circle cx="424.3" cy="1196.4" r="5.8"/><circle cx="334.1" cy="1037.2" r="5.8"/><circle cx="536.8" cy="1191.1" r="5.8"/><circle cx="424" cy="1094.7" r="5.8"/><circle cx="409.2" cy="1106.9" r="5.8"/><circle cx="439.7" cy="1169.8" r="5.8"/><circle cx="428.4" cy="1156.2" r="5.8"/><circle cx="420" cy="1156.1" r="5.8"/><circle cx="458.7" cy="1176.4" r="5.8"/><circle cx="419.3" cy="1123.6" r="5.8"/><circle cx="495.9" cy="1198.3" r="5.8"/><circle cx="421.3" cy="1103" r="5.8"/><circle cx="479.4" cy="1164.7" r="5.8"/><circle cx="433.5" cy="1181.9" r="5.8"/><circle cx="460" cy="1232.2" r="5.8"/><circle cx="526.5" cy="1196.8" r="5.8"/><circle cx="482.6" cy="1126.5" r="5.8"/><circle cx="463.1" cy="1136.2" r="5.8"/><circle cx="501.9" cy="1175.6" r="5.8"/><circle cx="450.9" cy="1137.2" r="5.8"/><circle cx="458.3" cy="1113.7" r="5.8"/><circle cx="505.5" cy="1211.2" r="5.8"/><circle cx="447.7" cy="1183.3" r="5.8"/><circle cx="425.5" cy="1080.9" r="5.8"/><circle cx="461.8" cy="1231.3" r="5.8"/><circle cx="397.9" cy="1147.5" r="5.8"/><circle cx="429.1" cy="1067.5" r="5.8"/><circle cx="499.1" cy="1149.6" r="5.8"/><circle cx="361.9" cy="1079" r="5.8"/><circle cx="503.3" cy="1218.2" r="5.8"/><circle cx="517.3" cy="1241.6" r="5.8"/><circle cx="432.8" cy="1187.4" r="5.8"/><circle cx="432.4" cy="1071.7" r="5.8"/><circle cx="388.7" cy="1063" r="5.8"/><circle cx="317.1" cy="1121.7" r="5.8"/><circle cx="422.4" cy="1173.9" r="5.8"/><circle cx="430" cy="1126.5" r="5.8"/><circle cx="426" cy="1131.2" r="5.8"/><circle cx="458.7" cy="1172.2" r="5.8"/><circle cx="453.4" cy="1195.2" r="5.8"/><circle cx="431.2" cy="1161.2" r="5.8"/><circle cx="453.1" cy="1130.2" r="5.8"/><circle cx="445.7" cy="1211.8" r="5.8"/><circle cx="501.3" cy="1150.9" r="5.8"/><circle cx="468.8" cy="1206.1" r="5.8"/><circle cx="504.2" cy="1222.9" r="5.8"/><circle cx="480.5" cy="1197.2" r="5.8"/><circle cx="455.8" cy="1160.9" r="5.8"/><circle cx="437" cy="1171.6" r="5.8"/><circle cx="396.3" cy="1198" r="5.8"/><circle cx="444.4" cy="1179" r="5.8"/><circle cx="473" cy="1156.6" r="5.8"/><circle cx="448.8" cy="1188.4" r="5.8"/><circle cx="446.5" cy="1137" r="5.8"/><circle cx="415.2" cy="1127.4" r="5.8"/><circle cx="407.2" cy="1153.3" r="5.8"/><circle cx="490.3" cy="1190.9" r="5.8"/><circle cx="348.6" cy="1071.7" r="5.8"/><circle cx="439.5" cy="1113.2" r="5.8"/><circle cx="481.1" cy="1142.4" r="5.8"/><circle cx="563.2" cy="1224.4" r="5.8"/><circle cx="477.1" cy="1197.2" r="5.8"/><circle cx="527.7" cy="1186.5" r="5.8"/><circle cx="471.4" cy="1152" r="5.8"/><circle cx="417.6" cy="1103.9" r="5.8"/><circle cx="425.1" cy="1090" r="5.8"/><circle cx="511" cy="1236.2" r="5.8"/><circle cx="461.1" cy="1125.6" r="5.8"/><circle cx="496.9" cy="1200.3" r="5.8"/><circle cx="471.1" cy="1175.8" r="5.8"/><circle cx="450.7" cy="1194.5" r="5.8"/><circle cx="368.1" cy="1184.9" r="5.8"/><circle cx="418.3" cy="1140.4" r="5.8"/><circle cx="510.4" cy="1165.8" r="5.8"/><circle cx="428.7" cy="1162.6" r="5.8"/><circle cx="514.7" cy="1196.6" r="5.8"/><circle cx="377.9" cy="1142.2" r="5.8"/><circle cx="418.6" cy="1107.3" r="5.8"/><circle cx="420.7" cy="1136.8" r="5.8"/><circle cx="428.8" cy="1103.3" r="5.8"/><circle cx="434.3" cy="1098.5" r="5.8"/><circle cx="451.2" cy="1122.5" r="5.8"/><circle cx="455.1" cy="1135.9" r="5.8"/><circle cx="479.2" cy="1138.5" r="5.8"/><circle cx="422" cy="1148.6" r="5.8"/><circle cx="472.9" cy="1193.3" r="5.8"/><circle cx="513.5" cy="1171.1" r="5.8"/><circle cx="466.8" cy="1139.4" r="5.8"/><circle cx="518.7" cy="1197.8" r="5.8"/><circle cx="419" cy="1141.7" r="5.8"/><circle cx="455.3" cy="1183" r="5.8"/><circle cx="470.3" cy="1220.6" r="5.8"/><circle cx="391" cy="1082" r="5.8"/><circle cx="376.8" cy="1052.2" r="5.8"/><circle cx="402.1" cy="1046" r="5.8"/><circle cx="436.1" cy="1148.3" r="5.8"/><circle cx="397.9" cy="1175" r="5.8"/><circle cx="489.7" cy="1133.9" r="5.8"/><circle cx="541.4" cy="1195.7" r="5.8"/><circle cx="425.8" cy="1166.1" r="5.8"/><circle cx="519.2" cy="1196.7" r="5.8"/><circle cx="456.9" cy="1207" r="5.8"/><circle cx="394.5" cy="1052.2" r="5.8"/><circle cx="500.5" cy="1230.2" r="5.8"/><circle cx="459" cy="1163.1" r="5.8"/><circle cx="426.2" cy="1138.4" r="5.8"/><circle cx="380.7" cy="1048.7" r="5.8"/><circle cx="450.5" cy="1186.9" r="5.8"/><circle cx="392.2" cy="1127.9" r="5.8"/><circle cx="435.8" cy="1134.7" r="5.8"/><circle cx="312.3" cy="1068.2" r="5.8"/><circle cx="437.1" cy="1174.2" r="5.8"/><circle cx="418.1" cy="1178" r="5.8"/><circle cx="408.6" cy="1164" r="5.8"/><circle cx="395.2" cy="1039.1" r="5.8"/><circle cx="444.2" cy="1120.6" r="5.8"/><circle cx="456.7" cy="1217.5" r="5.8"/><circle cx="427.2" cy="1089" r="5.8"/><circle cx="452.1" cy="1185.4" r="5.8"/><circle cx="467.4" cy="1140" r="5.8"/><circle cx="496.2" cy="1178.5" r="5.8"/><circle cx="464.9" cy="1130.9" r="5.8"/><circle cx="507.9" cy="1207.3" r="5.8"/><circle cx="334.1" cy="1061.3" r="5.8"/><circle cx="408.5" cy="1163.9" r="5.8"/><circle cx="421.6" cy="1094.6" r="5.8"/><circle cx="446.5" cy="1153.9" r="5.8"/><circle cx="483.5" cy="1212.7" r="5.8"/><circle cx="492.1" cy="1152" r="5.8"/><circle cx="451.4" cy="1138.5" r="5.8"/><circle cx="447.6" cy="1154.2" r="5.8"/><circle cx="495.7" cy="1195.2" r="5.8"/><circle cx="373.8" cy="1079.7" r="5.8"/><circle cx="387.6" cy="1090.1" r="5.8"/><circle cx="472.4" cy="1209.3" r="5.8"/><circle cx="492.8" cy="1147.3" r="5.8"/><circle cx="429.7" cy="1081.8" r="5.8"/><circle cx="479.5" cy="1207.3" r="5.8"/><circle cx="470.4" cy="1164" r="5.8"/><circle cx="447.1" cy="1142" r="5.8"/><circle cx="501.1" cy="1193.4" r="5.8"/><circle cx="448.7" cy="1128.6" r="5.8"/><circle cx="511.3" cy="1208.9" r="5.8"/><circle cx="519.3" cy="1192.1" r="5.8"/><circle cx="403" cy="1146.9" r="5.8"/><circle cx="470.4" cy="1163.4" r="5.8"/><circle cx="459.9" cy="1105" r="5.8"/><circle cx="450.7" cy="1144" r="5.8"/><circle cx="420.4" cy="1069.4" r="5.8"/><circle cx="421.6" cy="1051" r="5.8"/><circle cx="376.1" cy="1085.5" r="5.8"/><circle cx="472.5" cy="1130.2" r="5.8"/><circle cx="419.5" cy="1147.8" r="5.8"/><circle cx="437" cy="1132.5" r="5.8"/><circle cx="510.4" cy="1224.4" r="5.8"/><circle cx="372.7" cy="1094.6" r="5.8"/><circle cx="374.5" cy="1035.6" r="5.8"/><circle cx="471.5" cy="1131.1" r="5.8"/><circle cx="515" cy="1229.4" r="5.8"/><circle cx="460.2" cy="1173" r="5.8"/><circle cx="455.1" cy="1158.3" r="5.8"/><circle cx="349" cy="1127.5" r="5.8"/><circle cx="345.8" cy="1076.3" r="5.8"/><circle cx="403.7" cy="1070" r="5.8"/><circle cx="442.7" cy="1240.5" r="5.8"/><circle cx="517.5" cy="1217.8" r="5.8"/><circle cx="484" cy="1227.8" r="5.8"/><circle cx="481.1" cy="1184.5" r="5.8"/><circle cx="420.9" cy="1065.9" r="5.8"/><circle cx="520.2" cy="1193.7" r="5.8"/><circle cx="434.7" cy="1152" r="5.8"/><circle cx="459.9" cy="1223.2" r="5.8"/><circle cx="354.3" cy="1036.6" r="5.8"/><circle cx="437.3" cy="1085.1" r="5.8"/><circle cx="446.2" cy="1150.4" r="5.8"/><circle cx="469.3" cy="1177.1" r="5.8"/><circle cx="501.9" cy="1210" r="5.8"/><circle cx="413.2" cy="1110.2" r="5.8"/><circle cx="447.5" cy="1162.3" r="5.8"/><circle cx="517.3" cy="1171.6" r="5.8"/><circle cx="406" cy="1055.6" r="5.8"/><circle cx="420.4" cy="1151.6" r="5.8"/><circle cx="570.6" cy="1242.1" r="5.8"/><circle cx="520.1" cy="1191.4" r="5.8"/><circle cx="493.2" cy="1210.6" r="5.8"/><circle cx="465.4" cy="1197.2" r="5.8"/><circle cx="474.8" cy="1173.9" r="5.8"/><circle cx="452.1" cy="1116.9" r="5.8"/><circle cx="426.7" cy="1087.1" r="5.8"/><circle cx="539.1" cy="1212.9" r="5.8"/><circle cx="407.1" cy="1068.2" r="5.8"/><circle cx="407.1" cy="1119.9" r="5.8"/><circle cx="352.5" cy="1054.9" r="5.8"/><circle cx="439.7" cy="1184.9" r="5.8"/><circle cx="491.4" cy="1167.1" r="5.8"/><circle cx="450.7" cy="1169.3" r="5.8"/><circle cx="412.8" cy="1133.3" r="5.8"/><circle cx="450.8" cy="1100.1" r="5.8"/><circle cx="459.9" cy="1181.4" r="5.8"/><circle cx="482.9" cy="1140.8" r="5.8"/><circle cx="504" cy="1210" r="5.8"/><circle cx="510" cy="1207.6" r="5.8"/><circle cx="567.8" cy="1223.2" r="5.8"/><circle cx="496.2" cy="1169.4" r="5.8"/><circle cx="463.7" cy="1126.8" r="5.8"/><circle cx="392.2" cy="1164" r="5.8"/><circle cx="536.8" cy="1224.4" r="5.8"/><circle cx="447.5" cy="1105.1" r="5.8"/><circle cx="442.7" cy="1101.5" r="5.8"/><circle cx="461.1" cy="1171.6" r="5.8"/><circle cx="481.8" cy="1220.8" r="5.8"/><circle cx="466.9" cy="1128.1" r="5.8"/><circle cx="442.9" cy="1114.6" r="5.8"/><circle cx="473.7" cy="1217.5" r="5.8"/><circle cx="432.4" cy="1079.3" r="5.8"/><circle cx="442.7" cy="1113" r="5.8"/><circle cx="467.8" cy="1204.3" r="5.8"/><circle cx="423" cy="1136.1" r="5.8"/><circle cx="484" cy="1138.3" r="5.8"/><circle cx="455" cy="1196.6" r="5.8"/><circle cx="430.6" cy="1121.9" r="5.8"/><circle cx="492.1" cy="1127.9" r="5.8"/><circle cx="461.6" cy="1155.1" r="5.8"/><circle cx="369.2" cy="1110" r="5.8"/><circle cx="515.6" cy="1160.7" r="5.8"/><circle cx="414" cy="1089.2" r="5.8"/><circle cx="458.5" cy="1125.5" r="5.8"/><circle cx="519.6" cy="1226.8" r="5.8"/><circle cx="322.1" cy="1041.4" r="5.8"/><circle cx="463.2" cy="1206.8" r="5.8"/><circle cx="483" cy="1218.2" r="5.8"/><circle cx="506.6" cy="1183.6" r="5.8"/><circle cx="455.8" cy="1111.5" r="5.8"/><circle cx="410.6" cy="1042.5" r="5.8"/><circle cx="342.4" cy="1083.2" r="5.8"/><circle cx="489.8" cy="1119.9" r="5.8"/><circle cx="495.9" cy="1183.8" r="5.8"/><circle cx="437" cy="1086.6" r="5.8"/><circle cx="488" cy="1181.4" r="5.8"/><circle cx="406.6" cy="1159.3" r="5.8"/><circle cx="475.3" cy="1152.2" r="5.8"/><circle cx="445.2" cy="1205.8" r="5.8"/><circle cx="397.9" cy="1115.3" r="5.8"/><circle cx="511" cy="1204.8" r="5.8"/><circle cx="467.7" cy="1205.9" r="5.8"/><circle cx="360.5" cy="1135.3" r="5.8"/><circle cx="458" cy="1180.4" r="5.8"/><circle cx="452.9" cy="1158" r="5.8"/><circle cx="442.2" cy="1071" r="5.8"/><circle cx="434.6" cy="1107.9" r="5.8"/><circle cx="402.6" cy="1067.6" r="5.8"/><circle cx="441.3" cy="1099.5" r="5.8"/><circle cx="468.7" cy="1142.2" r="5.8"/><circle cx="485" cy="1145.9" r="5.8"/><circle cx="419.3" cy="1127.3" r="5.8"/><circle cx="489.8" cy="1191.1" r="5.8"/><circle cx="433.3" cy="1183.4" r="5.8"/><circle cx="484.4" cy="1191.5" r="5.8"/><circle cx="482" cy="1193.7" r="5.8"/><circle cx="478.9" cy="1128.9" r="5.8"/><circle cx="417.3" cy="1113.9" r="5.8"/><circle cx="341.7" cy="1091.2" r="5.8"/><circle cx="431.3" cy="1091.9" r="5.8"/><circle cx="549.5" cy="1212.9" r="5.8"/><circle cx="394.5" cy="1072.8" r="5.8"/><circle cx="436.9" cy="1188.7" r="5.8"/><circle cx="413.4" cy="1124" r="5.8"/><circle cx="447.5" cy="1163.9" r="5.8"/><circle cx="458.7" cy="1117.3" r="5.8"/><circle cx="380.7" cy="1098.1" r="5.8"/><circle cx="475.2" cy="1201.4" r="5.8"/><circle cx="447.3" cy="1194.4" r="5.8"/><circle cx="470.3" cy="1117.2" r="5.8"/><circle cx="475.9" cy="1128.9" r="5.8"/><circle cx="486.3" cy="1197.3" r="5.8"/><circle cx="464.2" cy="1147.4" r="5.8"/><circle cx="450.3" cy="1187.3" r="5.8"/><circle cx="440.4" cy="1143.4" r="5.8"/><circle cx="426.6" cy="1087.9" r="5.8"/><circle cx="517.3" cy="1215.2" r="5.8"/><circle cx="477.8" cy="1115.3" r="5.8"/><circle cx="497.4" cy="1199" r="5.8"/><circle cx="475.6" cy="1172.1" r="5.8"/><circle cx="430.2" cy="1080" r="5.8"/><circle cx="350.2" cy="1017.3" r="5.8"/><circle cx="552.9" cy="1231.3" r="5.8"/><circle cx="428.3" cy="1147.5" r="5.8"/><circle cx="469.2" cy="1200.6" r="5.8"/><circle cx="399.8" cy="1033.1" r="5.8"/><circle cx="495.1" cy="1230.2" r="5.8"/><circle cx="435.6" cy="1149" r="5.8"/><circle cx="441.4" cy="1110.5" r="5.8"/><circle cx="517.3" cy="1157.8" r="5.8"/><circle cx="464.5" cy="1125.1" r="5.8"/><circle cx="467.1" cy="1226.5" r="5.8"/><circle cx="451.4" cy="1170.9" r="5.8"/><circle cx="417.3" cy="1153.1" r="5.8"/><circle cx="508.9" cy="1179.3" r="5.8"/><circle cx="405.7" cy="1066" r="5.8"/><circle cx="467.1" cy="1199.7" r="5.8"/><circle cx="519.6" cy="1231.3" r="5.8"/><circle cx="419.2" cy="1107.3" r="5.8"/><circle cx="493.1" cy="1168.6" r="5.8"/><circle cx="505.4" cy="1202" r="5.8"/><circle cx="455.4" cy="1140.5" r="5.8"/><circle cx="419.2" cy="1148.2" r="5.8"/><circle cx="442.5" cy="1127.7" r="5.8"/><circle cx="473.7" cy="1200.3" r="5.8"/><circle cx="487.8" cy="1188.6" r="5.8"/><circle cx="378.4" cy="1131.4" r="5.8"/><circle cx="491.8" cy="1224.6" r="5.8"/><circle cx="450.7" cy="1134.4" r="5.8"/><circle cx="416.8" cy="1096.7" r="5.8"/><circle cx="483.3" cy="1221.7" r="5.8"/><circle cx="519.4" cy="1224.1" r="5.8"/><circle cx="409.4" cy="1154.3" r="5.8"/><circle cx="468.7" cy="1180.9" r="5.8"/><circle cx="477.7" cy="1167.1" r="5.8"/><circle cx="424.6" cy="1152.4" r="5.8"/><circle cx="493.8" cy="1155.5" r="5.8"/><circle cx="442.1" cy="1159" r="5.8"/><circle cx="455.9" cy="1202.5" r="5.8"/><circle cx="439.3" cy="1141.7" r="5.8"/><circle cx="420.9" cy="1094.6" r="5.8"/><circle cx="415.6" cy="1091.4" r="5.8"/><circle cx="456" cy="1205.9" r="5.8"/><circle cx="455.9" cy="1144.1" r="5.8"/><circle cx="439.6" cy="1179.2" r="5.8"/><circle cx="406.9" cy="1073.9" r="5.8"/><circle cx="493.4" cy="1233.3" r="5.8"/><circle cx="502" cy="1177.7" r="5.8"/><circle cx="508" cy="1200.4" r="5.8"/><circle cx="504.8" cy="1207.7" r="5.8"/><circle cx="489.8" cy="1198" r="5.8"/><circle cx="550.6" cy="1199.1" r="5.8"/><circle cx="506.2" cy="1211.8" r="5.8"/><circle cx="379.1" cy="1155.5" r="5.8"/><circle cx="402.3" cy="1077.1" r="5.8"/><circle cx="423.8" cy="1113" r="5.8"/><circle cx="339.4" cy="1019.3" r="5.8"/><circle cx="455.1" cy="1188.5" r="5.8"/><circle cx="419.9" cy="1136" r="5.8"/><circle cx="473.3" cy="1193.6" r="5.8"/><circle cx="457.7" cy="1158.1" r="5.8"/></g>
<path class="gr" d="M224.1 1258.7V901.4M314.7 1258.7V901.4M405.4 1258.7V901.4M496.1 1258.7V901.4M586.7 1258.7V901.4M133.4 1169.4H677.4M133.4 1080H677.4M133.4 990.7H677.4"/>
<path class="tk" d="M224.1 1258.7v-10.2M224.1 901.4v10.2M314.7 1258.7v-10.2M314.7 901.4v10.2M405.4 1258.7v-10.2M405.4 901.4v10.2M496.1 1258.7v-10.2M496.1 901.4v10.2M586.7 1258.7v-10.2M586.7 901.4v10.2M133.4 1169.4h10.2M677.4 1169.4h-10.2M133.4 1080h10.2M677.4 1080h-10.2M133.4 990.7h10.2M677.4 990.7h-10.2"/>
<path class="ds" clip-path="url(#cp4)" stroke-dashoffset="1.5" d="M133.4 937.1L459.8 1258.7"/>
<path class="ds" clip-path="url(#cp4)" stroke-dashoffset="2.5" d="M133.4 847.8L550.5 1258.7"/>
<path class="ds" clip-path="url(#cp4)" stroke-dashoffset="-1.4" d="M133.4 758.5L641.1 1258.7"/>
<g class="mk" fill="#800080"><circle cx="395.6" cy="1139.4" r="5.8"/><circle cx="485.1" cy="1148.4" r="5.8"/><circle cx="507.4" cy="1212.5" r="5.8"/><circle cx="471.7" cy="1166" r="5.8"/><circle cx="351.3" cy="1099.2" r="5.8"/><circle cx="407.1" cy="1138.3" r="5.8"/><circle cx="499" cy="1232.4" r="5.8"/><circle cx="526.5" cy="1190.5" r="5.8"/><circle cx="506.5" cy="1183.7" r="5.8"/><circle cx="431.2" cy="1107.3" r="5.8"/></g>
<rect class="sp" x="133.4" y="901.4" width="544" height="357.3"/>
<text class="tl" text-anchor="end" transform="translate(123.3 917.3) scale(1 1.035)">20</text>
<text class="tl" text-anchor="end" transform="translate(123.3 1006.8) scale(1 1.035)">15</text>
<text class="tl" text-anchor="end" transform="translate(123.3 1096.4) scale(1 1.035)">10</text>
<text class="tl" text-anchor="end" transform="translate(123.3 1186) scale(1 1.035)">5</text>
<text class="tl" text-anchor="end" transform="translate(123.3 1275.5) scale(1 1.035)">0</text>
<text class="tl" text-anchor="middle" transform="translate(130.3 1292) scale(1 1.035)">0</text>
<text class="tl" text-anchor="middle" transform="translate(221 1292) scale(1 1.035)">5</text>
<text class="tl" text-anchor="middle" transform="translate(311.6 1292) scale(1 1.035)">10</text>
<text class="tl" text-anchor="middle" transform="translate(402.3 1292) scale(1 1.035)">15</text>
<text class="tl" text-anchor="middle" transform="translate(493 1292) scale(1 1.035)">20</text>
<text class="tl" text-anchor="middle" transform="translate(583.7 1292) scale(1 1.035)">25</text>
<text class="tl" text-anchor="middle" transform="translate(674.3 1292) scale(1 1.035)">30</text>
<text class="hb" transform="translate(553.3 960.6) scale(1 1.035)">HAB5</text>
</g>
<g>
<clipPath id="cp5"><rect x="786.3" y="901.4" width="544.1" height="357.3"/></clipPath>
<g class="mk" fill="#0000ff"><circle cx="1045.7" cy="1130.5" r="5.8"/><circle cx="1138.1" cy="1160.4" r="5.8"/><circle cx="1044.4" cy="1090.9" r="5.8"/><circle cx="1069.9" cy="1183.2" r="5.8"/><circle cx="1041.7" cy="1087" r="5.8"/><circle cx="1029.5" cy="1126.1" r="5.8"/><circle cx="1082.8" cy="1190.9" r="5.8"/><circle cx="1018.7" cy="1046.3" r="5.8"/><circle cx="1041.5" cy="1060.9" r="5.8"/><circle cx="974.7" cy="1050.5" r="5.8"/><circle cx="1027.7" cy="1072.1" r="5.8"/><circle cx="986.7" cy="1100.9" r="5.8"/><circle cx="1061.1" cy="1083" r="5.8"/><circle cx="1075" cy="1198.1" r="5.8"/><circle cx="1001.5" cy="1056.4" r="5.8"/><circle cx="1052.9" cy="1194.4" r="5.8"/><circle cx="989.3" cy="1042.9" r="5.8"/><circle cx="1055.3" cy="1181" r="5.8"/><circle cx="1042.7" cy="1125.7" r="5.8"/><circle cx="1038.6" cy="1174.1" r="5.8"/><circle cx="1074.8" cy="1202.7" r="5.8"/><circle cx="1008.1" cy="1095.7" r="5.8"/><circle cx="1008.1" cy="1139" r="5.8"/><circle cx="1106.7" cy="1232.3" r="5.8"/><circle cx="991.4" cy="1029.5" r="5.8"/><circle cx="1058.9" cy="1149.3" r="5.8"/><circle cx="1013.8" cy="1126.1" r="5.8"/><circle cx="1066.3" cy="1203" r="5.8"/><circle cx="1008.8" cy="1079.8" r="5.8"/><circle cx="1079.5" cy="1160.9" r="5.8"/><circle cx="1119" cy="1236.1" r="5.8"/><circle cx="1065.3" cy="1229.7" r="5.8"/><circle cx="1084" cy="1111.8" r="5.8"/><circle cx="1060.9" cy="1163.7" r="5.8"/><circle cx="1060" cy="1183.8" r="5.8"/><circle cx="1003.2" cy="1165.7" r="5.8"/><circle cx="1003.5" cy="1026.5" r="5.8"/><circle cx="1063" cy="1096.6" r="5.8"/><circle cx="1080.1" cy="1111.3" r="5.8"/><circle cx="1019.8" cy="1156.4" r="5.8"/><circle cx="1022.2" cy="1125.5" r="5.8"/><circle cx="1049.7" cy="1072.9" r="5.8"/><circle cx="998.9" cy="1040.1" r="5.8"/><circle cx="996.1" cy="1087" r="5.8"/><circle cx="1025.8" cy="1157.3" r="5.8"/><circle cx="1020.1" cy="1163" r="5.8"/><circle cx="1031.8" cy="1153.5" r="5.8"/><circle cx="974.6" cy="1041.7" r="5.8"/><circle cx="1014.4" cy="1123.3" r="5.8"/><circle cx="1069.1" cy="1108.2" r="5.8"/><circle cx="1045.9" cy="1105.9" r="5.8"/><circle cx="1030.4" cy="1117.5" r="5.8"/><circle cx="1082.4" cy="1143.1" r="5.8"/><circle cx="1085" cy="1122" r="5.8"/><circle cx="1056.7" cy="1127.7" r="5.8"/><circle cx="1040" cy="1114.4" r="5.8"/><circle cx="998.1" cy="1140.1" r="5.8"/><circle cx="1018.6" cy="1116.6" r="5.8"/><circle cx="991.5" cy="1113.3" r="5.8"/><circle cx="1164" cy="1200.4" r="5.8"/><circle cx="1002.6" cy="1081.5" r="5.8"/><circle cx="1006.5" cy="1055.3" r="5.8"/><circle cx="993.6" cy="1113.1" r="5.8"/><circle cx="1011.6" cy="1053.5" r="5.8"/><circle cx="1014" cy="1072.5" r="5.8"/><circle cx="1087.3" cy="1214.2" r="5.8"/><circle cx="1021.3" cy="1133.4" r="5.8"/><circle cx="1047.7" cy="1097.9" r="5.8"/><circle cx="1039.4" cy="1185.6" r="5.8"/><circle cx="930.7" cy="1007.8" r="5.8"/><circle cx="1075.7" cy="1090.6" r="5.8"/><circle cx="1050.1" cy="1212.4" r="5.8"/><circle cx="1055.1" cy="1179.7" r="5.8"/><circle cx="1049.3" cy="1086.5" r="5.8"/><circle cx="1042.7" cy="1130.1" r="5.8"/><circle cx="1045.3" cy="1175.8" r="5.8"/><circle cx="1053.8" cy="1069.1" r="5.8"/><circle cx="1084.3" cy="1132.8" r="5.8"/><circle cx="1041.3" cy="1089.5" r="5.8"/><circle cx="1012.8" cy="1179.3" r="5.8"/><circle cx="1066.4" cy="1184.7" r="5.8"/><circle cx="1001.1" cy="1106.6" r="5.8"/><circle cx="1090.1" cy="1099" r="5.8"/><circle cx="1007.1" cy="1115.7" r="5.8"/><circle cx="1049.6" cy="1184.5" r="5.8"/><circle cx="1077.7" cy="1131.7" r="5.8"/><circle cx="1066.7" cy="1213.2" r="5.8"/><circle cx="1009.2" cy="1108.8" r="5.8"/><circle cx="959.5" cy="1004.6" r="5.8"/><circle cx="1018.7" cy="1034.5" r="5.8"/><circle cx="1051.3" cy="1183.3" r="5.8"/><circle cx="982" cy="1059.2" r="5.8"/><circle cx="980.5" cy="1020.4" r="5.8"/><circle cx="1089.7" cy="1192.1" r="5.8"/><circle cx="1063.7" cy="1102.5" r="5.8"/><circle cx="1120" cy="1239.8" r="5.8"/><circle cx="998.5" cy="1037.2" r="5.8"/><circle cx="1022.3" cy="1174.1" r="5.8"/><circle cx="1075.4" cy="1144" r="5.8"/><circle cx="1024.8" cy="1054.2" r="5.8"/><circle cx="984.7" cy="1050.6" r="5.8"/><circle cx="1079.6" cy="1109" r="5.8"/><circle cx="1059" cy="1176.4" r="5.8"/><circle cx="1088" cy="1141.2" r="5.8"/><circle cx="1078.7" cy="1198.5" r="5.8"/><circle cx="1088.2" cy="1218.1" r="5.8"/><circle cx="996.2" cy="1060.3" r="5.8"/><circle cx="1053.3" cy="1059.8" r="5.8"/><circle cx="1102.5" cy="1219.6" r="5.8"/><circle cx="1037.6" cy="1091.7" r="5.8"/><circle cx="1138.1" cy="1155" r="5.8"/><circle cx="1032.5" cy="1086.8" r="5.8"/><circle cx="1013.9" cy="1078.6" r="5.8"/><circle cx="1075.2" cy="1146.5" r="5.8"/><circle cx="966.7" cy="1018.5" r="5.8"/><circle cx="1063.8" cy="1105.1" r="5.8"/><circle cx="1004.4" cy="1152.2" r="5.8"/><circle cx="1109.5" cy="1224.2" r="5.8"/><circle cx="1059.7" cy="1169.6" r="5.8"/><circle cx="981" cy="1040.6" r="5.8"/><circle cx="1081.7" cy="1190.6" r="5.8"/><circle cx="993.6" cy="1054.9" r="5.8"/><circle cx="1152" cy="1199.8" r="5.8"/><circle cx="972.5" cy="1041.2" r="5.8"/><circle cx="1068.8" cy="1101.2" r="5.8"/><circle cx="990.7" cy="1031.8" r="5.8"/><circle cx="1030.9" cy="1056.4" r="5.8"/><circle cx="986.5" cy="1095.3" r="5.8"/><circle cx="1031.8" cy="1061" r="5.8"/><circle cx="1113.3" cy="1155" r="5.8"/><circle cx="1069.2" cy="1155.1" r="5.8"/><circle cx="984.4" cy="1072.8" r="5.8"/><circle cx="1084.1" cy="1126.5" r="5.8"/><circle cx="1003.6" cy="1110.7" r="5.8"/><circle cx="1044.2" cy="1152" r="5.8"/><circle cx="1053.3" cy="1070.4" r="5.8"/><circle cx="966.7" cy="1092.6" r="5.8"/><circle cx="1018.7" cy="1138.5" r="5.8"/><circle cx="990.6" cy="1070.5" r="5.8"/><circle cx="1124" cy="1226.5" r="5.8"/><circle cx="1157.9" cy="1201.2" r="5.8"/><circle cx="1034.7" cy="1151.8" r="5.8"/><circle cx="1072" cy="1161.2" r="5.8"/><circle cx="1055" cy="1197.5" r="5.8"/><circle cx="1045.7" cy="1112.8" r="5.8"/><circle cx="1055.1" cy="1195.3" r="5.8"/><circle cx="990.7" cy="1115.8" r="5.8"/><circle cx="1058.5" cy="1116.9" r="5.8"/><circle cx="993.7" cy="1078" r="5.8"/><circle cx="969.3" cy="1063.8" r="5.8"/><circle cx="1030" cy="1100.1" r="5.8"/><circle cx="1112" cy="1234.5" r="5.8"/><circle cx="1069.2" cy="1148" r="5.8"/><circle cx="984.2" cy="1042.9" r="5.8"/><circle cx="1037.5" cy="1157.3" r="5.8"/><circle cx="1114.7" cy="1194.5" r="5.8"/><circle cx="1020.8" cy="1161.7" r="5.8"/><circle cx="1016.5" cy="1091.2" r="5.8"/><circle cx="1039.8" cy="1068.8" r="5.8"/><circle cx="1035" cy="1078.7" r="5.8"/><circle cx="1079.2" cy="1097.5" r="5.8"/><circle cx="1030" cy="1167.4" r="5.8"/><circle cx="1089.8" cy="1206.4" r="5.8"/><circle cx="979.7" cy="1057.1" r="5.8"/><circle cx="1033" cy="1059.4" r="5.8"/><circle cx="1057.2" cy="1140" r="5.8"/><circle cx="1104.5" cy="1222.3" r="5.8"/><circle cx="1080.9" cy="1151.4" r="5.8"/><circle cx="1055.9" cy="1164.7" r="5.8"/><circle cx="1010.5" cy="1081.7" r="5.8"/><circle cx="1047.7" cy="1114.8" r="5.8"/><circle cx="1120.6" cy="1226.6" r="5.8"/><circle cx="1067.1" cy="1111.6" r="5.8"/><circle cx="1026.4" cy="1062.9" r="5.8"/><circle cx="1071.2" cy="1161.8" r="5.8"/><circle cx="1091.2" cy="1217.7" r="5.8"/><circle cx="1041.3" cy="1055.8" r="5.8"/><circle cx="1040.1" cy="1086.4" r="5.8"/><circle cx="1010.7" cy="1041.6" r="5.8"/><circle cx="1054.1" cy="1121.6" r="5.8"/><circle cx="1003.6" cy="1091.6" r="5.8"/><circle cx="1073.2" cy="1205.6" r="5.8"/><circle cx="1002.9" cy="1059.4" r="5.8"/><circle cx="1063.4" cy="1141.7" r="5.8"/><circle cx="1057.5" cy="1140.1" r="5.8"/><circle cx="1060.8" cy="1123.8" r="5.8"/><circle cx="998.3" cy="1139.6" r="5.8"/><circle cx="1008.5" cy="1172.9" r="5.8"/><circle cx="1015.4" cy="1058.2" r="5.8"/><circle cx="1076" cy="1100.4" r="5.8"/><circle cx="1027.8" cy="1111.3" r="5.8"/><circle cx="994.7" cy="1108.6" r="5.8"/><circle cx="1100.2" cy="1195.2" r="5.8"/><circle cx="1044.1" cy="1196.5" r="5.8"/><circle cx="1033.5" cy="1168.9" r="5.8"/><circle cx="1021.7" cy="1064.3" r="5.8"/><circle cx="983.1" cy="1056.4" r="5.8"/><circle cx="1106.7" cy="1191.8" r="5.8"/><circle cx="1010.5" cy="1043.4" r="5.8"/><circle cx="1036" cy="1023.3" r="5.8"/><circle cx="1064.7" cy="1188.3" r="5.8"/><circle cx="997.9" cy="1152.8" r="5.8"/><circle cx="1056" cy="1161.2" r="5.8"/><circle cx="999.1" cy="1082.1" r="5.8"/><circle cx="997.3" cy="1101.2" r="5.8"/><circle cx="1075.4" cy="1190.7" r="5.8"/><circle cx="1033.8" cy="1127.3" r="5.8"/><circle cx="1026.6" cy="1161" r="5.8"/><circle cx="1074.2" cy="1207.6" r="5.8"/><circle cx="1040" cy="1085.7" r="5.8"/><circle cx="1081.7" cy="1134.5" r="5.8"/><circle cx="1010.7" cy="1116.4" r="5.8"/><circle cx="1052.2" cy="1071.3" r="5.8"/><circle cx="1032" cy="1190.5" r="5.8"/><circle cx="1083" cy="1216.3" r="5.8"/><circle cx="988" cy="1055.8" r="5.8"/><circle cx="1020.3" cy="1097.6" r="5.8"/><circle cx="1036.5" cy="1160.6" r="5.8"/><circle cx="1076" cy="1171" r="5.8"/><circle cx="1022.7" cy="1117.2" r="5.8"/><circle cx="992.6" cy="1109" r="5.8"/><circle cx="1105.4" cy="1225.7" r="5.8"/><circle cx="991.9" cy="1065.6" r="5.8"/><circle cx="943.2" cy="991.8" r="5.8"/><circle cx="1088" cy="1120.4" r="5.8"/><circle cx="1033.8" cy="1070.5" r="5.8"/><circle cx="1064.8" cy="1209.1" r="5.8"/><circle cx="1086.7" cy="1131.8" r="5.8"/><circle cx="1096" cy="1203.8" r="5.8"/><circle cx="1046.4" cy="1159.6" r="5.8"/><circle cx="1005.3" cy="1121.2" r="5.8"/><circle cx="1094.6" cy="1217.5" r="5.8"/><circle cx="1086.7" cy="1219.8" r="5.8"/><circle cx="1072.1" cy="1201.9" r="5.8"/><circle cx="1030.3" cy="1148.2" r="5.8"/><circle cx="999.7" cy="1111.2" r="5.8"/><circle cx="1042.5" cy="1141.2" r="5.8"/><circle cx="989.5" cy="1038.1" r="5.8"/><circle cx="986.9" cy="1045.5" r="5.8"/><circle cx="1065.2" cy="1152.7" r="5.8"/><circle cx="1053.4" cy="1096.5" r="5.8"/><circle cx="1116.8" cy="1238.7" r="5.8"/><circle cx="1071.3" cy="1206.9" r="5.8"/><circle cx="1048.1" cy="1064.9" r="5.8"/><circle cx="1025.3" cy="1089.2" r="5.8"/><circle cx="1053.8" cy="1078.1" r="5.8"/><circle cx="1045.9" cy="1191.5" r="5.8"/><circle cx="1044.6" cy="1101.2" r="5.8"/><circle cx="1034" cy="1089.9" r="5.8"/><circle cx="978.6" cy="1041.7" r="5.8"/><circle cx="987.9" cy="1047" r="5.8"/><circle cx="1010.7" cy="1016.6" r="5.8"/><circle cx="954.1" cy="1071.3" r="5.8"/><circle cx="1066.7" cy="1082.4" r="5.8"/><circle cx="1069.5" cy="1164.5" r="5.8"/><circle cx="1066.8" cy="1209.6" r="5.8"/><circle cx="1113.4" cy="1226.4" r="5.8"/><circle cx="1012" cy="1093.7" r="5.8"/><circle cx="1044.7" cy="1062.5" r="5.8"/><circle cx="1168" cy="1192.6" r="5.8"/><circle cx="990.3" cy="1047.9" r="5.8"/><circle cx="946.1" cy="1043" r="5.8"/><circle cx="1145.3" cy="1222.5" r="5.8"/><circle cx="1064" cy="1219.8" r="5.8"/><circle cx="1034.3" cy="1163.3" r="5.8"/><circle cx="1030.7" cy="1141.2" r="5.8"/><circle cx="1046.1" cy="1119.7" r="5.8"/><circle cx="1005.8" cy="1114.8" r="5.8"/><circle cx="1208" cy="1240.4" r="5.8"/><circle cx="1022.2" cy="1083.9" r="5.8"/><circle cx="1055.4" cy="1083.1" r="5.8"/><circle cx="985.3" cy="1106.5" r="5.8"/><circle cx="1078.1" cy="1157.8" r="5.8"/><circle cx="1042.7" cy="1205.2" r="5.8"/><circle cx="1121.3" cy="1167.3" r="5.8"/><circle cx="989.8" cy="1075.3" r="5.8"/><circle cx="1078.1" cy="1160.2" r="5.8"/><circle cx="1063.5" cy="1124.9" r="5.8"/><circle cx="979.4" cy="1035.5" r="5.8"/><circle cx="1069.3" cy="1071.3" r="5.8"/><circle cx="1016.8" cy="1054.6" r="5.8"/><circle cx="992.8" cy="1120.1" r="5.8"/><circle cx="1101.9" cy="1152.4" r="5.8"/><circle cx="1095.5" cy="1174" r="5.8"/><circle cx="1067.8" cy="1205.1" r="5.8"/><circle cx="1124" cy="1234.5" r="5.8"/><circle cx="1068.7" cy="1197.7" r="5.8"/><circle cx="1029.2" cy="1058.7" r="5.8"/><circle cx="986.5" cy="1062.8" r="5.8"/><circle cx="1068.4" cy="1095.2" r="5.8"/><circle cx="994.7" cy="1125.2" r="5.8"/><circle cx="1050.9" cy="1075.3" r="5.8"/><circle cx="1031.9" cy="1166.4" r="5.8"/><circle cx="1067.4" cy="1198.8" r="5.8"/><circle cx="983.7" cy="1056.2" r="5.8"/><circle cx="984.6" cy="1061.5" r="5.8"/><circle cx="1048" cy="1154.5" r="5.8"/><circle cx="1002.6" cy="1073.3" r="5.8"/><circle cx="1051.1" cy="1185.6" r="5.8"/><circle cx="1019.3" cy="1156.1" r="5.8"/><circle cx="1066.8" cy="1161.9" r="5.8"/><circle cx="1031.4" cy="1075.8" r="5.8"/><circle cx="1016.8" cy="1145.1" r="5.8"/><circle cx="1066.2" cy="1193.3" r="5.8"/><circle cx="1026.6" cy="1135.5" r="5.8"/><circle cx="1050.2" cy="1168.3" r="5.8"/><circle cx="950.7" cy="1064.4" r="5.8"/><circle cx="1030" cy="1124.3" r="5.8"/><circle cx="979.5" cy="1055.8" r="5.8"/><circle cx="1081.9" cy="1208.9" r="5.8"/><circle cx="994.3" cy="1063.9" r="5.8"/><circle cx="1104" cy="1229.2" r="5.8"/><circle cx="1047.5" cy="1096.1" r="5.8"/><circle cx="1086" cy="1136.1" r="5.8"/><circle cx="1078.7" cy="1080.4" r="5.8"/><circle cx="986.2" cy="1044.2" r="5.8"/><circle cx="1050.7" cy="1123.8" r="5.8"/><circle cx="1013.1" cy="1047" r="5.8"/><circle cx="1042.4" cy="1152.8" r="5.8"/><circle cx="1021.3" cy="1051.8" r="5.8"/><circle cx="998.1" cy="1053.4" r="5.8"/><circle cx="1020" cy="1063.8" r="5.8"/><circle cx="1111.6" cy="1214.4" r="5.8"/><circle cx="1057" cy="1095.5" r="5.8"/><circle cx="1057.1" cy="1205.3" r="5.8"/><circle cx="978.7" cy="1071.3" r="5.8"/><circle cx="1057.8" cy="1122" r="5.8"/><circle cx="1041.3" cy="1107.8" r="5.8"/><circle cx="1134.7" cy="1169.2" r="5.8"/><circle cx="1080.5" cy="1203.2" r="5.8"/><circle cx="1020.7" cy="1107.6" r="5.8"/><circle cx="1161.3" cy="1185.2" r="5.8"/><circle cx="896.8" cy="1020.6" r="5.8"/><circle cx="1054.3" cy="1150.2" r="5.8"/><circle cx="1055.2" cy="1080.9" r="5.8"/><circle cx="1071.5" cy="1222.6" r="5.8"/><circle cx="1073.5" cy="1216.3" r="5.8"/><circle cx="1142.7" cy="1216.4" r="5.8"/><circle cx="1012.7" cy="1091.2" r="5.8"/><circle cx="937.3" cy="1042" r="5.8"/><circle cx="1023.9" cy="1124.4" r="5.8"/><circle cx="1068.6" cy="1082.6" r="5.8"/><circle cx="1010.8" cy="1097.5" r="5.8"/><circle cx="1140" cy="1170" r="5.8"/><circle cx="1017.4" cy="1039.6" r="5.8"/><circle cx="1024" cy="1107.8" r="5.8"/><circle cx="1036.3" cy="1096.8" r="5.8"/><circle cx="1078.8" cy="1215.2" r="5.8"/><circle cx="1069.1" cy="1158" r="5.8"/><circle cx="996.9" cy="1117" r="5.8"/><circle cx="1078.8" cy="1221.7" r="5.8"/><circle cx="1024.7" cy="1095.1" r="5.8"/><circle cx="1011.6" cy="1096.1" r="5.8"/><circle cx="1008" cy="1072.9" r="5.8"/><circle cx="996" cy="1041.2" r="5.8"/><circle cx="1066.7" cy="1085.7" r="5.8"/><circle cx="1081.3" cy="1162" r="5.8"/><circle cx="1046.1" cy="1202.4" r="5.8"/><circle cx="1068.9" cy="1198.1" r="5.8"/><circle cx="1077.1" cy="1198.7" r="5.8"/><circle cx="1004.7" cy="1163.5" r="5.8"/><circle cx="1004.9" cy="1083.1" r="5.8"/><circle cx="1049.3" cy="1206.5" r="5.8"/><circle cx="1074.9" cy="1148.1" r="5.8"/><circle cx="992.6" cy="1066.9" r="5.8"/><circle cx="1024.6" cy="1177.5" r="5.8"/><circle cx="1077.5" cy="1158.4" r="5.8"/><circle cx="983.2" cy="1043" r="5.8"/><circle cx="1009.5" cy="1077" r="5.8"/><circle cx="1076.8" cy="1169" r="5.8"/><circle cx="1012.4" cy="1114.1" r="5.8"/><circle cx="1079.8" cy="1139.4" r="5.8"/></g>
<path class="gr" d="M877 1258.7V901.4M967.7 1258.7V901.4M1058.3 1258.7V901.4M1149 1258.7V901.4M1239.7 1258.7V901.4M786.3 1169.4H1330.4M786.3 1080H1330.4M786.3 990.7H1330.4"/>
<path class="tk" d="M877 1258.7v-10.2M877 901.4v10.2M967.7 1258.7v-10.2M967.7 901.4v10.2M1058.3 1258.7v-10.2M1058.3 901.4v10.2M1149 1258.7v-10.2M1149 901.4v10.2M1239.7 1258.7v-10.2M1239.7 901.4v10.2M786.3 1169.4h10.2M1330.4 1169.4h-10.2M786.3 1080h10.2M1330.4 1080h-10.2M786.3 990.7h10.2M1330.4 990.7h-10.2"/>
<path class="ds" clip-path="url(#cp5)" stroke-dashoffset="1.5" d="M786.3 937.1L1112.8 1258.7"/>
<path class="ds" clip-path="url(#cp5)" stroke-dashoffset="2.5" d="M786.3 847.8L1203.4 1258.7"/>
<path class="ds" clip-path="url(#cp5)" stroke-dashoffset="-1.4" d="M786.3 758.5L1294.1 1258.7"/>
<g class="mk" fill="#0000ff"><circle cx="1048.7" cy="1089" r="5.8"/><circle cx="988" cy="1027.8" r="5.8"/><circle cx="1116" cy="1246.5" r="5.8"/><circle cx="1056.6" cy="1072.9" r="5.8"/><circle cx="1047.1" cy="1148.8" r="5.8"/><circle cx="1032.8" cy="1059.7" r="5.8"/><circle cx="1054.6" cy="1199.1" r="5.8"/><circle cx="1005.2" cy="1144.1" r="5.8"/><circle cx="1093.7" cy="1223" r="5.8"/><circle cx="920.5" cy="1015.3" r="5.8"/></g>
<rect class="sp" x="786.3" y="901.4" width="544.1" height="357.3"/>
<text class="tl" text-anchor="end" transform="translate(777.3 917.3) scale(1 1.035)">20</text>
<text class="tl" text-anchor="end" transform="translate(777.3 1006.8) scale(1 1.035)">15</text>
<text class="tl" text-anchor="end" transform="translate(777.3 1096.4) scale(1 1.035)">10</text>
<text class="tl" text-anchor="end" transform="translate(777.3 1186) scale(1 1.035)">5</text>
<text class="tl" text-anchor="end" transform="translate(777.3 1275.5) scale(1 1.035)">0</text>
<text class="tl" text-anchor="middle" transform="translate(784 1292) scale(1 1.035)">0</text>
<text class="tl" text-anchor="middle" transform="translate(874.7 1292) scale(1 1.035)">5</text>
<text class="tl" text-anchor="middle" transform="translate(965.3 1292) scale(1 1.035)">10</text>
<text class="tl" text-anchor="middle" transform="translate(1056 1292) scale(1 1.035)">15</text>
<text class="tl" text-anchor="middle" transform="translate(1146.7 1292) scale(1 1.035)">20</text>
<text class="tl" text-anchor="middle" transform="translate(1237.3 1292) scale(1 1.035)">25</text>
<text class="tl" text-anchor="middle" transform="translate(1328 1292) scale(1 1.035)">30</text>
<text class="hb" transform="translate(1206.2 960.6) scale(1 1.035)">HAB6</text>
</g>
<text class="bt" transform="translate(151.0 128.3) rotate(45.4)">Body temp = 18C</text>
<text class="bt" transform="translate(318.2 56.0) rotate(45.4)">Body temp = 28C</text>
<text class="ax" x="480.6" y="1362.8">Ambient temperature (°C)</text>
<text class="ax" transform="translate(36.4 1282.2) rotate(-90)" xml:space="preserve" style="white-space:pre">Temperature difference between body  and ambient water (°C)</text>
</svg>
</body></html>
